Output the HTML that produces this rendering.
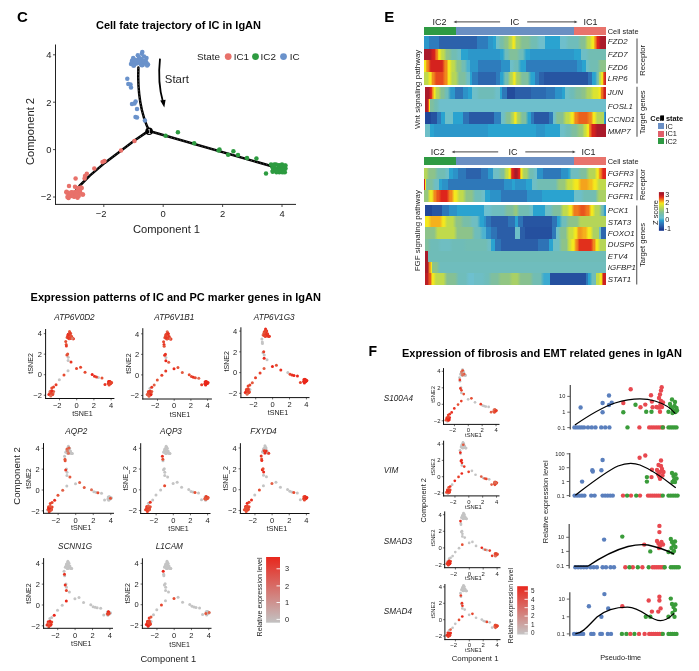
<!DOCTYPE html>
<html><head><meta charset="utf-8"><title>Figure</title>
<style>
html,body{margin:0;padding:0;background:#fff;width:699px;height:671px;overflow:hidden}
svg{display:block}
text{font-family:'Liberation Sans', Arial, sans-serif}
</style></head><body>
<svg width="699" height="671" viewBox="0 0 699 671">
<rect x="0" y="0" width="699" height="671" fill="#fff"/>
<text x="17" y="21.8" font-size="15" font-weight="bold">C</text>
<text x="178.5" y="29.3" font-size="11" text-anchor="middle" font-weight="bold">Cell fate trajectory of IC in IgAN</text>
<line x1="55.5" y1="44.5" x2="55.5" y2="204.9" stroke="#222" stroke-width="1"/>
<line x1="55" y1="204.4" x2="296" y2="204.4" stroke="#222" stroke-width="1"/>
<line x1="53" y1="54.8" x2="55.5" y2="54.8" stroke="#222" stroke-width="0.8"/>
<text x="51.5" y="58.1" font-size="9.4" text-anchor="end" fill="#222">4</text>
<line x1="53" y1="102.2" x2="55.5" y2="102.2" stroke="#222" stroke-width="0.8"/>
<text x="51.5" y="105.5" font-size="9.4" text-anchor="end" fill="#222">2</text>
<line x1="53" y1="149.6" x2="55.5" y2="149.6" stroke="#222" stroke-width="0.8"/>
<text x="51.5" y="152.9" font-size="9.4" text-anchor="end" fill="#222">0</text>
<line x1="53" y1="197" x2="55.5" y2="197" stroke="#222" stroke-width="0.8"/>
<text x="51.5" y="200.3" font-size="9.4" text-anchor="end" fill="#222">−2</text>
<line x1="103.8" y1="204.4" x2="103.8" y2="207" stroke="#222" stroke-width="0.8"/>
<text x="101.2" y="216.6" font-size="9.4" text-anchor="middle" fill="#222">−2</text>
<line x1="163.2" y1="204.4" x2="163.2" y2="207" stroke="#222" stroke-width="0.8"/>
<text x="163.2" y="216.6" font-size="9.4" text-anchor="middle" fill="#222">0</text>
<line x1="222.6" y1="204.4" x2="222.6" y2="207" stroke="#222" stroke-width="0.8"/>
<text x="222.6" y="216.6" font-size="9.4" text-anchor="middle" fill="#222">2</text>
<line x1="282" y1="204.4" x2="282" y2="207" stroke="#222" stroke-width="0.8"/>
<text x="282" y="216.6" font-size="9.4" text-anchor="middle" fill="#222">4</text>
<text x="166.5" y="233.2" font-size="11.2" text-anchor="middle" fill="#222">Component 1</text>
<text x="33.8" y="131.5" font-size="11.2" text-anchor="middle" fill="#222" transform="rotate(-90 33.8 131.5)">Component 2</text>
<g fill="none" stroke="#000" stroke-width="2.5" stroke-linecap="round" stroke-linejoin="round">
<path d="M138.4 67.6 C137.5 90 140 112 149.2 131"/>
<path d="M149.2 131 L146.4 132.4 L134.5 140.5 L119.6 151.7 L104.7 162.9 L89.8 175.6 L79.4 186 L76.4 189.7"/>
<path d="M149.2 131 L273.6 166.8"/>
</g>
<g fill="none" stroke="#fff" stroke-opacity="0.45" stroke-width="0.6" stroke-dasharray="1.3 1.9">
<path d="M138.4 67.6 C137.5 90 140 112 149.2 131"/>
<path d="M149.2 131 L146.4 132.4 L134.5 140.5 L119.6 151.7 L104.7 162.9 L89.8 175.6 L79.4 186 L76.4 189.7"/>
<path d="M149.2 131 L273.6 166.8"/>
</g>
<circle cx="134.5" cy="141" r="2.25" fill="#e8716a"/>
<circle cx="66.85" cy="192.51" r="2.25" fill="#e8716a"/>
<circle cx="77.54" cy="188.43" r="2.25" fill="#e8716a"/>
<circle cx="86.8" cy="173.8" r="2.25" fill="#e8716a"/>
<circle cx="78.74" cy="195.91" r="2.25" fill="#e8716a"/>
<circle cx="75.18" cy="192.04" r="2.25" fill="#e8716a"/>
<circle cx="77.21" cy="195.08" r="2.25" fill="#e8716a"/>
<circle cx="282.8" cy="167.64" r="2.25" fill="#2d9b40"/>
<circle cx="130.5" cy="84.5" r="2.25" fill="#6a92cb"/>
<circle cx="144.9" cy="120.5" r="2.25" fill="#6a92cb"/>
<circle cx="279.88" cy="171.62" r="2.25" fill="#2d9b40"/>
<circle cx="77.6" cy="197.67" r="2.25" fill="#e8716a"/>
<circle cx="284.58" cy="167.64" r="2.25" fill="#2d9b40"/>
<circle cx="135.41" cy="60.04" r="2.25" fill="#6a92cb"/>
<circle cx="280.06" cy="170.06" r="2.25" fill="#2d9b40"/>
<circle cx="281.99" cy="164.57" r="2.25" fill="#2d9b40"/>
<circle cx="75.36" cy="195.32" r="2.25" fill="#e8716a"/>
<circle cx="73.05" cy="193.32" r="2.25" fill="#e8716a"/>
<circle cx="285.5" cy="165.43" r="2.25" fill="#2d9b40"/>
<circle cx="279.6" cy="165.45" r="2.25" fill="#2d9b40"/>
<circle cx="72.57" cy="195.25" r="2.25" fill="#e8716a"/>
<circle cx="83" cy="194.49" r="2.25" fill="#e8716a"/>
<circle cx="284.76" cy="165.96" r="2.25" fill="#2d9b40"/>
<circle cx="104.5" cy="161" r="2.25" fill="#e8716a"/>
<circle cx="138.29" cy="62.43" r="2.25" fill="#6a92cb"/>
<circle cx="143.17" cy="60.81" r="2.25" fill="#6a92cb"/>
<circle cx="80.16" cy="192.25" r="2.25" fill="#e8716a"/>
<circle cx="145.51" cy="60.92" r="2.25" fill="#6a92cb"/>
<circle cx="84.6" cy="178.6" r="2.25" fill="#e8716a"/>
<circle cx="137.85" cy="61.24" r="2.25" fill="#6a92cb"/>
<circle cx="134.5" cy="103.5" r="2.25" fill="#6a92cb"/>
<circle cx="69" cy="186" r="2.25" fill="#e8716a"/>
<circle cx="72.2" cy="192.46" r="2.25" fill="#e8716a"/>
<circle cx="139.62" cy="62.46" r="2.25" fill="#6a92cb"/>
<circle cx="72.59" cy="194.58" r="2.25" fill="#e8716a"/>
<circle cx="70.69" cy="195.27" r="2.25" fill="#e8716a"/>
<circle cx="228.1" cy="154.7" r="2.25" fill="#2d9b40"/>
<circle cx="137.46" cy="60.74" r="2.25" fill="#6a92cb"/>
<circle cx="71.22" cy="192.34" r="2.25" fill="#e8716a"/>
<circle cx="272.7" cy="171.82" r="2.25" fill="#2d9b40"/>
<circle cx="277" cy="170.85" r="2.25" fill="#2d9b40"/>
<circle cx="273.11" cy="170.35" r="2.25" fill="#2d9b40"/>
<circle cx="280.71" cy="166.77" r="2.25" fill="#2d9b40"/>
<circle cx="138.19" cy="62.05" r="2.25" fill="#6a92cb"/>
<circle cx="68.49" cy="198.01" r="2.25" fill="#e8716a"/>
<circle cx="142.68" cy="65.05" r="2.25" fill="#6a92cb"/>
<circle cx="136.68" cy="63.52" r="2.25" fill="#6a92cb"/>
<circle cx="277.53" cy="168.88" r="2.25" fill="#2d9b40"/>
<circle cx="67.41" cy="197.09" r="2.25" fill="#e8716a"/>
<circle cx="78.38" cy="193.58" r="2.25" fill="#e8716a"/>
<circle cx="131" cy="64" r="2.25" fill="#6a92cb"/>
<circle cx="74.64" cy="195.11" r="2.25" fill="#e8716a"/>
<circle cx="137.67" cy="61.81" r="2.25" fill="#6a92cb"/>
<circle cx="75.67" cy="194.17" r="2.25" fill="#e8716a"/>
<circle cx="70.3" cy="196.15" r="2.25" fill="#e8716a"/>
<circle cx="74.51" cy="196.71" r="2.25" fill="#e8716a"/>
<circle cx="73.37" cy="192.67" r="2.25" fill="#e8716a"/>
<circle cx="73.72" cy="196.17" r="2.25" fill="#e8716a"/>
<circle cx="132.66" cy="64.12" r="2.25" fill="#6a92cb"/>
<circle cx="279.29" cy="172.13" r="2.25" fill="#2d9b40"/>
<circle cx="132.1" cy="61.37" r="2.25" fill="#6a92cb"/>
<circle cx="146.5" cy="58" r="2.25" fill="#6a92cb"/>
<circle cx="256.4" cy="158.4" r="2.25" fill="#2d9b40"/>
<circle cx="278.93" cy="168.23" r="2.25" fill="#2d9b40"/>
<circle cx="278.91" cy="165.15" r="2.25" fill="#2d9b40"/>
<circle cx="266" cy="173.4" r="2.25" fill="#2d9b40"/>
<circle cx="78.24" cy="190.23" r="2.25" fill="#e8716a"/>
<circle cx="143.79" cy="62.42" r="2.25" fill="#6a92cb"/>
<circle cx="272.5" cy="167.33" r="2.25" fill="#2d9b40"/>
<circle cx="76.41" cy="193.5" r="2.25" fill="#e8716a"/>
<circle cx="73.23" cy="196.35" r="2.25" fill="#e8716a"/>
<circle cx="140.87" cy="62.69" r="2.25" fill="#6a92cb"/>
<circle cx="78.57" cy="189.45" r="2.25" fill="#e8716a"/>
<circle cx="276.48" cy="172.2" r="2.25" fill="#2d9b40"/>
<circle cx="276.01" cy="164.62" r="2.25" fill="#2d9b40"/>
<circle cx="281.46" cy="170.8" r="2.25" fill="#2d9b40"/>
<circle cx="82.44" cy="194.41" r="2.25" fill="#e8716a"/>
<circle cx="145.5" cy="61.01" r="2.25" fill="#6a92cb"/>
<circle cx="132.95" cy="62.28" r="2.25" fill="#6a92cb"/>
<circle cx="139.09" cy="61.67" r="2.25" fill="#6a92cb"/>
<circle cx="146.61" cy="62.94" r="2.25" fill="#6a92cb"/>
<circle cx="219.5" cy="149.4" r="2.25" fill="#2d9b40"/>
<circle cx="144.56" cy="63.04" r="2.25" fill="#6a92cb"/>
<circle cx="140.67" cy="59.33" r="2.25" fill="#6a92cb"/>
<circle cx="238" cy="155" r="2.25" fill="#2d9b40"/>
<circle cx="141.54" cy="64.24" r="2.25" fill="#6a92cb"/>
<circle cx="75.6" cy="178.6" r="2.25" fill="#e8716a"/>
<circle cx="136.05" cy="61.85" r="2.25" fill="#6a92cb"/>
<circle cx="79.9" cy="190.62" r="2.25" fill="#e8716a"/>
<circle cx="280" cy="168.61" r="2.25" fill="#2d9b40"/>
<circle cx="127.3" cy="78.7" r="2.25" fill="#6a92cb"/>
<circle cx="137" cy="109" r="2.25" fill="#6a92cb"/>
<circle cx="71.67" cy="193.22" r="2.25" fill="#e8716a"/>
<circle cx="81" cy="187.5" r="2.25" fill="#e8716a"/>
<circle cx="133.2" cy="58" r="2.25" fill="#6a92cb"/>
<circle cx="139" cy="57.8" r="2.25" fill="#6a92cb"/>
<circle cx="284.82" cy="172.32" r="2.25" fill="#2d9b40"/>
<circle cx="121" cy="150.4" r="2.25" fill="#e8716a"/>
<circle cx="140.07" cy="61.59" r="2.25" fill="#6a92cb"/>
<circle cx="132" cy="104" r="2.25" fill="#6a92cb"/>
<circle cx="81.72" cy="188" r="2.25" fill="#e8716a"/>
<circle cx="136.13" cy="63.03" r="2.25" fill="#6a92cb"/>
<circle cx="134.19" cy="62.47" r="2.25" fill="#6a92cb"/>
<circle cx="131" cy="87.6" r="2.25" fill="#6a92cb"/>
<circle cx="194.2" cy="143.2" r="2.25" fill="#2d9b40"/>
<circle cx="142.3" cy="52" r="2.25" fill="#6a92cb"/>
<circle cx="128.3" cy="84" r="2.25" fill="#6a92cb"/>
<circle cx="284.68" cy="167.85" r="2.25" fill="#2d9b40"/>
<circle cx="78.01" cy="194.98" r="2.25" fill="#e8716a"/>
<circle cx="137.8" cy="55.2" r="2.25" fill="#6a92cb"/>
<circle cx="73.94" cy="196.09" r="2.25" fill="#e8716a"/>
<circle cx="279.39" cy="170.9" r="2.25" fill="#2d9b40"/>
<circle cx="280.22" cy="171.29" r="2.25" fill="#2d9b40"/>
<circle cx="281" cy="169.32" r="2.25" fill="#2d9b40"/>
<circle cx="73.26" cy="194.28" r="2.25" fill="#e8716a"/>
<circle cx="138.75" cy="61.02" r="2.25" fill="#6a92cb"/>
<circle cx="148" cy="64.5" r="2.25" fill="#6a92cb"/>
<circle cx="283.27" cy="167.57" r="2.25" fill="#2d9b40"/>
<circle cx="135.5" cy="117" r="2.25" fill="#6a92cb"/>
<circle cx="133.81" cy="63.14" r="2.25" fill="#6a92cb"/>
<circle cx="72.19" cy="195.33" r="2.25" fill="#e8716a"/>
<circle cx="132.13" cy="60.5" r="2.25" fill="#6a92cb"/>
<circle cx="144" cy="56.5" r="2.25" fill="#6a92cb"/>
<circle cx="271" cy="164.6" r="2.25" fill="#2d9b40"/>
<circle cx="134.8" cy="62.24" r="2.25" fill="#6a92cb"/>
<circle cx="283.06" cy="167.86" r="2.25" fill="#2d9b40"/>
<circle cx="140.78" cy="58.68" r="2.25" fill="#6a92cb"/>
<circle cx="141.85" cy="65.34" r="2.25" fill="#6a92cb"/>
<circle cx="69.28" cy="194.18" r="2.25" fill="#e8716a"/>
<circle cx="138.89" cy="61.66" r="2.25" fill="#6a92cb"/>
<circle cx="279.26" cy="166.79" r="2.25" fill="#2d9b40"/>
<circle cx="68.2" cy="193.12" r="2.25" fill="#e8716a"/>
<circle cx="141.8" cy="53.8" r="2.25" fill="#6a92cb"/>
<circle cx="279.57" cy="170.38" r="2.25" fill="#2d9b40"/>
<circle cx="75" cy="186.7" r="2.25" fill="#e8716a"/>
<circle cx="134" cy="65.4" r="2.25" fill="#6a92cb"/>
<circle cx="142.39" cy="60.6" r="2.25" fill="#6a92cb"/>
<circle cx="79.29" cy="189.95" r="2.25" fill="#e8716a"/>
<circle cx="285.5" cy="168.41" r="2.25" fill="#2d9b40"/>
<circle cx="66.5" cy="192.14" r="2.25" fill="#e8716a"/>
<circle cx="141.01" cy="64.56" r="2.25" fill="#6a92cb"/>
<circle cx="78.59" cy="188" r="2.25" fill="#e8716a"/>
<circle cx="142.72" cy="61.45" r="2.25" fill="#6a92cb"/>
<circle cx="94.3" cy="168.6" r="2.25" fill="#e8716a"/>
<circle cx="272.73" cy="170.97" r="2.25" fill="#2d9b40"/>
<circle cx="277.66" cy="170.98" r="2.25" fill="#2d9b40"/>
<circle cx="66.5" cy="191.73" r="2.25" fill="#e8716a"/>
<circle cx="284.03" cy="170.17" r="2.25" fill="#2d9b40"/>
<circle cx="233.4" cy="151.3" r="2.25" fill="#2d9b40"/>
<circle cx="275.29" cy="168.27" r="2.25" fill="#2d9b40"/>
<circle cx="279.08" cy="168.78" r="2.25" fill="#2d9b40"/>
<circle cx="282.28" cy="172.27" r="2.25" fill="#2d9b40"/>
<circle cx="274.25" cy="164.53" r="2.25" fill="#2d9b40"/>
<circle cx="165.6" cy="135.8" r="2.25" fill="#2d9b40"/>
<circle cx="218.6" cy="150.5" r="2.25" fill="#2d9b40"/>
<circle cx="137" cy="117.5" r="2.25" fill="#6a92cb"/>
<circle cx="281.75" cy="165.89" r="2.25" fill="#2d9b40"/>
<circle cx="277.25" cy="170.5" r="2.25" fill="#2d9b40"/>
<circle cx="177.9" cy="132.3" r="2.25" fill="#2d9b40"/>
<circle cx="273.03" cy="165.59" r="2.25" fill="#2d9b40"/>
<circle cx="75.45" cy="193.9" r="2.25" fill="#e8716a"/>
<circle cx="85" cy="176" r="2.25" fill="#e8716a"/>
<circle cx="140.26" cy="62.58" r="2.25" fill="#6a92cb"/>
<circle cx="135.07" cy="61.18" r="2.25" fill="#6a92cb"/>
<circle cx="247" cy="157.9" r="2.25" fill="#2d9b40"/>
<circle cx="102.5" cy="162" r="2.25" fill="#e8716a"/>
<circle cx="280.38" cy="169.9" r="2.25" fill="#2d9b40"/>
<circle cx="133.39" cy="65.5" r="2.25" fill="#6a92cb"/>
<circle cx="147.12" cy="65.41" r="2.25" fill="#6a92cb"/>
<circle cx="76.32" cy="193.08" r="2.25" fill="#e8716a"/>
<circle cx="135.6" cy="101.5" r="2.25" fill="#6a92cb"/>
<circle cx="76.18" cy="195.03" r="2.25" fill="#e8716a"/>
<circle cx="134.39" cy="59.76" r="2.25" fill="#6a92cb"/>
<circle cx="283.58" cy="172.02" r="2.25" fill="#2d9b40"/>
<circle cx="139.32" cy="60.97" r="2.25" fill="#6a92cb"/>
<circle cx="282.39" cy="168.65" r="2.25" fill="#2d9b40"/>
<circle cx="284.84" cy="165.75" r="2.25" fill="#2d9b40"/>
<circle cx="149.1" cy="131.2" r="3.8" fill="#000"/>
<text x="149.2" y="133.6" font-size="6.3" text-anchor="middle" fill="#fff">1</text>
<path d="M160 58.6 C158.2 75 159.5 90 163 102" fill="none" stroke="#000" stroke-width="1.8"/>
<path d="M160.2 100.5 L164.3 107.5 L165.6 99.8 Z" fill="#000"/>
<text x="164.8" y="82.9" font-size="11.4" fill="#222">Start</text>
<text x="197" y="60.3" font-size="9.9" fill="#222">State</text>
<circle cx="228.2" cy="56.6" r="3.4" fill="#e8716a"/>
<text x="233.7" y="60.3" font-size="9.9" fill="#222">IC1</text>
<circle cx="255.5" cy="56.6" r="3.4" fill="#2d9b40"/>
<text x="260.6" y="60.3" font-size="9.9" fill="#222">IC2</text>
<circle cx="283.5" cy="56.6" r="3.4" fill="#6a92cb"/>
<text x="289.8" y="60.3" font-size="9.9" fill="#222">IC</text>
<text x="384.3" y="22.4" font-size="15" font-weight="bold">E</text>
<text x="439.6" y="24.6" font-size="9" text-anchor="middle" fill="#222">IC2</text>
<text x="514.8" y="24.6" font-size="9" text-anchor="middle" fill="#222">IC</text>
<text x="590.5" y="24.6" font-size="9" text-anchor="middle" fill="#222">IC1</text>
<line x1="456" y1="21.9" x2="500.1" y2="21.9" stroke="#444" stroke-width="1"/>
<path d="M453.5 21.9 l3 -1.3 v2.6z" fill="#444"/>
<line x1="527.2" y1="21.9" x2="575" y2="21.9" stroke="#444" stroke-width="1"/>
<path d="M577.5 21.9 l-3 -1.3 v2.6z" fill="#444"/>
<g shape-rendering="crispEdges">
<rect x="424" y="27.2" width="32" height="7.7" fill="#2e9a43"/>
<rect x="456" y="27.2" width="118" height="7.7" fill="#6a8fc2"/>
<rect x="574" y="27.2" width="32" height="7.7" fill="#e8736c"/>
</g>
<text x="607.7" y="33.75" font-size="7.4" fill="#222">Cell state</text>
<linearGradient id="hg1" gradientUnits="userSpaceOnUse" x1="424" y1="0" x2="606" y2="0">
<stop offset="0.0000" stop-color="#2c97ca"/>
<stop offset="0.0269" stop-color="#2c97ca"/>
<stop offset="0.0269" stop-color="#2e7cbc"/>
<stop offset="0.0819" stop-color="#2e7cbc"/>
<stop offset="0.0819" stop-color="#2c62ab"/>
<stop offset="0.2901" stop-color="#2c62ab"/>
<stop offset="0.2901" stop-color="#2e7cbc"/>
<stop offset="0.3511" stop-color="#2e7cbc"/>
<stop offset="0.3511" stop-color="#2c97ca"/>
<stop offset="0.3780" stop-color="#2c97ca"/>
<stop offset="0.3780" stop-color="#2aa3d0"/>
<stop offset="0.3951" stop-color="#2aa3d0"/>
<stop offset="0.3951" stop-color="#6ebfc8"/>
<stop offset="0.4085" stop-color="#6ebfc8"/>
<stop offset="0.4219" stop-color="#78bea9"/>
<stop offset="0.4320" stop-color="#78bea9"/>
<stop offset="0.4473" stop-color="#8dc38a"/>
<stop offset="0.4576" stop-color="#8dc38a"/>
<stop offset="0.4713" stop-color="#b5d558"/>
<stop offset="0.4792" stop-color="#b5d558"/>
<stop offset="0.4896" stop-color="#f3e81e"/>
<stop offset="0.4955" stop-color="#f3e81e"/>
<stop offset="0.5087" stop-color="#a1cd70"/>
<stop offset="0.5204" stop-color="#a1cd70"/>
<stop offset="0.5390" stop-color="#85c095"/>
<stop offset="0.5725" stop-color="#85c095"/>
<stop offset="0.5923" stop-color="#72bdb3"/>
<stop offset="0.6165" stop-color="#72bdb3"/>
<stop offset="0.6363" stop-color="#6ebfcc"/>
<stop offset="0.6643" stop-color="#6ebfcc"/>
<stop offset="0.6643" stop-color="#2aa3d0"/>
<stop offset="0.7473" stop-color="#2aa3d0"/>
<stop offset="0.7473" stop-color="#6ebfcc"/>
<stop offset="0.7758" stop-color="#6ebfcc"/>
<stop offset="0.7956" stop-color="#6fbdbb"/>
<stop offset="0.8445" stop-color="#6fbdbb"/>
<stop offset="0.8643" stop-color="#85c095"/>
<stop offset="0.8835" stop-color="#85c095"/>
<stop offset="0.9007" stop-color="#c0da4c"/>
<stop offset="0.9103" stop-color="#c0da4c"/>
<stop offset="0.9235" stop-color="#f3e81e"/>
<stop offset="0.9314" stop-color="#f3e81e"/>
<stop offset="0.9403" stop-color="#f1881d"/>
<stop offset="0.9443" stop-color="#f1881d"/>
<stop offset="0.9515" stop-color="#de241c"/>
<stop offset="0.9573" stop-color="#de241c"/>
<stop offset="0.9714" stop-color="#aa1a2a"/>
<stop offset="1.0000" stop-color="#aa1a2a"/>
</linearGradient>
<rect x="424" y="36.2" width="182" height="12.6" fill="url(#hg1)" shape-rendering="crispEdges"/>
<linearGradient id="hg2" gradientUnits="userSpaceOnUse" x1="424" y1="0" x2="606" y2="0">
<stop offset="0.0000" stop-color="#aa1a2a"/>
<stop offset="0.0330" stop-color="#aa1a2a"/>
<stop offset="0.0490" stop-color="#d5221e"/>
<stop offset="0.0571" stop-color="#d5221e"/>
<stop offset="0.0673" stop-color="#f07a1e"/>
<stop offset="0.0728" stop-color="#f07a1e"/>
<stop offset="0.0810" stop-color="#f3e81e"/>
<stop offset="0.0865" stop-color="#f3e81e"/>
<stop offset="0.0981" stop-color="#c0da4c"/>
<stop offset="0.1080" stop-color="#c0da4c"/>
<stop offset="0.1243" stop-color="#8dc38a"/>
<stop offset="0.1362" stop-color="#8dc38a"/>
<stop offset="0.1549" stop-color="#72bdb3"/>
<stop offset="0.1742" stop-color="#72bdb3"/>
<stop offset="0.1898" stop-color="#6ebec5"/>
<stop offset="0.2033" stop-color="#6ebec5"/>
<stop offset="0.2033" stop-color="#2aa3d0"/>
<stop offset="0.2418" stop-color="#2aa3d0"/>
<stop offset="0.2418" stop-color="#2c97ca"/>
<stop offset="0.4170" stop-color="#2c97ca"/>
<stop offset="0.4170" stop-color="#2aa3d0"/>
<stop offset="0.4324" stop-color="#2aa3d0"/>
<stop offset="0.4469" stop-color="#6fbdbb"/>
<stop offset="0.4575" stop-color="#6fbdbb"/>
<stop offset="0.4753" stop-color="#82c09a"/>
<stop offset="0.5093" stop-color="#82c09a"/>
<stop offset="0.5291" stop-color="#6fbcb8"/>
<stop offset="0.5434" stop-color="#6fbcb8"/>
<stop offset="0.5620" stop-color="#2aa3d0"/>
<stop offset="0.5824" stop-color="#2aa3d0"/>
<stop offset="0.5824" stop-color="#2c97ca"/>
<stop offset="0.8225" stop-color="#2c97ca"/>
<stop offset="0.8225" stop-color="#2aa3d0"/>
<stop offset="0.8615" stop-color="#2aa3d0"/>
<stop offset="0.8615" stop-color="#6ebec5"/>
<stop offset="0.8885" stop-color="#6ebec5"/>
<stop offset="0.9082" stop-color="#72bdb3"/>
<stop offset="1.0000" stop-color="#72bdb3"/>
</linearGradient>
<rect x="424" y="48.8" width="182" height="11.2" fill="url(#hg2)" shape-rendering="crispEdges"/>
<linearGradient id="hg3" gradientUnits="userSpaceOnUse" x1="424" y1="0" x2="606" y2="0">
<stop offset="0.0000" stop-color="#f3e81e"/>
<stop offset="0.0077" stop-color="#f3e81e"/>
<stop offset="0.0159" stop-color="#f1881d"/>
<stop offset="0.0225" stop-color="#f1881d"/>
<stop offset="0.0374" stop-color="#d5221e"/>
<stop offset="0.1000" stop-color="#d5221e"/>
<stop offset="0.1160" stop-color="#f1881d"/>
<stop offset="0.1241" stop-color="#f1881d"/>
<stop offset="0.1347" stop-color="#f3e81e"/>
<stop offset="0.1406" stop-color="#f3e81e"/>
<stop offset="0.1538" stop-color="#c0da4c"/>
<stop offset="0.1654" stop-color="#c0da4c"/>
<stop offset="0.1829" stop-color="#8dc38a"/>
<stop offset="0.1946" stop-color="#8dc38a"/>
<stop offset="0.2122" stop-color="#72bdb3"/>
<stop offset="0.2241" stop-color="#72bdb3"/>
<stop offset="0.2389" stop-color="#4cb2d0"/>
<stop offset="0.2527" stop-color="#4cb2d0"/>
<stop offset="0.2527" stop-color="#2c97ca"/>
<stop offset="0.2967" stop-color="#2c97ca"/>
<stop offset="0.2967" stop-color="#2e7cbc"/>
<stop offset="0.4214" stop-color="#2e7cbc"/>
<stop offset="0.4214" stop-color="#2c92c8"/>
<stop offset="0.4703" stop-color="#2c92c8"/>
<stop offset="0.4703" stop-color="#6ebfc8"/>
<stop offset="0.4842" stop-color="#6ebfc8"/>
<stop offset="0.5000" stop-color="#6fbcb8"/>
<stop offset="0.5143" stop-color="#6fbcb8"/>
<stop offset="0.5341" stop-color="#2aa3d0"/>
<stop offset="0.5604" stop-color="#2aa3d0"/>
<stop offset="0.5604" stop-color="#2e7cbc"/>
<stop offset="0.8396" stop-color="#2e7cbc"/>
<stop offset="0.8396" stop-color="#2c92c8"/>
<stop offset="0.8665" stop-color="#2c92c8"/>
<stop offset="0.8665" stop-color="#2aa3d0"/>
<stop offset="0.8907" stop-color="#2aa3d0"/>
<stop offset="0.8907" stop-color="#6ebfc8"/>
<stop offset="0.9010" stop-color="#6ebfc8"/>
<stop offset="0.9154" stop-color="#72bdb3"/>
<stop offset="0.9516" stop-color="#72bdb3"/>
<stop offset="0.9714" stop-color="#8dc38a"/>
<stop offset="1.0000" stop-color="#8dc38a"/>
</linearGradient>
<rect x="424" y="60" width="182" height="12" fill="url(#hg3)" shape-rendering="crispEdges"/>
<linearGradient id="hg4" gradientUnits="userSpaceOnUse" x1="424" y1="0" x2="606" y2="0">
<stop offset="0.0000" stop-color="#c0da4c"/>
<stop offset="0.0192" stop-color="#c0da4c"/>
<stop offset="0.0321" stop-color="#f3e81e"/>
<stop offset="0.0382" stop-color="#f3e81e"/>
<stop offset="0.0471" stop-color="#f1881d"/>
<stop offset="0.0529" stop-color="#f1881d"/>
<stop offset="0.0670" stop-color="#e6491d"/>
<stop offset="0.1011" stop-color="#e6491d"/>
<stop offset="0.1168" stop-color="#f1881d"/>
<stop offset="0.1245" stop-color="#f1881d"/>
<stop offset="0.1347" stop-color="#f3e81e"/>
<stop offset="0.1406" stop-color="#f3e81e"/>
<stop offset="0.1549" stop-color="#b5d558"/>
<stop offset="0.1742" stop-color="#b5d558"/>
<stop offset="0.1940" stop-color="#7fbf9f"/>
<stop offset="0.2231" stop-color="#7fbf9f"/>
<stop offset="0.2389" stop-color="#6ebec5"/>
<stop offset="0.2527" stop-color="#6ebec5"/>
<stop offset="0.2527" stop-color="#2aa3d0"/>
<stop offset="0.2648" stop-color="#2aa3d0"/>
<stop offset="0.2648" stop-color="#2e7cbc"/>
<stop offset="0.2940" stop-color="#2e7cbc"/>
<stop offset="0.2940" stop-color="#2c66ae"/>
<stop offset="0.3951" stop-color="#2c66ae"/>
<stop offset="0.3951" stop-color="#2e7cbc"/>
<stop offset="0.4192" stop-color="#2e7cbc"/>
<stop offset="0.4192" stop-color="#2aa3d0"/>
<stop offset="0.4312" stop-color="#2aa3d0"/>
<stop offset="0.4462" stop-color="#72bdb3"/>
<stop offset="0.4604" stop-color="#72bdb3"/>
<stop offset="0.4763" stop-color="#b5d558"/>
<stop offset="0.4842" stop-color="#b5d558"/>
<stop offset="0.4937" stop-color="#f3e81e"/>
<stop offset="0.4986" stop-color="#f3e81e"/>
<stop offset="0.5103" stop-color="#a6cf6a"/>
<stop offset="0.5210" stop-color="#a6cf6a"/>
<stop offset="0.5390" stop-color="#7fbf9f"/>
<stop offset="0.5703" stop-color="#7fbf9f"/>
<stop offset="0.5890" stop-color="#2aa3d0"/>
<stop offset="0.6093" stop-color="#2aa3d0"/>
<stop offset="0.6093" stop-color="#2e7cbc"/>
<stop offset="0.6313" stop-color="#2e7cbc"/>
<stop offset="0.6313" stop-color="#2c62ab"/>
<stop offset="0.6593" stop-color="#2c62ab"/>
<stop offset="0.6593" stop-color="#2755a2"/>
<stop offset="0.8984" stop-color="#2755a2"/>
<stop offset="0.8984" stop-color="#2d6fb4"/>
<stop offset="0.9253" stop-color="#2d6fb4"/>
<stop offset="0.9253" stop-color="#2aa3d0"/>
<stop offset="0.9407" stop-color="#2aa3d0"/>
<stop offset="0.9515" stop-color="#72bdb3"/>
<stop offset="0.9573" stop-color="#72bdb3"/>
<stop offset="0.9652" stop-color="#c0da4c"/>
<stop offset="0.9700" stop-color="#c0da4c"/>
<stop offset="0.9766" stop-color="#f3e81e"/>
<stop offset="0.9805" stop-color="#f3e81e"/>
<stop offset="0.9857" stop-color="#ed6e1e"/>
<stop offset="0.9885" stop-color="#ed6e1e"/>
<stop offset="0.9935" stop-color="#cd2121"/>
<stop offset="1.0000" stop-color="#cd2121"/>
</linearGradient>
<rect x="424" y="72" width="182" height="12.8" fill="url(#hg4)" shape-rendering="crispEdges"/>
<linearGradient id="hg5" gradientUnits="userSpaceOnUse" x1="425.1" y1="0" x2="606" y2="0">
<stop offset="0.0000" stop-color="#aa1a2a"/>
<stop offset="0.0205" stop-color="#aa1a2a"/>
<stop offset="0.0316" stop-color="#de241c"/>
<stop offset="0.0347" stop-color="#de241c"/>
<stop offset="0.0399" stop-color="#f1881d"/>
<stop offset="0.0436" stop-color="#f1881d"/>
<stop offset="0.0494" stop-color="#f3e81e"/>
<stop offset="0.0534" stop-color="#f3e81e"/>
<stop offset="0.0637" stop-color="#b5d558"/>
<stop offset="0.0734" stop-color="#b5d558"/>
<stop offset="0.0895" stop-color="#85c095"/>
<stop offset="0.1012" stop-color="#85c095"/>
<stop offset="0.1166" stop-color="#6fbdbb"/>
<stop offset="0.1255" stop-color="#6fbdbb"/>
<stop offset="0.1421" stop-color="#2c97ca"/>
<stop offset="0.1669" stop-color="#2c97ca"/>
<stop offset="0.1669" stop-color="#2e73b6"/>
<stop offset="0.2084" stop-color="#2e73b6"/>
<stop offset="0.2084" stop-color="#2c92c8"/>
<stop offset="0.2377" stop-color="#2c92c8"/>
<stop offset="0.2377" stop-color="#2aa3d0"/>
<stop offset="0.2598" stop-color="#2aa3d0"/>
<stop offset="0.2598" stop-color="#6ebfc8"/>
<stop offset="0.2823" stop-color="#6ebfc8"/>
<stop offset="0.3018" stop-color="#6fbcb8"/>
<stop offset="0.3765" stop-color="#6fbcb8"/>
<stop offset="0.3945" stop-color="#6ebfc8"/>
<stop offset="0.4135" stop-color="#6ebfc8"/>
<stop offset="0.4135" stop-color="#2aa3d0"/>
<stop offset="0.4251" stop-color="#2aa3d0"/>
<stop offset="0.4251" stop-color="#2e78b9"/>
<stop offset="0.4527" stop-color="#2e78b9"/>
<stop offset="0.4527" stop-color="#234c9c"/>
<stop offset="0.4970" stop-color="#234c9c"/>
<stop offset="0.4970" stop-color="#2b5ea8"/>
<stop offset="0.5854" stop-color="#2b5ea8"/>
<stop offset="0.5854" stop-color="#2c6bb1"/>
<stop offset="0.6672" stop-color="#2c6bb1"/>
<stop offset="0.6672" stop-color="#2e78b9"/>
<stop offset="0.7186" stop-color="#2e78b9"/>
<stop offset="0.7186" stop-color="#2c92c8"/>
<stop offset="0.7551" stop-color="#2c92c8"/>
<stop offset="0.7551" stop-color="#2aa3d0"/>
<stop offset="0.7728" stop-color="#2aa3d0"/>
<stop offset="0.7728" stop-color="#6ebfc8"/>
<stop offset="0.7898" stop-color="#6ebfc8"/>
<stop offset="0.8066" stop-color="#6fbcb8"/>
<stop offset="0.8192" stop-color="#6fbcb8"/>
<stop offset="0.8386" stop-color="#7fbf9f"/>
<stop offset="0.8535" stop-color="#7fbf9f"/>
<stop offset="0.8713" stop-color="#8dc38a"/>
<stop offset="0.8816" stop-color="#8dc38a"/>
<stop offset="0.8992" stop-color="#b0d35e"/>
<stop offset="0.9123" stop-color="#b0d35e"/>
<stop offset="0.9320" stop-color="#dbe331"/>
<stop offset="0.9514" stop-color="#dbe331"/>
<stop offset="0.9643" stop-color="#f3e81e"/>
<stop offset="0.9683" stop-color="#f3e81e"/>
<stop offset="0.9756" stop-color="#ed6e1e"/>
<stop offset="0.9813" stop-color="#ed6e1e"/>
<stop offset="0.9899" stop-color="#cd2121"/>
<stop offset="1.0000" stop-color="#cd2121"/>
</linearGradient>
<rect x="425.1" y="87.1" width="180.9" height="11.8" fill="url(#hg5)" shape-rendering="crispEdges"/>
<linearGradient id="hg6" gradientUnits="userSpaceOnUse" x1="425.1" y1="0" x2="606" y2="0">
<stop offset="0.0000" stop-color="#aa1a2a"/>
<stop offset="0.0120" stop-color="#aa1a2a"/>
<stop offset="0.0186" stop-color="#e8551d"/>
<stop offset="0.0206" stop-color="#e8551d"/>
<stop offset="0.0236" stop-color="#f3e81e"/>
<stop offset="0.0271" stop-color="#f3e81e"/>
<stop offset="0.0271" stop-color="#7fbf9f"/>
<stop offset="0.0426" stop-color="#7fbf9f"/>
<stop offset="0.0558" stop-color="#72bdb3"/>
<stop offset="0.0647" stop-color="#72bdb3"/>
<stop offset="0.0813" stop-color="#6ebfcc"/>
<stop offset="1.0000" stop-color="#6ebfcc"/>
</linearGradient>
<rect x="425.1" y="98.9" width="180.9" height="13.1" fill="url(#hg6)" shape-rendering="crispEdges"/>
<linearGradient id="hg7" gradientUnits="userSpaceOnUse" x1="425.1" y1="0" x2="606" y2="0">
<stop offset="0.0000" stop-color="#214799"/>
<stop offset="0.0326" stop-color="#214799"/>
<stop offset="0.0326" stop-color="#2653a1"/>
<stop offset="0.0674" stop-color="#2653a1"/>
<stop offset="0.0674" stop-color="#2e7cbc"/>
<stop offset="0.0879" stop-color="#2e7cbc"/>
<stop offset="0.0879" stop-color="#2aa3d0"/>
<stop offset="0.1100" stop-color="#2aa3d0"/>
<stop offset="0.1100" stop-color="#6ebfc8"/>
<stop offset="0.1542" stop-color="#6ebfc8"/>
<stop offset="0.1542" stop-color="#2aa3d0"/>
<stop offset="0.2084" stop-color="#2aa3d0"/>
<stop offset="0.2084" stop-color="#2e73b6"/>
<stop offset="0.2427" stop-color="#2e73b6"/>
<stop offset="0.2427" stop-color="#2959a5"/>
<stop offset="0.3836" stop-color="#2959a5"/>
<stop offset="0.3836" stop-color="#2f80bf"/>
<stop offset="0.4179" stop-color="#2f80bf"/>
<stop offset="0.4179" stop-color="#6ebfc8"/>
<stop offset="0.4353" stop-color="#6ebfc8"/>
<stop offset="0.4527" stop-color="#85c095"/>
<stop offset="0.4671" stop-color="#85c095"/>
<stop offset="0.4814" stop-color="#b0d35e"/>
<stop offset="0.4871" stop-color="#b0d35e"/>
<stop offset="0.4959" stop-color="#f3e81e"/>
<stop offset="0.5019" stop-color="#f3e81e"/>
<stop offset="0.5123" stop-color="#abd164"/>
<stop offset="0.5203" stop-color="#abd164"/>
<stop offset="0.5362" stop-color="#7fbf9f"/>
<stop offset="0.5556" stop-color="#7fbf9f"/>
<stop offset="0.5713" stop-color="#2aa3d0"/>
<stop offset="0.5849" stop-color="#2aa3d0"/>
<stop offset="0.5849" stop-color="#2e78b9"/>
<stop offset="0.5998" stop-color="#2e78b9"/>
<stop offset="0.5998" stop-color="#2959a5"/>
<stop offset="0.6866" stop-color="#2959a5"/>
<stop offset="0.6866" stop-color="#2e78b9"/>
<stop offset="0.7065" stop-color="#2e78b9"/>
<stop offset="0.7065" stop-color="#6ebfc8"/>
<stop offset="0.7165" stop-color="#6ebfc8"/>
<stop offset="0.7308" stop-color="#85c095"/>
<stop offset="0.7601" stop-color="#85c095"/>
<stop offset="0.7800" stop-color="#c0da4c"/>
<stop offset="0.7944" stop-color="#c0da4c"/>
<stop offset="0.8103" stop-color="#f3e81e"/>
<stop offset="0.8182" stop-color="#f3e81e"/>
<stop offset="0.8300" stop-color="#f1881d"/>
<stop offset="0.8378" stop-color="#f1881d"/>
<stop offset="0.8535" stop-color="#eb611d"/>
<stop offset="0.8928" stop-color="#eb611d"/>
<stop offset="0.9093" stop-color="#f1881d"/>
<stop offset="0.9182" stop-color="#f1881d"/>
<stop offset="0.9300" stop-color="#f3e81e"/>
<stop offset="0.9368" stop-color="#f3e81e"/>
<stop offset="0.9519" stop-color="#b5d558"/>
<stop offset="0.9862" stop-color="#b5d558"/>
<stop offset="0.9862" stop-color="#2aa3d0"/>
<stop offset="0.9934" stop-color="#2aa3d0"/>
<stop offset="0.9934" stop-color="#2e78b9"/>
<stop offset="1.0000" stop-color="#2e78b9"/>
</linearGradient>
<rect x="425.1" y="112" width="180.9" height="11.9" fill="url(#hg7)" shape-rendering="crispEdges"/>
<linearGradient id="hg8" gradientUnits="userSpaceOnUse" x1="425.1" y1="0" x2="606" y2="0">
<stop offset="0.0000" stop-color="#6ebfc8"/>
<stop offset="0.0271" stop-color="#6ebfc8"/>
<stop offset="0.0271" stop-color="#2aa3d0"/>
<stop offset="0.0514" stop-color="#2aa3d0"/>
<stop offset="0.0514" stop-color="#2c97ca"/>
<stop offset="0.3472" stop-color="#2c97ca"/>
<stop offset="0.3472" stop-color="#2aa3d0"/>
<stop offset="0.6142" stop-color="#2aa3d0"/>
<stop offset="0.6142" stop-color="#2c95c9"/>
<stop offset="0.6628" stop-color="#2c95c9"/>
<stop offset="0.6628" stop-color="#2aa3d0"/>
<stop offset="0.7457" stop-color="#2aa3d0"/>
<stop offset="0.7457" stop-color="#6ebfc8"/>
<stop offset="0.7662" stop-color="#6ebfc8"/>
<stop offset="0.7845" stop-color="#6fbcb8"/>
<stop offset="0.7971" stop-color="#6fbcb8"/>
<stop offset="0.8165" stop-color="#7fbf9f"/>
<stop offset="0.8336" stop-color="#7fbf9f"/>
<stop offset="0.8535" stop-color="#97c87d"/>
<stop offset="0.8684" stop-color="#97c87d"/>
<stop offset="0.8827" stop-color="#cade40"/>
<stop offset="0.8884" stop-color="#cade40"/>
<stop offset="0.8972" stop-color="#f3e81e"/>
<stop offset="0.9032" stop-color="#f3e81e"/>
<stop offset="0.9105" stop-color="#ed6e1e"/>
<stop offset="0.9143" stop-color="#ed6e1e"/>
<stop offset="0.9245" stop-color="#d5221e"/>
<stop offset="0.9345" stop-color="#d5221e"/>
<stop offset="0.9519" stop-color="#aa1a2a"/>
<stop offset="1.0000" stop-color="#aa1a2a"/>
</linearGradient>
<rect x="425.1" y="123.9" width="180.9" height="12.7" fill="url(#hg8)" shape-rendering="crispEdges"/>
<text x="437.7" y="154.6" font-size="9" text-anchor="middle" fill="#222">IC2</text>
<text x="512.9" y="154.6" font-size="9" text-anchor="middle" fill="#222">IC</text>
<text x="588.6" y="154.6" font-size="9" text-anchor="middle" fill="#222">IC1</text>
<line x1="454.1" y1="151.9" x2="498.2" y2="151.9" stroke="#444" stroke-width="1"/>
<path d="M451.6 151.9 l3 -1.3 v2.6z" fill="#444"/>
<line x1="525.3" y1="151.9" x2="573.1" y2="151.9" stroke="#444" stroke-width="1"/>
<path d="M575.6 151.9 l-3 -1.3 v2.6z" fill="#444"/>
<g shape-rendering="crispEdges">
<rect x="424" y="157.2" width="32" height="7.4" fill="#2e9a43"/>
<rect x="456" y="157.2" width="118" height="7.4" fill="#6a8fc2"/>
<rect x="574" y="157.2" width="32" height="7.4" fill="#e8736c"/>
</g>
<text x="607.7" y="163.6" font-size="7.4" fill="#222">Cell state</text>
<linearGradient id="hg9" gradientUnits="userSpaceOnUse" x1="424" y1="0" x2="606" y2="0">
<stop offset="0.0000" stop-color="#b5d558"/>
<stop offset="0.0127" stop-color="#b5d558"/>
<stop offset="0.0280" stop-color="#8dc38a"/>
<stop offset="0.0571" stop-color="#8dc38a"/>
<stop offset="0.0769" stop-color="#72bdb3"/>
<stop offset="0.1110" stop-color="#72bdb3"/>
<stop offset="0.1258" stop-color="#6ebfc8"/>
<stop offset="0.1374" stop-color="#6ebfc8"/>
<stop offset="0.1374" stop-color="#2aa3d0"/>
<stop offset="0.1593" stop-color="#2aa3d0"/>
<stop offset="0.1593" stop-color="#2c92c8"/>
<stop offset="0.1868" stop-color="#2c92c8"/>
<stop offset="0.1868" stop-color="#2e78b9"/>
<stop offset="0.2308" stop-color="#2e78b9"/>
<stop offset="0.2308" stop-color="#2c62ab"/>
<stop offset="0.3132" stop-color="#2c62ab"/>
<stop offset="0.3132" stop-color="#2e78b9"/>
<stop offset="0.3511" stop-color="#2e78b9"/>
<stop offset="0.3511" stop-color="#2c97ca"/>
<stop offset="0.3802" stop-color="#2c97ca"/>
<stop offset="0.3802" stop-color="#6ebec5"/>
<stop offset="0.4071" stop-color="#6ebec5"/>
<stop offset="0.4258" stop-color="#7fbf9f"/>
<stop offset="0.4374" stop-color="#7fbf9f"/>
<stop offset="0.4519" stop-color="#c0da4c"/>
<stop offset="0.4596" stop-color="#c0da4c"/>
<stop offset="0.4692" stop-color="#f3e81e"/>
<stop offset="0.4742" stop-color="#f3e81e"/>
<stop offset="0.4823" stop-color="#de241c"/>
<stop offset="0.4880" stop-color="#de241c"/>
<stop offset="0.5004" stop-color="#aa1a2a"/>
<stop offset="0.5112" stop-color="#aa1a2a"/>
<stop offset="0.5222" stop-color="#de241c"/>
<stop offset="0.5262" stop-color="#de241c"/>
<stop offset="0.5319" stop-color="#f3e81e"/>
<stop offset="0.5357" stop-color="#f3e81e"/>
<stop offset="0.5484" stop-color="#abd164"/>
<stop offset="0.5632" stop-color="#abd164"/>
<stop offset="0.5830" stop-color="#72bdb3"/>
<stop offset="0.5973" stop-color="#72bdb3"/>
<stop offset="0.6114" stop-color="#6ebfc8"/>
<stop offset="0.6214" stop-color="#6ebfc8"/>
<stop offset="0.6214" stop-color="#2c92c8"/>
<stop offset="0.6555" stop-color="#2c92c8"/>
<stop offset="0.6555" stop-color="#2e78b9"/>
<stop offset="0.7522" stop-color="#2e78b9"/>
<stop offset="0.7522" stop-color="#2c92c8"/>
<stop offset="0.7885" stop-color="#2c92c8"/>
<stop offset="0.7885" stop-color="#2aa3d0"/>
<stop offset="0.7969" stop-color="#2aa3d0"/>
<stop offset="0.8104" stop-color="#6fbdbf"/>
<stop offset="0.8445" stop-color="#6fbdbf"/>
<stop offset="0.8643" stop-color="#7fbf9f"/>
<stop offset="0.8885" stop-color="#7fbf9f"/>
<stop offset="0.9082" stop-color="#b5d558"/>
<stop offset="0.9374" stop-color="#b5d558"/>
<stop offset="0.9515" stop-color="#f3e81e"/>
<stop offset="0.9573" stop-color="#f3e81e"/>
<stop offset="0.9660" stop-color="#f1881d"/>
<stop offset="0.9719" stop-color="#f1881d"/>
<stop offset="0.9835" stop-color="#de241c"/>
<stop offset="1.0000" stop-color="#de241c"/>
</linearGradient>
<rect x="424" y="168.1" width="182" height="10.7" fill="url(#hg9)" shape-rendering="crispEdges"/>
<linearGradient id="hg10" gradientUnits="userSpaceOnUse" x1="424" y1="0" x2="606" y2="0">
<stop offset="0.0000" stop-color="#cd2121"/>
<stop offset="0.0042" stop-color="#cd2121"/>
<stop offset="0.0075" stop-color="#f3e81e"/>
<stop offset="0.0110" stop-color="#f3e81e"/>
<stop offset="0.0110" stop-color="#7fbf9f"/>
<stop offset="0.0423" stop-color="#7fbf9f"/>
<stop offset="0.0611" stop-color="#6ebec5"/>
<stop offset="0.0819" stop-color="#6ebec5"/>
<stop offset="0.0819" stop-color="#2aa3d0"/>
<stop offset="0.0962" stop-color="#2aa3d0"/>
<stop offset="0.0962" stop-color="#2c92c8"/>
<stop offset="0.1330" stop-color="#2c92c8"/>
<stop offset="0.1330" stop-color="#2e78b9"/>
<stop offset="0.4390" stop-color="#2e78b9"/>
<stop offset="0.4390" stop-color="#2c92c8"/>
<stop offset="0.4852" stop-color="#2c92c8"/>
<stop offset="0.4852" stop-color="#2aa3d0"/>
<stop offset="0.5022" stop-color="#2aa3d0"/>
<stop offset="0.5022" stop-color="#2c92c8"/>
<stop offset="0.5604" stop-color="#2c92c8"/>
<stop offset="0.5604" stop-color="#2aa3d0"/>
<stop offset="0.5923" stop-color="#2aa3d0"/>
<stop offset="0.5923" stop-color="#6ebec5"/>
<stop offset="0.6112" stop-color="#6ebec5"/>
<stop offset="0.6291" stop-color="#72bdb3"/>
<stop offset="0.7225" stop-color="#72bdb3"/>
<stop offset="0.7423" stop-color="#97c87d"/>
<stop offset="0.7714" stop-color="#97c87d"/>
<stop offset="0.7912" stop-color="#cade40"/>
<stop offset="0.8104" stop-color="#cade40"/>
<stop offset="0.8302" stop-color="#f3e81e"/>
<stop offset="0.8445" stop-color="#f3e81e"/>
<stop offset="0.8643" stop-color="#f4a31d"/>
<stop offset="0.8934" stop-color="#f4a31d"/>
<stop offset="0.9105" stop-color="#f4bf1c"/>
<stop offset="0.9202" stop-color="#f4bf1c"/>
<stop offset="0.9347" stop-color="#f3e81e"/>
<stop offset="0.9444" stop-color="#f3e81e"/>
<stop offset="0.9615" stop-color="#c0da4c"/>
<stop offset="1.0000" stop-color="#c0da4c"/>
</linearGradient>
<rect x="424" y="178.8" width="182" height="11.3" fill="url(#hg10)" shape-rendering="crispEdges"/>
<linearGradient id="hg11" gradientUnits="userSpaceOnUse" x1="424" y1="0" x2="606" y2="0">
<stop offset="0.0000" stop-color="#97c87d"/>
<stop offset="0.0192" stop-color="#97c87d"/>
<stop offset="0.0349" stop-color="#ede723"/>
<stop offset="0.0448" stop-color="#ede723"/>
<stop offset="0.0566" stop-color="#f1881d"/>
<stop offset="0.0626" stop-color="#f1881d"/>
<stop offset="0.0728" stop-color="#e8551d"/>
<stop offset="0.0805" stop-color="#e8551d"/>
<stop offset="0.0962" stop-color="#de241c"/>
<stop offset="0.1253" stop-color="#de241c"/>
<stop offset="0.1424" stop-color="#f1881d"/>
<stop offset="0.1521" stop-color="#f1881d"/>
<stop offset="0.1668" stop-color="#f3e81e"/>
<stop offset="0.1766" stop-color="#f3e81e"/>
<stop offset="0.1940" stop-color="#c0da4c"/>
<stop offset="0.2132" stop-color="#c0da4c"/>
<stop offset="0.2330" stop-color="#8dc38a"/>
<stop offset="0.2621" stop-color="#8dc38a"/>
<stop offset="0.2819" stop-color="#6fbdbb"/>
<stop offset="0.3104" stop-color="#6fbdbb"/>
<stop offset="0.3245" stop-color="#6ebfc8"/>
<stop offset="0.3341" stop-color="#6ebfc8"/>
<stop offset="0.3341" stop-color="#2aa3d0"/>
<stop offset="0.3632" stop-color="#2aa3d0"/>
<stop offset="0.3632" stop-color="#2c92c8"/>
<stop offset="0.4214" stop-color="#2c92c8"/>
<stop offset="0.4214" stop-color="#2e78b9"/>
<stop offset="0.5654" stop-color="#2e78b9"/>
<stop offset="0.5654" stop-color="#2c92c8"/>
<stop offset="0.6484" stop-color="#2c92c8"/>
<stop offset="0.6484" stop-color="#2aa3d0"/>
<stop offset="0.8225" stop-color="#2aa3d0"/>
<stop offset="0.8225" stop-color="#6ebfc8"/>
<stop offset="0.8615" stop-color="#6ebfc8"/>
<stop offset="0.8813" stop-color="#72bdb3"/>
<stop offset="0.9418" stop-color="#72bdb3"/>
<stop offset="0.9615" stop-color="#abd164"/>
<stop offset="1.0000" stop-color="#abd164"/>
</linearGradient>
<rect x="424" y="190.1" width="182" height="11.5" fill="url(#hg11)" shape-rendering="crispEdges"/>
<linearGradient id="hg12" gradientUnits="userSpaceOnUse" x1="425.1" y1="0" x2="606" y2="0">
<stop offset="0.0000" stop-color="#214799"/>
<stop offset="0.0370" stop-color="#214799"/>
<stop offset="0.0370" stop-color="#2755a2"/>
<stop offset="0.0907" stop-color="#2755a2"/>
<stop offset="0.0907" stop-color="#2e78b9"/>
<stop offset="0.1299" stop-color="#2e78b9"/>
<stop offset="0.1299" stop-color="#2c92c8"/>
<stop offset="0.1763" stop-color="#2c92c8"/>
<stop offset="0.1763" stop-color="#2aa3d0"/>
<stop offset="0.3256" stop-color="#2aa3d0"/>
<stop offset="0.3256" stop-color="#6ec0cf"/>
<stop offset="0.3543" stop-color="#6ec0cf"/>
<stop offset="0.3742" stop-color="#6fbdbf"/>
<stop offset="0.4328" stop-color="#6fbdbf"/>
<stop offset="0.4527" stop-color="#7fbf9f"/>
<stop offset="0.4815" stop-color="#7fbf9f"/>
<stop offset="0.4974" stop-color="#97c87d"/>
<stop offset="0.5054" stop-color="#97c87d"/>
<stop offset="0.5213" stop-color="#72bdb3"/>
<stop offset="0.5699" stop-color="#72bdb3"/>
<stop offset="0.5844" stop-color="#6ebfc8"/>
<stop offset="0.5948" stop-color="#6ebfc8"/>
<stop offset="0.5948" stop-color="#2aa3d0"/>
<stop offset="0.6628" stop-color="#2aa3d0"/>
<stop offset="0.6628" stop-color="#6ebec5"/>
<stop offset="0.6915" stop-color="#6ebec5"/>
<stop offset="0.7114" stop-color="#7fbf9f"/>
<stop offset="0.7452" stop-color="#7fbf9f"/>
<stop offset="0.7651" stop-color="#c0da4c"/>
<stop offset="0.7844" stop-color="#c0da4c"/>
<stop offset="0.8003" stop-color="#f3e81e"/>
<stop offset="0.8083" stop-color="#f3e81e"/>
<stop offset="0.8242" stop-color="#f07a1e"/>
<stop offset="0.8436" stop-color="#f07a1e"/>
<stop offset="0.8635" stop-color="#e8551d"/>
<stop offset="0.8778" stop-color="#e8551d"/>
<stop offset="0.8951" stop-color="#f07a1e"/>
<stop offset="0.9048" stop-color="#f07a1e"/>
<stop offset="0.9181" stop-color="#f3e81e"/>
<stop offset="0.9260" stop-color="#f3e81e"/>
<stop offset="0.9420" stop-color="#b5d558"/>
<stop offset="0.9613" stop-color="#b5d558"/>
<stop offset="0.9771" stop-color="#72bdb3"/>
<stop offset="0.9848" stop-color="#72bdb3"/>
<stop offset="0.9934" stop-color="#2c97ca"/>
<stop offset="1.0000" stop-color="#2c97ca"/>
</linearGradient>
<rect x="425.1" y="205.1" width="180.9" height="10.8" fill="url(#hg12)" shape-rendering="crispEdges"/>
<linearGradient id="hg13" gradientUnits="userSpaceOnUse" x1="424.6" y1="0" x2="606" y2="0">
<stop offset="0.0000" stop-color="#f3e81e"/>
<stop offset="0.0193" stop-color="#f3e81e"/>
<stop offset="0.0375" stop-color="#f5b11c"/>
<stop offset="0.0849" stop-color="#f5b11c"/>
<stop offset="0.1006" stop-color="#f3e81e"/>
<stop offset="0.1083" stop-color="#f3e81e"/>
<stop offset="0.1240" stop-color="#c0da4c"/>
<stop offset="0.1555" stop-color="#c0da4c"/>
<stop offset="0.1753" stop-color="#8dc38a"/>
<stop offset="0.1963" stop-color="#8dc38a"/>
<stop offset="0.2161" stop-color="#78bea9"/>
<stop offset="0.2448" stop-color="#78bea9"/>
<stop offset="0.2646" stop-color="#6fbec2"/>
<stop offset="0.2900" stop-color="#6fbec2"/>
<stop offset="0.3082" stop-color="#2aa3d0"/>
<stop offset="0.3275" stop-color="#2aa3d0"/>
<stop offset="0.3275" stop-color="#2c92c8"/>
<stop offset="0.3379" stop-color="#2c92c8"/>
<stop offset="0.3379" stop-color="#2e73b6"/>
<stop offset="0.3666" stop-color="#2e73b6"/>
<stop offset="0.3666" stop-color="#2b5ea8"/>
<stop offset="0.4598" stop-color="#2b5ea8"/>
<stop offset="0.4598" stop-color="#2e73b6"/>
<stop offset="0.4983" stop-color="#2e73b6"/>
<stop offset="0.4983" stop-color="#2aa3d0"/>
<stop offset="0.5143" stop-color="#2aa3d0"/>
<stop offset="0.5143" stop-color="#2e73b6"/>
<stop offset="0.5430" stop-color="#2e73b6"/>
<stop offset="0.5430" stop-color="#2755a2"/>
<stop offset="0.7029" stop-color="#2755a2"/>
<stop offset="0.7029" stop-color="#2e73b6"/>
<stop offset="0.7288" stop-color="#2e73b6"/>
<stop offset="0.7288" stop-color="#2aa3d0"/>
<stop offset="0.7423" stop-color="#2aa3d0"/>
<stop offset="0.7580" stop-color="#6fbdbb"/>
<stop offset="0.7767" stop-color="#6fbdbb"/>
<stop offset="0.7966" stop-color="#8dc38a"/>
<stop offset="0.8407" stop-color="#8dc38a"/>
<stop offset="0.8605" stop-color="#b5d558"/>
<stop offset="1.0000" stop-color="#b5d558"/>
</linearGradient>
<rect x="424.6" y="215.9" width="181.4" height="11.1" fill="url(#hg13)" shape-rendering="crispEdges"/>
<linearGradient id="hg14" gradientUnits="userSpaceOnUse" x1="424.6" y1="0" x2="606" y2="0">
<stop offset="0.0000" stop-color="#8dc38a"/>
<stop offset="0.0529" stop-color="#8dc38a"/>
<stop offset="0.0728" stop-color="#c0da4c"/>
<stop offset="0.1615" stop-color="#c0da4c"/>
<stop offset="0.1814" stop-color="#8dc38a"/>
<stop offset="0.2580" stop-color="#8dc38a"/>
<stop offset="0.2778" stop-color="#6fbdbb"/>
<stop offset="0.3026" stop-color="#6fbdbb"/>
<stop offset="0.3212" stop-color="#4cb2d0"/>
<stop offset="0.3412" stop-color="#4cb2d0"/>
<stop offset="0.3412" stop-color="#2d8cc5"/>
<stop offset="0.3666" stop-color="#2d8cc5"/>
<stop offset="0.3666" stop-color="#2e73b6"/>
<stop offset="0.3991" stop-color="#2e73b6"/>
<stop offset="0.3991" stop-color="#2b5ea8"/>
<stop offset="0.4983" stop-color="#2b5ea8"/>
<stop offset="0.4983" stop-color="#6ebfc8"/>
<stop offset="0.5270" stop-color="#6ebfc8"/>
<stop offset="0.5270" stop-color="#2b5ea8"/>
<stop offset="0.5529" stop-color="#2b5ea8"/>
<stop offset="0.5529" stop-color="#25509f"/>
<stop offset="0.7029" stop-color="#25509f"/>
<stop offset="0.7029" stop-color="#2e78b9"/>
<stop offset="0.7222" stop-color="#2e78b9"/>
<stop offset="0.7222" stop-color="#6ebfc8"/>
<stop offset="0.7357" stop-color="#6ebfc8"/>
<stop offset="0.7514" stop-color="#85c095"/>
<stop offset="0.7767" stop-color="#85c095"/>
<stop offset="0.7966" stop-color="#cade40"/>
<stop offset="0.8148" stop-color="#cade40"/>
<stop offset="0.8295" stop-color="#f3e81e"/>
<stop offset="0.8359" stop-color="#f3e81e"/>
<stop offset="0.8494" stop-color="#f2961d"/>
<stop offset="0.8611" stop-color="#f2961d"/>
<stop offset="0.8775" stop-color="#f5b11c"/>
<stop offset="0.8877" stop-color="#f5b11c"/>
<stop offset="0.9030" stop-color="#f3e81e"/>
<stop offset="0.9134" stop-color="#f3e81e"/>
<stop offset="0.9311" stop-color="#abd164"/>
<stop offset="0.9598" stop-color="#abd164"/>
<stop offset="0.9598" stop-color="#6ebfc8"/>
<stop offset="0.9724" stop-color="#6ebfc8"/>
<stop offset="0.9724" stop-color="#2c66ae"/>
<stop offset="1.0000" stop-color="#2c66ae"/>
</linearGradient>
<rect x="424.6" y="227" width="181.4" height="11.8" fill="url(#hg14)" shape-rendering="crispEdges"/>
<linearGradient id="hg15" gradientUnits="userSpaceOnUse" x1="424.6" y1="0" x2="606" y2="0">
<stop offset="0.0000" stop-color="#7fbf9f"/>
<stop offset="0.0170" stop-color="#7fbf9f"/>
<stop offset="0.0342" stop-color="#6fbcb8"/>
<stop offset="0.0717" stop-color="#6fbcb8"/>
<stop offset="0.0915" stop-color="#6fbec2"/>
<stop offset="0.1356" stop-color="#6fbec2"/>
<stop offset="0.1555" stop-color="#6fbcb8"/>
<stop offset="0.2128" stop-color="#6fbcb8"/>
<stop offset="0.2326" stop-color="#72bdb3"/>
<stop offset="0.3379" stop-color="#72bdb3"/>
<stop offset="0.3535" stop-color="#6ebec5"/>
<stop offset="0.3666" stop-color="#6ebec5"/>
<stop offset="0.3666" stop-color="#2aa3d0"/>
<stop offset="0.3892" stop-color="#2aa3d0"/>
<stop offset="0.3892" stop-color="#2e73b6"/>
<stop offset="0.4212" stop-color="#2e73b6"/>
<stop offset="0.4212" stop-color="#2b5ea8"/>
<stop offset="0.6235" stop-color="#2b5ea8"/>
<stop offset="0.6235" stop-color="#2e73b6"/>
<stop offset="0.6841" stop-color="#2e73b6"/>
<stop offset="0.6841" stop-color="#2aa3d0"/>
<stop offset="0.7062" stop-color="#2aa3d0"/>
<stop offset="0.7062" stop-color="#6ebec5"/>
<stop offset="0.7381" stop-color="#6ebec5"/>
<stop offset="0.7580" stop-color="#8dc38a"/>
<stop offset="0.7828" stop-color="#8dc38a"/>
<stop offset="0.7965" stop-color="#cade40"/>
<stop offset="0.8016" stop-color="#cade40"/>
<stop offset="0.8132" stop-color="#f3e81e"/>
<stop offset="0.8235" stop-color="#f3e81e"/>
<stop offset="0.8351" stop-color="#f1881d"/>
<stop offset="0.8402" stop-color="#f1881d"/>
<stop offset="0.8539" stop-color="#e1301c"/>
<stop offset="0.9173" stop-color="#e1301c"/>
<stop offset="0.9312" stop-color="#f1881d"/>
<stop offset="0.9365" stop-color="#f1881d"/>
<stop offset="0.9463" stop-color="#f3e81e"/>
<stop offset="0.9540" stop-color="#f3e81e"/>
<stop offset="0.9697" stop-color="#b5d558"/>
<stop offset="1.0000" stop-color="#b5d558"/>
</linearGradient>
<rect x="424.6" y="238.8" width="181.4" height="12" fill="url(#hg15)" shape-rendering="crispEdges"/>
<linearGradient id="hg16" gradientUnits="userSpaceOnUse" x1="425.1" y1="0" x2="606" y2="0">
<stop offset="0.0000" stop-color="#aa1a2a"/>
<stop offset="0.0149" stop-color="#aa1a2a"/>
<stop offset="0.0149" stop-color="#6fbcb8"/>
<stop offset="1.0000" stop-color="#6fbcb8"/>
</linearGradient>
<rect x="425.1" y="250.8" width="180.9" height="11" fill="url(#hg16)" shape-rendering="crispEdges"/>
<linearGradient id="hg17" gradientUnits="userSpaceOnUse" x1="425.1" y1="0" x2="606" y2="0">
<stop offset="0.0000" stop-color="#aa1a2a"/>
<stop offset="0.0151" stop-color="#aa1a2a"/>
<stop offset="0.0244" stop-color="#f1881d"/>
<stop offset="0.0281" stop-color="#f1881d"/>
<stop offset="0.0329" stop-color="#f3e81e"/>
<stop offset="0.0376" stop-color="#f3e81e"/>
<stop offset="0.0376" stop-color="#8dc38a"/>
<stop offset="0.0630" stop-color="#8dc38a"/>
<stop offset="0.0829" stop-color="#6fbdbd"/>
<stop offset="1.0000" stop-color="#6fbdbd"/>
</linearGradient>
<rect x="425.1" y="261.8" width="180.9" height="11.1" fill="url(#hg17)" shape-rendering="crispEdges"/>
<linearGradient id="hg18" gradientUnits="userSpaceOnUse" x1="425.1" y1="0" x2="606" y2="0">
<stop offset="0.0000" stop-color="#bb1d25"/>
<stop offset="0.0128" stop-color="#bb1d25"/>
<stop offset="0.0231" stop-color="#e8551d"/>
<stop offset="0.0295" stop-color="#e8551d"/>
<stop offset="0.0391" stop-color="#f3e81e"/>
<stop offset="0.0455" stop-color="#f3e81e"/>
<stop offset="0.0603" stop-color="#c0da4c"/>
<stop offset="0.1017" stop-color="#c0da4c"/>
<stop offset="0.1216" stop-color="#85c095"/>
<stop offset="0.1658" stop-color="#85c095"/>
<stop offset="0.1857" stop-color="#6fbdbb"/>
<stop offset="0.2233" stop-color="#6fbdbb"/>
<stop offset="0.2432" stop-color="#6ec0cf"/>
<stop offset="0.2720" stop-color="#6ec0cf"/>
<stop offset="0.2720" stop-color="#6ebec5"/>
<stop offset="0.3156" stop-color="#6ebec5"/>
<stop offset="0.3355" stop-color="#6fbdbb"/>
<stop offset="0.3488" stop-color="#6fbdbb"/>
<stop offset="0.3687" stop-color="#7fbf9f"/>
<stop offset="0.4002" stop-color="#7fbf9f"/>
<stop offset="0.4201" stop-color="#92c683"/>
<stop offset="0.4643" stop-color="#92c683"/>
<stop offset="0.4842" stop-color="#a9d066"/>
<stop offset="0.5091" stop-color="#a9d066"/>
<stop offset="0.5290" stop-color="#88c190"/>
<stop offset="0.5799" stop-color="#88c190"/>
<stop offset="0.5998" stop-color="#72bdb3"/>
<stop offset="0.6379" stop-color="#72bdb3"/>
<stop offset="0.6578" stop-color="#3baad0"/>
<stop offset="0.6893" stop-color="#3baad0"/>
<stop offset="0.6893" stop-color="#25509f"/>
<stop offset="0.8889" stop-color="#25509f"/>
<stop offset="0.8889" stop-color="#2e78b9"/>
<stop offset="0.9016" stop-color="#2e78b9"/>
<stop offset="0.9016" stop-color="#2aa3d0"/>
<stop offset="0.9105" stop-color="#2aa3d0"/>
<stop offset="0.9239" stop-color="#6fbdbb"/>
<stop offset="0.9464" stop-color="#6fbdbb"/>
<stop offset="0.9464" stop-color="#c0da4c"/>
<stop offset="0.9599" stop-color="#c0da4c"/>
<stop offset="0.9695" stop-color="#f3e81e"/>
<stop offset="0.9746" stop-color="#f3e81e"/>
<stop offset="0.9849" stop-color="#cd2121"/>
<stop offset="1.0000" stop-color="#cd2121"/>
</linearGradient>
<rect x="425.1" y="272.9" width="180.9" height="11.8" fill="url(#hg18)" shape-rendering="crispEdges"/>
<text x="607.8" y="44.2" font-size="7.9" font-style="italic" fill="#222">FZD2</text>
<text x="607.8" y="56.8" font-size="7.9" font-style="italic" fill="#222">FZD7</text>
<text x="607.8" y="69.8" font-size="7.9" font-style="italic" fill="#222">FZD6</text>
<text x="607.8" y="81.4" font-size="7.9" font-style="italic" fill="#222">LRP6</text>
<text x="607.8" y="95.4" font-size="7.9" font-style="italic" fill="#222">JUN</text>
<text x="607.8" y="108.6" font-size="7.9" font-style="italic" fill="#222">FOSL1</text>
<text x="607.8" y="122" font-size="7.9" font-style="italic" fill="#222">CCND1</text>
<text x="607.8" y="134" font-size="7.9" font-style="italic" fill="#222">MMP7</text>
<text x="607.8" y="175.8" font-size="7.9" font-style="italic" fill="#222">FGFR3</text>
<text x="607.8" y="187.3" font-size="7.9" font-style="italic" fill="#222">FGFR2</text>
<text x="607.8" y="198.9" font-size="7.9" font-style="italic" fill="#222">FGFR1</text>
<text x="607.8" y="212.9" font-size="7.9" font-style="italic" fill="#222">PCK1</text>
<text x="607.8" y="224.6" font-size="7.9" font-style="italic" fill="#222">STAT3</text>
<text x="607.8" y="236" font-size="7.9" font-style="italic" fill="#222">FOXO1</text>
<text x="607.8" y="247.4" font-size="7.9" font-style="italic" fill="#222">DUSP6</text>
<text x="607.8" y="259" font-size="7.9" font-style="italic" fill="#222">ETV4</text>
<text x="607.8" y="270.2" font-size="7.9" font-style="italic" fill="#222">IGFBP1</text>
<text x="607.8" y="281.8" font-size="7.9" font-style="italic" fill="#222">STAT1</text>
<line x1="637" y1="38.5" x2="637" y2="83.5" stroke="#666" stroke-width="1.2"/>
<line x1="637" y1="86.8" x2="637" y2="136.7" stroke="#666" stroke-width="1.2"/>
<line x1="637" y1="169.2" x2="637" y2="200.2" stroke="#666" stroke-width="1.2"/>
<line x1="636.7" y1="205.4" x2="636.7" y2="284.6" stroke="#666" stroke-width="1.2"/>
<text x="645" y="60.4" font-size="7.6" text-anchor="middle" fill="#222" transform="rotate(-90 645 60.4)">Receptor</text>
<text x="645" y="112.3" font-size="7.6" text-anchor="middle" fill="#222" transform="rotate(-90 645 112.3)">Target genes</text>
<text x="645" y="184.7" font-size="7.6" text-anchor="middle" fill="#222" transform="rotate(-90 645 184.7)">Receptor</text>
<text x="645.2" y="245" font-size="7.6" text-anchor="middle" fill="#222" transform="rotate(-90 645.2 245)">Target genes</text>
<text x="420.5" y="89.4" font-size="7.95" text-anchor="middle" fill="#222" transform="rotate(-90 420.5 89.4)">Wnt signaling pathway</text>
<text x="420.5" y="230.7" font-size="7.95" text-anchor="middle" fill="#222" transform="rotate(-90 420.5 230.7)">FGF signaling pathway</text>
<text x="650.3" y="120.8" font-size="7.4" font-weight="bold" fill="#111">Cell state</text>
<rect x="660.3" y="115.4" width="3.7" height="5.1" fill="#000"/>
<g shape-rendering="crispEdges">
<rect x="658.1" y="123.2" width="5.9" height="5.7" fill="#6a8fc5"/>
<rect x="658.1" y="130.8" width="5.9" height="5.7" fill="#e0606b"/>
<rect x="658.1" y="138.3" width="5.9" height="5.5" fill="#2e9a43"/>
</g>
<text x="665.4" y="128.9" font-size="7.4" fill="#222">IC</text>
<text x="665.4" y="136.4" font-size="7.4" fill="#222">IC1</text>
<text x="665.4" y="143.9" font-size="7.4" fill="#222">IC2</text>
<defs><linearGradient id="zg" x1="0" y1="1" x2="0" y2="0">
<stop offset="0.000" stop-color="#1b3990"/>
<stop offset="0.033" stop-color="#1b3990"/>
<stop offset="0.067" stop-color="#214799"/>
<stop offset="0.100" stop-color="#2755a2"/>
<stop offset="0.133" stop-color="#2c62ab"/>
<stop offset="0.167" stop-color="#2d6fb4"/>
<stop offset="0.200" stop-color="#2e7cbc"/>
<stop offset="0.233" stop-color="#2d8cc5"/>
<stop offset="0.267" stop-color="#2b9dcd"/>
<stop offset="0.300" stop-color="#4cb2d0"/>
<stop offset="0.333" stop-color="#6ebfcc"/>
<stop offset="0.367" stop-color="#6fbec2"/>
<stop offset="0.400" stop-color="#6fbcb8"/>
<stop offset="0.433" stop-color="#78bea9"/>
<stop offset="0.467" stop-color="#82c09a"/>
<stop offset="0.500" stop-color="#8dc38a"/>
<stop offset="0.533" stop-color="#9cca77"/>
<stop offset="0.567" stop-color="#abd164"/>
<stop offset="0.600" stop-color="#bbd852"/>
<stop offset="0.633" stop-color="#cade40"/>
<stop offset="0.667" stop-color="#dbe331"/>
<stop offset="0.700" stop-color="#ede723"/>
<stop offset="0.733" stop-color="#f4cd1d"/>
<stop offset="0.767" stop-color="#f4a31d"/>
<stop offset="0.800" stop-color="#f07a1e"/>
<stop offset="0.833" stop-color="#e8551d"/>
<stop offset="0.867" stop-color="#e1301c"/>
<stop offset="0.900" stop-color="#cd2121"/>
<stop offset="0.933" stop-color="#b31c28"/>
<stop offset="0.967" stop-color="#a61829"/>
<stop offset="1.000" stop-color="#a01528"/>
</linearGradient></defs>
<rect x="658.9" y="192.1" width="5.1" height="38.7" fill="url(#zg)"/>
<text x="665.3" y="196.9" font-size="7.2" fill="#222">3</text>
<text x="665.3" y="204.9" font-size="7.2" fill="#222">2</text>
<text x="665.3" y="213.2" font-size="7.2" fill="#222">1</text>
<text x="665.3" y="221.8" font-size="7.2" fill="#222">0</text>
<text x="664.6" y="231.4" font-size="7.2" fill="#222">-1</text>
<text x="657.7" y="212.5" font-size="7.5" text-anchor="middle" fill="#222" transform="rotate(-90 657.7 212.5)">Z score</text>
<text x="175.8" y="301" font-size="11" text-anchor="middle" font-weight="bold">Expression patterns of IC and PC marker genes in IgAN</text>
<circle cx="68.19" cy="357.24" r="1.5" fill="#c4c4c4"/>
<circle cx="68.1" cy="360.53" r="1.5" fill="#c4c4c4"/>
<circle cx="51.04" cy="394.39" r="1.5" fill="#c4c4c4"/>
<circle cx="59.33" cy="379.83" r="1.5" fill="#c4c4c4"/>
<circle cx="68.01" cy="370.69" r="1.5" fill="#c4c4c4"/>
<circle cx="98.46" cy="377.47" r="1.5" fill="#c4c4c4"/>
<circle cx="70.12" cy="336.33" r="1.5" fill="#e83624"/>
<circle cx="69.59" cy="338.47" r="1.5" fill="#e73f29"/>
<circle cx="70.28" cy="336.63" r="1.5" fill="#e54d32"/>
<circle cx="69.86" cy="334.54" r="1.5" fill="#e4563b"/>
<circle cx="71.51" cy="337.23" r="1.5" fill="#da816e"/>
<circle cx="69.28" cy="333.63" r="1.5" fill="#e7422b"/>
<circle cx="70.66" cy="333.59" r="1.5" fill="#de7059"/>
<circle cx="67.06" cy="337.52" r="1.5" fill="#e0664d"/>
<circle cx="73.07" cy="338.69" r="1.5" fill="#e7402a"/>
<circle cx="70.5" cy="337.34" r="1.5" fill="#e64b31"/>
<circle cx="68.21" cy="334.3" r="1.5" fill="#ea2418"/>
<circle cx="67.46" cy="336.74" r="1.5" fill="#e6482f"/>
<circle cx="68.9" cy="334.59" r="1.5" fill="#ea2418"/>
<circle cx="69.75" cy="332.64" r="1.5" fill="#de7059"/>
<circle cx="71.52" cy="336.27" r="1.5" fill="#e6462e"/>
<circle cx="70.57" cy="336.69" r="1.5" fill="#e64a30"/>
<circle cx="70.67" cy="336.59" r="1.5" fill="#e3583e"/>
<circle cx="68.7" cy="336.36" r="1.5" fill="#e73f29"/>
<circle cx="73.31" cy="338.75" r="1.5" fill="#e92c1d"/>
<circle cx="71.18" cy="338.14" r="1.5" fill="#e73d28"/>
<circle cx="68.65" cy="335.51" r="1.5" fill="#e45338"/>
<circle cx="68.02" cy="335.34" r="1.5" fill="#e83422"/>
<circle cx="69.19" cy="337.83" r="1.5" fill="#e35b41"/>
<circle cx="69.08" cy="338.16" r="1.5" fill="#e7422b"/>
<circle cx="72.22" cy="338.6" r="1.5" fill="#d98370"/>
<circle cx="69.53" cy="331.53" r="1.5" fill="#e3583e"/>
<circle cx="69.62" cy="338.42" r="1.5" fill="#e6482f"/>
<circle cx="69.1" cy="338.68" r="1.5" fill="#e45439"/>
<circle cx="70.15" cy="333.36" r="1.5" fill="#e73f29"/>
<circle cx="68.36" cy="337.88" r="1.5" fill="#e83825"/>
<circle cx="65.78" cy="341.53" r="1.5" fill="#e54c31"/>
<circle cx="66.21" cy="344.4" r="1.5" fill="#e55034"/>
<circle cx="66.38" cy="345.94" r="1.5" fill="#e83724"/>
<circle cx="66.9" cy="354.98" r="1.5" fill="#e64930"/>
<circle cx="67.67" cy="353.95" r="1.5" fill="#e4553a"/>
<circle cx="71.02" cy="361.97" r="1.5" fill="#e83724"/>
<circle cx="51.76" cy="392.86" r="1.5" fill="#e83824"/>
<circle cx="52.74" cy="393.82" r="1.5" fill="#e6462d"/>
<circle cx="51.52" cy="392.82" r="1.5" fill="#e7422b"/>
<circle cx="51.22" cy="393.16" r="1.5" fill="#e73c27"/>
<circle cx="51.1" cy="394.07" r="1.5" fill="#e4563b"/>
<circle cx="49.77" cy="393.84" r="1.5" fill="#e6472e"/>
<circle cx="51.56" cy="391.68" r="1.5" fill="#d98471"/>
<circle cx="51.99" cy="392.2" r="1.5" fill="#de6e57"/>
<circle cx="51.77" cy="392.6" r="1.5" fill="#e54e33"/>
<circle cx="51.1" cy="392.52" r="1.5" fill="#e6442c"/>
<circle cx="52.88" cy="393.76" r="1.5" fill="#e25f45"/>
<circle cx="50.12" cy="391.18" r="1.5" fill="#da816e"/>
<circle cx="51.17" cy="392.29" r="1.5" fill="#e7402a"/>
<circle cx="51.88" cy="394.67" r="1.5" fill="#e6472e"/>
<circle cx="53.62" cy="391.39" r="1.5" fill="#e0654c"/>
<circle cx="51.1" cy="392.54" r="1.5" fill="#e45337"/>
<circle cx="50.77" cy="392.97" r="1.5" fill="#e7402a"/>
<circle cx="52.15" cy="392.59" r="1.5" fill="#dd735d"/>
<circle cx="50.97" cy="391.86" r="1.5" fill="#e25f45"/>
<circle cx="50.05" cy="392.5" r="1.5" fill="#db7b66"/>
<circle cx="52.14" cy="393.72" r="1.5" fill="#dc7862"/>
<circle cx="48.9" cy="394.42" r="1.5" fill="#e92c1d"/>
<circle cx="51.16" cy="392.8" r="1.5" fill="#de715a"/>
<circle cx="52.63" cy="394.53" r="1.5" fill="#e6492f"/>
<circle cx="50.9" cy="392.66" r="1.5" fill="#e6452d"/>
<circle cx="50.72" cy="396.07" r="1.5" fill="#de6e57"/>
<circle cx="51.8" cy="390.78" r="1.5" fill="#e92a1c"/>
<circle cx="51.76" cy="388.05" r="1.5" fill="#e54c31"/>
<circle cx="53.57" cy="387.02" r="1.5" fill="#e7402a"/>
<circle cx="56.06" cy="384.76" r="1.5" fill="#e73d28"/>
<circle cx="63.97" cy="375.01" r="1.5" fill="#e6492f"/>
<circle cx="76.53" cy="368.54" r="1.5" fill="#e6442d"/>
<circle cx="80.57" cy="367.31" r="1.5" fill="#e6462e"/>
<circle cx="85.04" cy="372.24" r="1.5" fill="#e6482f"/>
<circle cx="92.18" cy="374.49" r="1.5" fill="#ea2418"/>
<circle cx="94.5" cy="376.34" r="1.5" fill="#e92e1f"/>
<circle cx="96.48" cy="376.96" r="1.5" fill="#e73e29"/>
<circle cx="101.98" cy="377.99" r="1.5" fill="#e45438"/>
<circle cx="104.99" cy="384.56" r="1.5" fill="#e83523"/>
<circle cx="110.42" cy="383.67" r="1.5" fill="#e73e29"/>
<circle cx="109.32" cy="382.73" r="1.5" fill="#e73f29"/>
<circle cx="111.56" cy="382.41" r="1.5" fill="#e73f29"/>
<circle cx="109.73" cy="381.64" r="1.5" fill="#e6432c"/>
<circle cx="109.57" cy="381.39" r="1.5" fill="#ea2418"/>
<circle cx="109.11" cy="383.31" r="1.5" fill="#e92f1f"/>
<circle cx="110.2" cy="381.75" r="1.5" fill="#e83523"/>
<circle cx="110.14" cy="382.67" r="1.5" fill="#e6442c"/>
<circle cx="108.23" cy="383.5" r="1.5" fill="#e7422b"/>
<circle cx="109.17" cy="383.35" r="1.5" fill="#e93120"/>
<circle cx="110.09" cy="383.19" r="1.5" fill="#e93120"/>
<circle cx="110.25" cy="382.85" r="1.5" fill="#e64a30"/>
<circle cx="109.38" cy="382.82" r="1.5" fill="#e6452d"/>
<circle cx="109.97" cy="382.21" r="1.5" fill="#e9291b"/>
<circle cx="109.27" cy="383.11" r="1.5" fill="#e73d28"/>
<circle cx="108.58" cy="381.6" r="1.5" fill="#ea2418"/>
<circle cx="110.76" cy="383.06" r="1.5" fill="#ea261a"/>
<circle cx="109.27" cy="383.93" r="1.5" fill="#e83221"/>
<circle cx="109.77" cy="382.75" r="1.5" fill="#e73d28"/>
<circle cx="111.33" cy="382.71" r="1.5" fill="#e54d32"/>
<circle cx="109.04" cy="384.92" r="1.5" fill="#e6472e"/>
<circle cx="110.73" cy="382.76" r="1.5" fill="#e6462d"/>
<line x1="45.6" y1="329" x2="45.6" y2="399" stroke="#111" stroke-width="1"/>
<line x1="45.1" y1="398.5" x2="114.4" y2="398.5" stroke="#111" stroke-width="1"/>
<line x1="43.8" y1="333.62" x2="45.6" y2="333.62" stroke="#111" stroke-width="0.6"/>
<text x="41.85" y="336.32" font-size="7.5" text-anchor="end" fill="#222">4</text>
<line x1="43.8" y1="354.16" x2="45.6" y2="354.16" stroke="#111" stroke-width="0.6"/>
<text x="41.85" y="356.86" font-size="7.5" text-anchor="end" fill="#222">2</text>
<line x1="43.8" y1="374.7" x2="45.6" y2="374.7" stroke="#111" stroke-width="0.6"/>
<text x="41.85" y="377.4" font-size="7.5" text-anchor="end" fill="#222">0</text>
<line x1="43.8" y1="395.24" x2="45.6" y2="395.24" stroke="#111" stroke-width="0.6"/>
<text x="41.85" y="397.94" font-size="7.5" text-anchor="end" fill="#222">−2</text>
<line x1="59.5" y1="398.5" x2="59.5" y2="400.3" stroke="#111" stroke-width="0.6"/>
<text x="57.25" y="407.82" font-size="7.5" text-anchor="middle" fill="#222">−2</text>
<line x1="76.7" y1="398.5" x2="76.7" y2="400.3" stroke="#111" stroke-width="0.6"/>
<text x="76.7" y="407.82" font-size="7.5" text-anchor="middle" fill="#222">0</text>
<line x1="93.9" y1="398.5" x2="93.9" y2="400.3" stroke="#111" stroke-width="0.6"/>
<text x="93.9" y="407.82" font-size="7.5" text-anchor="middle" fill="#222">2</text>
<line x1="111.1" y1="398.5" x2="111.1" y2="400.3" stroke="#111" stroke-width="0.6"/>
<text x="111.1" y="407.82" font-size="7.5" text-anchor="middle" fill="#222">4</text>
<text x="74.5" y="319.9" font-size="8.2" text-anchor="middle" font-style="italic" fill="#222">ATP6V0D2</text>
<text x="82.4" y="416.4" font-size="7.1" text-anchor="middle" fill="#222">tSNE1</text>
<text x="33.4" y="363.4" font-size="7.1" text-anchor="middle" fill="#222" transform="rotate(-90 33.4 363.4)">tSNE2</text>
<circle cx="166.63" cy="334.79" r="1.5" fill="#c4c4c4"/>
<circle cx="165.93" cy="357.44" r="1.5" fill="#c4c4c4"/>
<circle cx="150.1" cy="394.87" r="1.5" fill="#c4c4c4"/>
<circle cx="149.15" cy="392.86" r="1.5" fill="#c4c4c4"/>
<circle cx="149.98" cy="388.25" r="1.5" fill="#c4c4c4"/>
<circle cx="206.94" cy="383.87" r="1.5" fill="#c4c4c4"/>
<circle cx="205.82" cy="383.31" r="1.5" fill="#c4c4c4"/>
<circle cx="167.81" cy="336.53" r="1.5" fill="#e3593e"/>
<circle cx="167.29" cy="338.67" r="1.5" fill="#e73c27"/>
<circle cx="167.97" cy="336.83" r="1.5" fill="#e92c1d"/>
<circle cx="167.56" cy="334.74" r="1.5" fill="#e6472f"/>
<circle cx="169.16" cy="337.43" r="1.5" fill="#e54f33"/>
<circle cx="166.99" cy="333.83" r="1.5" fill="#e73d28"/>
<circle cx="168.34" cy="333.79" r="1.5" fill="#ea2519"/>
<circle cx="164.84" cy="337.72" r="1.5" fill="#e25b41"/>
<circle cx="170.68" cy="338.89" r="1.5" fill="#e83724"/>
<circle cx="168.18" cy="337.54" r="1.5" fill="#e73d28"/>
<circle cx="165.96" cy="334.5" r="1.5" fill="#e6482f"/>
<circle cx="165.23" cy="336.94" r="1.5" fill="#e6482f"/>
<circle cx="167.45" cy="332.84" r="1.5" fill="#e64b31"/>
<circle cx="169.17" cy="336.47" r="1.5" fill="#e45237"/>
<circle cx="168.24" cy="336.89" r="1.5" fill="#ea2418"/>
<circle cx="168.35" cy="336.79" r="1.5" fill="#e83623"/>
<circle cx="166.43" cy="336.56" r="1.5" fill="#da7e6a"/>
<circle cx="170.91" cy="338.95" r="1.5" fill="#e73c27"/>
<circle cx="168.84" cy="338.34" r="1.5" fill="#e73d28"/>
<circle cx="166.38" cy="335.71" r="1.5" fill="#e3583e"/>
<circle cx="165.77" cy="335.54" r="1.5" fill="#e6442c"/>
<circle cx="166.91" cy="338.03" r="1.5" fill="#e6462e"/>
<circle cx="166.8" cy="338.36" r="1.5" fill="#e4563b"/>
<circle cx="169.85" cy="338.8" r="1.5" fill="#df6c55"/>
<circle cx="167.24" cy="331.73" r="1.5" fill="#e0654c"/>
<circle cx="167.32" cy="338.62" r="1.5" fill="#e73d28"/>
<circle cx="166.82" cy="338.88" r="1.5" fill="#e4563b"/>
<circle cx="167.84" cy="333.56" r="1.5" fill="#e83321"/>
<circle cx="166.11" cy="338.08" r="1.5" fill="#e83624"/>
<circle cx="163.6" cy="341.73" r="1.5" fill="#e6482f"/>
<circle cx="164.01" cy="344.6" r="1.5" fill="#e92f1f"/>
<circle cx="164.18" cy="346.14" r="1.5" fill="#e45439"/>
<circle cx="164.68" cy="355.18" r="1.5" fill="#e92f1f"/>
<circle cx="165.43" cy="354.15" r="1.5" fill="#e83321"/>
<circle cx="165.85" cy="360.73" r="1.5" fill="#ea2418"/>
<circle cx="168.69" cy="362.17" r="1.5" fill="#e25d44"/>
<circle cx="149.98" cy="393.06" r="1.5" fill="#e45439"/>
<circle cx="150.93" cy="394.02" r="1.5" fill="#df6850"/>
<circle cx="149.75" cy="393.02" r="1.5" fill="#e64a30"/>
<circle cx="149.46" cy="393.36" r="1.5" fill="#ea2619"/>
<circle cx="149.35" cy="394.27" r="1.5" fill="#e16046"/>
<circle cx="148.05" cy="394.04" r="1.5" fill="#d88572"/>
<circle cx="149.79" cy="391.88" r="1.5" fill="#e64b31"/>
<circle cx="150.21" cy="392.4" r="1.5" fill="#e54e32"/>
<circle cx="149.99" cy="392.8" r="1.5" fill="#e45337"/>
<circle cx="149.35" cy="392.72" r="1.5" fill="#e35a40"/>
<circle cx="151.08" cy="393.96" r="1.5" fill="#e35a3f"/>
<circle cx="148.4" cy="391.38" r="1.5" fill="#e3593f"/>
<circle cx="149.42" cy="392.49" r="1.5" fill="#e64b31"/>
<circle cx="151.79" cy="391.59" r="1.5" fill="#e35a3f"/>
<circle cx="149.34" cy="392.74" r="1.5" fill="#de6e57"/>
<circle cx="149.29" cy="394.59" r="1.5" fill="#de6d56"/>
<circle cx="149.03" cy="393.17" r="1.5" fill="#e55034"/>
<circle cx="150.36" cy="392.79" r="1.5" fill="#e6462e"/>
<circle cx="149.21" cy="392.06" r="1.5" fill="#e6452d"/>
<circle cx="148.32" cy="392.7" r="1.5" fill="#e7422b"/>
<circle cx="150.36" cy="393.92" r="1.5" fill="#dd725c"/>
<circle cx="147.21" cy="394.62" r="1.5" fill="#e3583e"/>
<circle cx="149.41" cy="393" r="1.5" fill="#e6492f"/>
<circle cx="150.83" cy="394.73" r="1.5" fill="#ea2418"/>
<circle cx="148.98" cy="396.27" r="1.5" fill="#e25d44"/>
<circle cx="150.03" cy="390.98" r="1.5" fill="#e83825"/>
<circle cx="151.74" cy="387.22" r="1.5" fill="#e83623"/>
<circle cx="154.16" cy="384.96" r="1.5" fill="#e25e44"/>
<circle cx="157.33" cy="380.03" r="1.5" fill="#e55236"/>
<circle cx="161.84" cy="375.21" r="1.5" fill="#e73f29"/>
<circle cx="165.77" cy="370.89" r="1.5" fill="#e73b27"/>
<circle cx="174.03" cy="368.74" r="1.5" fill="#e92a1c"/>
<circle cx="177.96" cy="367.51" r="1.5" fill="#e55236"/>
<circle cx="182.3" cy="372.44" r="1.5" fill="#e25b41"/>
<circle cx="189.23" cy="374.69" r="1.5" fill="#e64c31"/>
<circle cx="191.48" cy="376.54" r="1.5" fill="#e6472e"/>
<circle cx="193.4" cy="377.16" r="1.5" fill="#e92e1e"/>
<circle cx="195.33" cy="377.67" r="1.5" fill="#e64a30"/>
<circle cx="198.75" cy="378.19" r="1.5" fill="#e0674e"/>
<circle cx="201.67" cy="384.76" r="1.5" fill="#e73a26"/>
<circle cx="205.87" cy="382.93" r="1.5" fill="#e64b31"/>
<circle cx="208.05" cy="382.61" r="1.5" fill="#e83523"/>
<circle cx="206.27" cy="381.84" r="1.5" fill="#ea2519"/>
<circle cx="206.12" cy="381.59" r="1.5" fill="#e83825"/>
<circle cx="205.67" cy="383.51" r="1.5" fill="#ea2619"/>
<circle cx="206.72" cy="381.95" r="1.5" fill="#e83523"/>
<circle cx="206.67" cy="382.87" r="1.5" fill="#e6432c"/>
<circle cx="204.81" cy="383.7" r="1.5" fill="#e83422"/>
<circle cx="205.72" cy="383.55" r="1.5" fill="#ea2418"/>
<circle cx="206.62" cy="383.39" r="1.5" fill="#ea2418"/>
<circle cx="206.77" cy="383.05" r="1.5" fill="#e83422"/>
<circle cx="205.93" cy="383.02" r="1.5" fill="#e83624"/>
<circle cx="206.5" cy="382.41" r="1.5" fill="#e93120"/>
<circle cx="205.16" cy="381.8" r="1.5" fill="#ea2418"/>
<circle cx="207.27" cy="383.26" r="1.5" fill="#ea2418"/>
<circle cx="205.82" cy="384.13" r="1.5" fill="#e92b1c"/>
<circle cx="206.31" cy="382.95" r="1.5" fill="#e92d1e"/>
<circle cx="207.82" cy="382.91" r="1.5" fill="#e83523"/>
<circle cx="205.6" cy="385.12" r="1.5" fill="#ea2418"/>
<circle cx="207.24" cy="382.96" r="1.5" fill="#ea2418"/>
<line x1="142.8" y1="328.2" x2="142.8" y2="399.5" stroke="#111" stroke-width="1"/>
<line x1="142.3" y1="399" x2="211.9" y2="399" stroke="#111" stroke-width="1"/>
<line x1="141" y1="333.82" x2="142.8" y2="333.82" stroke="#111" stroke-width="0.6"/>
<text x="139.05" y="336.52" font-size="7.5" text-anchor="end" fill="#222">4</text>
<line x1="141" y1="354.36" x2="142.8" y2="354.36" stroke="#111" stroke-width="0.6"/>
<text x="139.05" y="357.06" font-size="7.5" text-anchor="end" fill="#222">2</text>
<line x1="141" y1="374.9" x2="142.8" y2="374.9" stroke="#111" stroke-width="0.6"/>
<text x="139.05" y="377.6" font-size="7.5" text-anchor="end" fill="#222">0</text>
<line x1="141" y1="395.44" x2="142.8" y2="395.44" stroke="#111" stroke-width="0.6"/>
<text x="139.05" y="398.14" font-size="7.5" text-anchor="end" fill="#222">−2</text>
<line x1="157.5" y1="399" x2="157.5" y2="400.8" stroke="#111" stroke-width="0.6"/>
<text x="155.25" y="408.32" font-size="7.5" text-anchor="middle" fill="#222">−2</text>
<line x1="174.2" y1="399" x2="174.2" y2="400.8" stroke="#111" stroke-width="0.6"/>
<text x="174.2" y="408.32" font-size="7.5" text-anchor="middle" fill="#222">0</text>
<line x1="190.9" y1="399" x2="190.9" y2="400.8" stroke="#111" stroke-width="0.6"/>
<text x="190.9" y="408.32" font-size="7.5" text-anchor="middle" fill="#222">2</text>
<line x1="207.6" y1="399" x2="207.6" y2="400.8" stroke="#111" stroke-width="0.6"/>
<text x="207.6" y="408.32" font-size="7.5" text-anchor="middle" fill="#222">4</text>
<text x="174.3" y="320.2" font-size="8.2" text-anchor="middle" font-style="italic" fill="#222">ATP6V1B1</text>
<text x="180" y="417.3" font-size="7.1" text-anchor="middle" fill="#222">tSNE1</text>
<text x="130.6" y="363.6" font-size="7.1" text-anchor="middle" fill="#222" transform="rotate(-90 130.6 363.6)">tSNE2</text>
<circle cx="266.68" cy="334.12" r="1.5" fill="#c4c4c4"/>
<circle cx="267.17" cy="335.68" r="1.5" fill="#c4c4c4"/>
<circle cx="261.87" cy="339.1" r="1.5" fill="#c4c4c4"/>
<circle cx="262.29" cy="342.01" r="1.5" fill="#c4c4c4"/>
<circle cx="262.46" cy="343.56" r="1.5" fill="#c4c4c4"/>
<circle cx="262.97" cy="352.69" r="1.5" fill="#c4c4c4"/>
<circle cx="264.23" cy="354.97" r="1.5" fill="#c4c4c4"/>
<circle cx="267.02" cy="359.74" r="1.5" fill="#c4c4c4"/>
<circle cx="247.56" cy="391.24" r="1.5" fill="#c4c4c4"/>
<circle cx="249.92" cy="389.45" r="1.5" fill="#c4c4c4"/>
<circle cx="287.81" cy="372.39" r="1.5" fill="#c4c4c4"/>
<circle cx="266.14" cy="333.86" r="1.5" fill="#df6a53"/>
<circle cx="265.61" cy="336.02" r="1.5" fill="#e73c27"/>
<circle cx="266.29" cy="334.16" r="1.5" fill="#e6452d"/>
<circle cx="265.88" cy="332.05" r="1.5" fill="#e93020"/>
<circle cx="267.5" cy="334.76" r="1.5" fill="#ea2418"/>
<circle cx="265.31" cy="331.13" r="1.5" fill="#ea2418"/>
<circle cx="266.67" cy="331.09" r="1.5" fill="#e93020"/>
<circle cx="263.13" cy="335.06" r="1.5" fill="#e6442d"/>
<circle cx="269.04" cy="336.24" r="1.5" fill="#e92a1c"/>
<circle cx="266.51" cy="334.88" r="1.5" fill="#e92c1d"/>
<circle cx="264.26" cy="331.8" r="1.5" fill="#e6472e"/>
<circle cx="263.52" cy="334.27" r="1.5" fill="#de715a"/>
<circle cx="264.94" cy="332.09" r="1.5" fill="#e92c1d"/>
<circle cx="265.77" cy="330.13" r="1.5" fill="#e54d32"/>
<circle cx="267.51" cy="333.79" r="1.5" fill="#e83422"/>
<circle cx="266.57" cy="334.22" r="1.5" fill="#e73c28"/>
<circle cx="264.74" cy="333.89" r="1.5" fill="#e7412a"/>
<circle cx="269.27" cy="336.3" r="1.5" fill="#e83925"/>
<circle cx="264.69" cy="333.03" r="1.5" fill="#e73c27"/>
<circle cx="264.07" cy="332.85" r="1.5" fill="#e55236"/>
<circle cx="265.23" cy="335.37" r="1.5" fill="#ea271a"/>
<circle cx="265.11" cy="335.71" r="1.5" fill="#e83422"/>
<circle cx="268.2" cy="336.15" r="1.5" fill="#e83623"/>
<circle cx="265.55" cy="329.01" r="1.5" fill="#e9291b"/>
<circle cx="265.64" cy="335.96" r="1.5" fill="#e83623"/>
<circle cx="265.14" cy="336.23" r="1.5" fill="#e73f29"/>
<circle cx="266.16" cy="330.86" r="1.5" fill="#e6472e"/>
<circle cx="264.41" cy="335.43" r="1.5" fill="#e6442c"/>
<circle cx="263.73" cy="351.65" r="1.5" fill="#e7422b"/>
<circle cx="264.15" cy="358.29" r="1.5" fill="#ea281b"/>
<circle cx="248.09" cy="390.94" r="1.5" fill="#e64930"/>
<circle cx="249.05" cy="391.9" r="1.5" fill="#e73b26"/>
<circle cx="247.86" cy="390.89" r="1.5" fill="#e25e44"/>
<circle cx="247.45" cy="392.16" r="1.5" fill="#e1634a"/>
<circle cx="246.14" cy="391.93" r="1.5" fill="#e54e32"/>
<circle cx="247.9" cy="389.75" r="1.5" fill="#e4563b"/>
<circle cx="248.32" cy="390.27" r="1.5" fill="#ea2418"/>
<circle cx="248.1" cy="390.68" r="1.5" fill="#e64a30"/>
<circle cx="247.45" cy="390.59" r="1.5" fill="#df6850"/>
<circle cx="249.2" cy="391.85" r="1.5" fill="#e54d32"/>
<circle cx="246.49" cy="389.24" r="1.5" fill="#e4563b"/>
<circle cx="247.52" cy="390.37" r="1.5" fill="#e7422b"/>
<circle cx="248.21" cy="392.77" r="1.5" fill="#e83221"/>
<circle cx="247.44" cy="390.62" r="1.5" fill="#e83221"/>
<circle cx="247.39" cy="392.48" r="1.5" fill="#da7e6a"/>
<circle cx="247.13" cy="391.05" r="1.5" fill="#e92c1d"/>
<circle cx="248.48" cy="390.66" r="1.5" fill="#de6d56"/>
<circle cx="247.32" cy="389.93" r="1.5" fill="#e7412a"/>
<circle cx="246.41" cy="390.57" r="1.5" fill="#e73b27"/>
<circle cx="248.47" cy="391.81" r="1.5" fill="#e16249"/>
<circle cx="245.28" cy="392.51" r="1.5" fill="#e92b1d"/>
<circle cx="247.51" cy="390.87" r="1.5" fill="#e73d28"/>
<circle cx="248.95" cy="392.62" r="1.5" fill="#e6472e"/>
<circle cx="247.25" cy="390.73" r="1.5" fill="#e7422b"/>
<circle cx="247.08" cy="394.18" r="1.5" fill="#de6d55"/>
<circle cx="248.14" cy="388.84" r="1.5" fill="#e73e29"/>
<circle cx="248.1" cy="386.08" r="1.5" fill="#e6462e"/>
<circle cx="249.87" cy="385.04" r="1.5" fill="#e6452d"/>
<circle cx="252.32" cy="382.76" r="1.5" fill="#e3583d"/>
<circle cx="255.53" cy="377.79" r="1.5" fill="#e73f29"/>
<circle cx="260.09" cy="372.91" r="1.5" fill="#e73f29"/>
<circle cx="264.07" cy="368.56" r="1.5" fill="#e25f45"/>
<circle cx="272.43" cy="366.38" r="1.5" fill="#ea2418"/>
<circle cx="276.4" cy="365.13" r="1.5" fill="#e54f33"/>
<circle cx="280.8" cy="370.11" r="1.5" fill="#e83322"/>
<circle cx="290.09" cy="374.26" r="1.5" fill="#e7422b"/>
<circle cx="292.04" cy="374.88" r="1.5" fill="#e83120"/>
<circle cx="293.98" cy="375.4" r="1.5" fill="#ea2418"/>
<circle cx="297.44" cy="375.92" r="1.5" fill="#ea2619"/>
<circle cx="300.4" cy="382.56" r="1.5" fill="#e6462e"/>
<circle cx="305.73" cy="381.66" r="1.5" fill="#e6472f"/>
<circle cx="304.65" cy="380.71" r="1.5" fill="#ea2418"/>
<circle cx="306.86" cy="380.38" r="1.5" fill="#e73f29"/>
<circle cx="305.05" cy="379.6" r="1.5" fill="#ea2418"/>
<circle cx="304.9" cy="379.35" r="1.5" fill="#e73b27"/>
<circle cx="304.44" cy="381.29" r="1.5" fill="#e92f1f"/>
<circle cx="305.51" cy="379.71" r="1.5" fill="#ea2418"/>
<circle cx="305.46" cy="380.65" r="1.5" fill="#ea2418"/>
<circle cx="303.58" cy="381.49" r="1.5" fill="#e9291b"/>
<circle cx="304.5" cy="381.34" r="1.5" fill="#ea2418"/>
<circle cx="305.41" cy="381.17" r="1.5" fill="#ea2418"/>
<circle cx="305.56" cy="380.83" r="1.5" fill="#e83825"/>
<circle cx="304.71" cy="380.8" r="1.5" fill="#e9291b"/>
<circle cx="305.29" cy="380.18" r="1.5" fill="#e7432c"/>
<circle cx="304.6" cy="381.09" r="1.5" fill="#e7402a"/>
<circle cx="303.93" cy="379.57" r="1.5" fill="#ea2418"/>
<circle cx="306.07" cy="381.04" r="1.5" fill="#e73c27"/>
<circle cx="304.6" cy="381.92" r="1.5" fill="#ea281a"/>
<circle cx="305.09" cy="380.72" r="1.5" fill="#e92f1f"/>
<circle cx="306.62" cy="380.69" r="1.5" fill="#ea2418"/>
<circle cx="304.37" cy="382.92" r="1.5" fill="#ea2418"/>
<circle cx="306.04" cy="380.74" r="1.5" fill="#ea2519"/>
<line x1="240.9" y1="327.3" x2="240.9" y2="398.1" stroke="#111" stroke-width="1"/>
<line x1="240.4" y1="397.6" x2="309.5" y2="397.6" stroke="#111" stroke-width="1"/>
<line x1="239.1" y1="331.12" x2="240.9" y2="331.12" stroke="#111" stroke-width="0.6"/>
<text x="237.15" y="333.82" font-size="7.5" text-anchor="end" fill="#222">4</text>
<line x1="239.1" y1="351.86" x2="240.9" y2="351.86" stroke="#111" stroke-width="0.6"/>
<text x="237.15" y="354.56" font-size="7.5" text-anchor="end" fill="#222">2</text>
<line x1="239.1" y1="372.6" x2="240.9" y2="372.6" stroke="#111" stroke-width="0.6"/>
<text x="237.15" y="375.3" font-size="7.5" text-anchor="end" fill="#222">0</text>
<line x1="239.1" y1="393.34" x2="240.9" y2="393.34" stroke="#111" stroke-width="0.6"/>
<text x="237.15" y="396.04" font-size="7.5" text-anchor="end" fill="#222">−2</text>
<line x1="255.7" y1="397.6" x2="255.7" y2="399.4" stroke="#111" stroke-width="0.6"/>
<text x="253.45" y="406.93" font-size="7.5" text-anchor="middle" fill="#222">−2</text>
<line x1="272.6" y1="397.6" x2="272.6" y2="399.4" stroke="#111" stroke-width="0.6"/>
<text x="272.6" y="406.93" font-size="7.5" text-anchor="middle" fill="#222">0</text>
<line x1="289.5" y1="397.6" x2="289.5" y2="399.4" stroke="#111" stroke-width="0.6"/>
<text x="289.5" y="406.93" font-size="7.5" text-anchor="middle" fill="#222">2</text>
<line x1="306.4" y1="397.6" x2="306.4" y2="399.4" stroke="#111" stroke-width="0.6"/>
<text x="306.4" y="406.93" font-size="7.5" text-anchor="middle" fill="#222">4</text>
<text x="274.2" y="319.6" font-size="8.2" text-anchor="middle" font-style="italic" fill="#222">ATP6V1G3</text>
<text x="278" y="415.2" font-size="7.1" text-anchor="middle" fill="#222">tSNE1</text>
<text x="228.7" y="361.19" font-size="7.1" text-anchor="middle" fill="#222" transform="rotate(-90 228.7 361.19)">tSNE2</text>
<circle cx="68.98" cy="451.07" r="1.5" fill="#c4c4c4"/>
<circle cx="69.15" cy="451.37" r="1.5" fill="#c4c4c4"/>
<circle cx="68.72" cy="449.25" r="1.5" fill="#c4c4c4"/>
<circle cx="70.4" cy="451.98" r="1.5" fill="#c4c4c4"/>
<circle cx="68.12" cy="448.33" r="1.5" fill="#c4c4c4"/>
<circle cx="69.54" cy="448.29" r="1.5" fill="#c4c4c4"/>
<circle cx="65.86" cy="452.28" r="1.5" fill="#c4c4c4"/>
<circle cx="72" cy="453.46" r="1.5" fill="#c4c4c4"/>
<circle cx="69.37" cy="452.09" r="1.5" fill="#c4c4c4"/>
<circle cx="66.27" cy="451.48" r="1.5" fill="#c4c4c4"/>
<circle cx="67.74" cy="449.3" r="1.5" fill="#c4c4c4"/>
<circle cx="68.6" cy="447.33" r="1.5" fill="#c4c4c4"/>
<circle cx="70.41" cy="451.01" r="1.5" fill="#c4c4c4"/>
<circle cx="69.44" cy="451.43" r="1.5" fill="#c4c4c4"/>
<circle cx="69.54" cy="451.33" r="1.5" fill="#c4c4c4"/>
<circle cx="72.24" cy="453.52" r="1.5" fill="#c4c4c4"/>
<circle cx="70.06" cy="452.9" r="1.5" fill="#c4c4c4"/>
<circle cx="67.48" cy="450.24" r="1.5" fill="#c4c4c4"/>
<circle cx="66.84" cy="450.06" r="1.5" fill="#c4c4c4"/>
<circle cx="68.04" cy="452.6" r="1.5" fill="#c4c4c4"/>
<circle cx="67.92" cy="452.93" r="1.5" fill="#c4c4c4"/>
<circle cx="71.13" cy="453.37" r="1.5" fill="#c4c4c4"/>
<circle cx="68.38" cy="446.2" r="1.5" fill="#c4c4c4"/>
<circle cx="68.47" cy="453.19" r="1.5" fill="#c4c4c4"/>
<circle cx="67.94" cy="453.46" r="1.5" fill="#c4c4c4"/>
<circle cx="67.19" cy="452.65" r="1.5" fill="#c4c4c4"/>
<circle cx="64.55" cy="456.34" r="1.5" fill="#c4c4c4"/>
<circle cx="66.48" cy="468.95" r="1.5" fill="#c4c4c4"/>
<circle cx="67.01" cy="472.29" r="1.5" fill="#c4c4c4"/>
<circle cx="66.92" cy="475.62" r="1.5" fill="#c4c4c4"/>
<circle cx="50.48" cy="507.76" r="1.5" fill="#c4c4c4"/>
<circle cx="47.32" cy="510" r="1.5" fill="#c4c4c4"/>
<circle cx="66.83" cy="485.94" r="1.5" fill="#c4c4c4"/>
<circle cx="75.52" cy="483.75" r="1.5" fill="#c4c4c4"/>
<circle cx="93.87" cy="491.67" r="1.5" fill="#c4c4c4"/>
<circle cx="95.89" cy="492.29" r="1.5" fill="#c4c4c4"/>
<circle cx="101.51" cy="493.33" r="1.5" fill="#c4c4c4"/>
<circle cx="104.59" cy="500" r="1.5" fill="#c4c4c4"/>
<circle cx="110.12" cy="499.1" r="1.5" fill="#c4c4c4"/>
<circle cx="109" cy="498.15" r="1.5" fill="#c4c4c4"/>
<circle cx="111.29" cy="497.82" r="1.5" fill="#c4c4c4"/>
<circle cx="109.42" cy="497.04" r="1.5" fill="#c4c4c4"/>
<circle cx="109.26" cy="496.78" r="1.5" fill="#c4c4c4"/>
<circle cx="108.79" cy="498.73" r="1.5" fill="#c4c4c4"/>
<circle cx="109.9" cy="497.15" r="1.5" fill="#c4c4c4"/>
<circle cx="109.84" cy="498.08" r="1.5" fill="#c4c4c4"/>
<circle cx="107.89" cy="498.93" r="1.5" fill="#c4c4c4"/>
<circle cx="108.84" cy="498.78" r="1.5" fill="#c4c4c4"/>
<circle cx="109.79" cy="498.62" r="1.5" fill="#c4c4c4"/>
<circle cx="109.95" cy="498.27" r="1.5" fill="#c4c4c4"/>
<circle cx="109.06" cy="498.24" r="1.5" fill="#c4c4c4"/>
<circle cx="109.67" cy="497.62" r="1.5" fill="#c4c4c4"/>
<circle cx="108.95" cy="498.53" r="1.5" fill="#c4c4c4"/>
<circle cx="108.25" cy="497" r="1.5" fill="#c4c4c4"/>
<circle cx="110.47" cy="498.49" r="1.5" fill="#c4c4c4"/>
<circle cx="108.95" cy="499.37" r="1.5" fill="#c4c4c4"/>
<circle cx="109.46" cy="498.16" r="1.5" fill="#c4c4c4"/>
<circle cx="111.05" cy="498.13" r="1.5" fill="#c4c4c4"/>
<circle cx="108.71" cy="500.37" r="1.5" fill="#c4c4c4"/>
<circle cx="68.44" cy="453.24" r="1.5" fill="#dd735c"/>
<circle cx="67.03" cy="449" r="1.5" fill="#e16249"/>
<circle cx="67.53" cy="451.1" r="1.5" fill="#db7d68"/>
<circle cx="69.01" cy="448.06" r="1.5" fill="#e15f46"/>
<circle cx="64.99" cy="459.26" r="1.5" fill="#e25d44"/>
<circle cx="65.16" cy="460.82" r="1.5" fill="#e55135"/>
<circle cx="65.69" cy="469.99" r="1.5" fill="#e83724"/>
<circle cx="69.91" cy="477.08" r="1.5" fill="#e35a3f"/>
<circle cx="50.24" cy="508.43" r="1.5" fill="#e0674f"/>
<circle cx="51.23" cy="509.4" r="1.5" fill="#e6442d"/>
<circle cx="49.99" cy="508.38" r="1.5" fill="#e73f29"/>
<circle cx="49.68" cy="508.73" r="1.5" fill="#e55034"/>
<circle cx="49.57" cy="509.65" r="1.5" fill="#e7412b"/>
<circle cx="48.2" cy="509.42" r="1.5" fill="#e54c31"/>
<circle cx="50.03" cy="507.23" r="1.5" fill="#e7412a"/>
<circle cx="50.25" cy="508.16" r="1.5" fill="#e45439"/>
<circle cx="49.57" cy="508.08" r="1.5" fill="#e73f29"/>
<circle cx="51.38" cy="509.34" r="1.5" fill="#e73f29"/>
<circle cx="48.57" cy="506.72" r="1.5" fill="#e54f34"/>
<circle cx="49.64" cy="507.85" r="1.5" fill="#e83523"/>
<circle cx="50.36" cy="510.27" r="1.5" fill="#e73e29"/>
<circle cx="52.14" cy="506.93" r="1.5" fill="#e73e29"/>
<circle cx="49.56" cy="508.1" r="1.5" fill="#e6432c"/>
<circle cx="49.5" cy="509.98" r="1.5" fill="#e54e32"/>
<circle cx="49.23" cy="508.54" r="1.5" fill="#e73e29"/>
<circle cx="50.63" cy="508.15" r="1.5" fill="#e45337"/>
<circle cx="49.43" cy="507.41" r="1.5" fill="#e6472e"/>
<circle cx="48.49" cy="508.06" r="1.5" fill="#e73f29"/>
<circle cx="50.63" cy="509.3" r="1.5" fill="#e54f33"/>
<circle cx="49.63" cy="508.36" r="1.5" fill="#e83221"/>
<circle cx="51.13" cy="510.12" r="1.5" fill="#e4563b"/>
<circle cx="49.36" cy="508.22" r="1.5" fill="#e92c1d"/>
<circle cx="49.18" cy="511.68" r="1.5" fill="#e73e28"/>
<circle cx="50.28" cy="506.31" r="1.5" fill="#e35a40"/>
<circle cx="50.24" cy="503.55" r="1.5" fill="#e6442d"/>
<circle cx="52.08" cy="502.5" r="1.5" fill="#e6452d"/>
<circle cx="54.63" cy="500.21" r="1.5" fill="#e9291b"/>
<circle cx="57.96" cy="495.21" r="1.5" fill="#e45337"/>
<circle cx="62.71" cy="490.31" r="1.5" fill="#e16148"/>
<circle cx="79.65" cy="482.5" r="1.5" fill="#e1624a"/>
<circle cx="84.22" cy="487.5" r="1.5" fill="#e35b40"/>
<circle cx="91.5" cy="489.79" r="1.5" fill="#df6b53"/>
<circle cx="97.91" cy="492.81" r="1.5" fill="#e54e33"/>
<circle cx="110.44" cy="498.18" r="1.5" fill="#e45439"/>
<line x1="43.5" y1="443.1" x2="43.5" y2="513.8" stroke="#111" stroke-width="1"/>
<line x1="43" y1="513.3" x2="114" y2="513.3" stroke="#111" stroke-width="1"/>
<line x1="41.7" y1="448.32" x2="43.5" y2="448.32" stroke="#111" stroke-width="0.6"/>
<text x="39.75" y="451.02" font-size="7.5" text-anchor="end" fill="#222">4</text>
<line x1="41.7" y1="469.16" x2="43.5" y2="469.16" stroke="#111" stroke-width="0.6"/>
<text x="39.75" y="471.86" font-size="7.5" text-anchor="end" fill="#222">2</text>
<line x1="41.7" y1="490" x2="43.5" y2="490" stroke="#111" stroke-width="0.6"/>
<text x="39.75" y="492.7" font-size="7.5" text-anchor="end" fill="#222">0</text>
<line x1="41.7" y1="510.84" x2="43.5" y2="510.84" stroke="#111" stroke-width="0.6"/>
<text x="39.75" y="513.54" font-size="7.5" text-anchor="end" fill="#222">−2</text>
<line x1="58.14" y1="513.3" x2="58.14" y2="515.1" stroke="#111" stroke-width="0.6"/>
<text x="55.89" y="522.62" font-size="7.5" text-anchor="middle" fill="#222">−2</text>
<line x1="75.7" y1="513.3" x2="75.7" y2="515.1" stroke="#111" stroke-width="0.6"/>
<text x="75.7" y="522.62" font-size="7.5" text-anchor="middle" fill="#222">0</text>
<line x1="93.26" y1="513.3" x2="93.26" y2="515.1" stroke="#111" stroke-width="0.6"/>
<text x="93.26" y="522.62" font-size="7.5" text-anchor="middle" fill="#222">2</text>
<line x1="110.82" y1="513.3" x2="110.82" y2="515.1" stroke="#111" stroke-width="0.6"/>
<text x="110.82" y="522.62" font-size="7.5" text-anchor="middle" fill="#222">4</text>
<text x="76.3" y="434" font-size="8.2" text-anchor="middle" font-style="italic" fill="#222">AQP2</text>
<text x="81.3" y="530.4" font-size="7.1" text-anchor="middle" fill="#222">tSNE1</text>
<text x="31.3" y="478.54" font-size="7.1" text-anchor="middle" fill="#222" transform="rotate(-90 31.3 478.54)">tSNE2</text>
<circle cx="166.74" cy="451.02" r="1.5" fill="#c4c4c4"/>
<circle cx="166.2" cy="453.18" r="1.5" fill="#c4c4c4"/>
<circle cx="166.9" cy="451.32" r="1.5" fill="#c4c4c4"/>
<circle cx="166.48" cy="449.21" r="1.5" fill="#c4c4c4"/>
<circle cx="168.12" cy="451.93" r="1.5" fill="#c4c4c4"/>
<circle cx="165.89" cy="448.29" r="1.5" fill="#c4c4c4"/>
<circle cx="167.28" cy="448.25" r="1.5" fill="#c4c4c4"/>
<circle cx="163.69" cy="452.22" r="1.5" fill="#c4c4c4"/>
<circle cx="169.68" cy="453.4" r="1.5" fill="#c4c4c4"/>
<circle cx="167.11" cy="452.04" r="1.5" fill="#c4c4c4"/>
<circle cx="164.83" cy="448.96" r="1.5" fill="#c4c4c4"/>
<circle cx="164.08" cy="451.43" r="1.5" fill="#c4c4c4"/>
<circle cx="165.52" cy="449.26" r="1.5" fill="#c4c4c4"/>
<circle cx="166.37" cy="447.29" r="1.5" fill="#c4c4c4"/>
<circle cx="168.13" cy="450.96" r="1.5" fill="#c4c4c4"/>
<circle cx="167.18" cy="451.38" r="1.5" fill="#c4c4c4"/>
<circle cx="167.28" cy="451.28" r="1.5" fill="#c4c4c4"/>
<circle cx="165.32" cy="451.05" r="1.5" fill="#c4c4c4"/>
<circle cx="169.92" cy="453.46" r="1.5" fill="#c4c4c4"/>
<circle cx="167.79" cy="452.85" r="1.5" fill="#c4c4c4"/>
<circle cx="165.27" cy="450.19" r="1.5" fill="#c4c4c4"/>
<circle cx="164.64" cy="450.01" r="1.5" fill="#c4c4c4"/>
<circle cx="165.81" cy="452.54" r="1.5" fill="#c4c4c4"/>
<circle cx="165.69" cy="452.87" r="1.5" fill="#c4c4c4"/>
<circle cx="168.83" cy="453.31" r="1.5" fill="#c4c4c4"/>
<circle cx="166.15" cy="446.17" r="1.5" fill="#c4c4c4"/>
<circle cx="166.23" cy="453.13" r="1.5" fill="#c4c4c4"/>
<circle cx="165.72" cy="453.4" r="1.5" fill="#c4c4c4"/>
<circle cx="166.76" cy="448.02" r="1.5" fill="#c4c4c4"/>
<circle cx="164.98" cy="452.59" r="1.5" fill="#c4c4c4"/>
<circle cx="163" cy="460.74" r="1.5" fill="#c4c4c4"/>
<circle cx="163.52" cy="469.87" r="1.5" fill="#c4c4c4"/>
<circle cx="164.29" cy="468.83" r="1.5" fill="#c4c4c4"/>
<circle cx="164.81" cy="472.15" r="1.5" fill="#c4c4c4"/>
<circle cx="164.72" cy="475.48" r="1.5" fill="#c4c4c4"/>
<circle cx="167.64" cy="476.93" r="1.5" fill="#c4c4c4"/>
<circle cx="148.42" cy="503.29" r="1.5" fill="#c4c4c4"/>
<circle cx="152.71" cy="499.97" r="1.5" fill="#c4c4c4"/>
<circle cx="155.97" cy="494.99" r="1.5" fill="#c4c4c4"/>
<circle cx="160.6" cy="490.11" r="1.5" fill="#c4c4c4"/>
<circle cx="173.13" cy="483.57" r="1.5" fill="#c4c4c4"/>
<circle cx="177.16" cy="482.33" r="1.5" fill="#c4c4c4"/>
<circle cx="181.62" cy="487.31" r="1.5" fill="#c4c4c4"/>
<circle cx="188.74" cy="489.59" r="1.5" fill="#c4c4c4"/>
<circle cx="191.06" cy="491.46" r="1.5" fill="#c4c4c4"/>
<circle cx="193.03" cy="492.08" r="1.5" fill="#c4c4c4"/>
<circle cx="198.53" cy="493.12" r="1.5" fill="#c4c4c4"/>
<circle cx="201.53" cy="499.76" r="1.5" fill="#c4c4c4"/>
<circle cx="205.84" cy="497.92" r="1.5" fill="#c4c4c4"/>
<circle cx="206.72" cy="496.92" r="1.5" fill="#c4c4c4"/>
<circle cx="205.11" cy="496.77" r="1.5" fill="#c4c4c4"/>
<circle cx="206.29" cy="497.93" r="1.5" fill="#c4c4c4"/>
<circle cx="205.56" cy="500.13" r="1.5" fill="#c4c4c4"/>
<circle cx="162.4" cy="456.27" r="1.5" fill="#e92e1e"/>
<circle cx="162.83" cy="459.18" r="1.5" fill="#e54f33"/>
<circle cx="148.42" cy="508.16" r="1.5" fill="#e3593e"/>
<circle cx="149.39" cy="509.12" r="1.5" fill="#e73d28"/>
<circle cx="148.18" cy="508.11" r="1.5" fill="#e64930"/>
<circle cx="147.88" cy="508.45" r="1.5" fill="#e54c31"/>
<circle cx="147.76" cy="509.37" r="1.5" fill="#e64930"/>
<circle cx="146.43" cy="509.14" r="1.5" fill="#e92a1c"/>
<circle cx="148.22" cy="506.97" r="1.5" fill="#e7412a"/>
<circle cx="148.65" cy="507.49" r="1.5" fill="#e3593f"/>
<circle cx="148.43" cy="507.89" r="1.5" fill="#e93120"/>
<circle cx="147.76" cy="507.81" r="1.5" fill="#e7422b"/>
<circle cx="149.54" cy="509.07" r="1.5" fill="#e16046"/>
<circle cx="146.79" cy="506.45" r="1.5" fill="#e73f29"/>
<circle cx="147.83" cy="507.58" r="1.5" fill="#e54c31"/>
<circle cx="148.53" cy="509.99" r="1.5" fill="#e92c1d"/>
<circle cx="150.27" cy="506.66" r="1.5" fill="#e54e33"/>
<circle cx="147.76" cy="507.83" r="1.5" fill="#e6462e"/>
<circle cx="147.7" cy="509.7" r="1.5" fill="#ea2418"/>
<circle cx="147.44" cy="508.26" r="1.5" fill="#e0654d"/>
<circle cx="148.8" cy="507.88" r="1.5" fill="#e73e28"/>
<circle cx="147.63" cy="507.14" r="1.5" fill="#e83825"/>
<circle cx="146.71" cy="507.79" r="1.5" fill="#e73f29"/>
<circle cx="148.8" cy="509.03" r="1.5" fill="#e3583d"/>
<circle cx="145.56" cy="509.73" r="1.5" fill="#e7412a"/>
<circle cx="147.82" cy="508.09" r="1.5" fill="#e64930"/>
<circle cx="149.29" cy="509.84" r="1.5" fill="#e45338"/>
<circle cx="147.56" cy="507.95" r="1.5" fill="#e6452d"/>
<circle cx="147.38" cy="511.4" r="1.5" fill="#e7402a"/>
<circle cx="148.46" cy="506.05" r="1.5" fill="#e25f46"/>
<circle cx="150.22" cy="502.26" r="1.5" fill="#e93120"/>
<circle cx="164.63" cy="485.75" r="1.5" fill="#e6492f"/>
<circle cx="195.01" cy="492.6" r="1.5" fill="#e55034"/>
<circle cx="206.94" cy="498.87" r="1.5" fill="#e7402a"/>
<circle cx="208.08" cy="497.59" r="1.5" fill="#e7402a"/>
<circle cx="206.25" cy="496.81" r="1.5" fill="#e0674f"/>
<circle cx="206.1" cy="496.56" r="1.5" fill="#e7402a"/>
<circle cx="205.63" cy="498.5" r="1.5" fill="#de6f58"/>
<circle cx="206.67" cy="497.85" r="1.5" fill="#e54e33"/>
<circle cx="204.75" cy="498.7" r="1.5" fill="#e7402a"/>
<circle cx="205.69" cy="498.55" r="1.5" fill="#e16147"/>
<circle cx="206.61" cy="498.38" r="1.5" fill="#e83623"/>
<circle cx="206.77" cy="498.04" r="1.5" fill="#e7402a"/>
<circle cx="205.9" cy="498.01" r="1.5" fill="#e6492f"/>
<circle cx="206.49" cy="497.39" r="1.5" fill="#e73d28"/>
<circle cx="205.79" cy="498.3" r="1.5" fill="#e45438"/>
<circle cx="207.28" cy="498.25" r="1.5" fill="#e54e33"/>
<circle cx="205.79" cy="499.13" r="1.5" fill="#e35a40"/>
<circle cx="207.85" cy="497.9" r="1.5" fill="#e3583d"/>
<circle cx="207.25" cy="497.95" r="1.5" fill="#e54e33"/>
<line x1="140.7" y1="443.2" x2="140.7" y2="514" stroke="#111" stroke-width="1"/>
<line x1="140.2" y1="513.5" x2="210.5" y2="513.5" stroke="#111" stroke-width="1"/>
<line x1="138.9" y1="448.28" x2="140.7" y2="448.28" stroke="#111" stroke-width="0.6"/>
<text x="136.95" y="450.98" font-size="7.5" text-anchor="end" fill="#222">4</text>
<line x1="138.9" y1="469.04" x2="140.7" y2="469.04" stroke="#111" stroke-width="0.6"/>
<text x="136.95" y="471.74" font-size="7.5" text-anchor="end" fill="#222">2</text>
<line x1="138.9" y1="489.8" x2="140.7" y2="489.8" stroke="#111" stroke-width="0.6"/>
<text x="136.95" y="492.5" font-size="7.5" text-anchor="end" fill="#222">0</text>
<line x1="138.9" y1="510.56" x2="140.7" y2="510.56" stroke="#111" stroke-width="0.6"/>
<text x="136.95" y="513.26" font-size="7.5" text-anchor="end" fill="#222">−2</text>
<line x1="156.14" y1="513.5" x2="156.14" y2="515.3" stroke="#111" stroke-width="0.6"/>
<text x="153.89" y="522.83" font-size="7.5" text-anchor="middle" fill="#222">−2</text>
<line x1="173.3" y1="513.5" x2="173.3" y2="515.3" stroke="#111" stroke-width="0.6"/>
<text x="173.3" y="522.83" font-size="7.5" text-anchor="middle" fill="#222">0</text>
<line x1="190.46" y1="513.5" x2="190.46" y2="515.3" stroke="#111" stroke-width="0.6"/>
<text x="190.46" y="522.83" font-size="7.5" text-anchor="middle" fill="#222">2</text>
<line x1="207.62" y1="513.5" x2="207.62" y2="515.3" stroke="#111" stroke-width="0.6"/>
<text x="207.62" y="522.83" font-size="7.5" text-anchor="middle" fill="#222">4</text>
<text x="171" y="434" font-size="8.2" text-anchor="middle" font-style="italic" fill="#222">AQP3</text>
<text x="178.5" y="530.9" font-size="7.1" text-anchor="middle" fill="#222">tSNE1</text>
<text x="128.5" y="478.38" font-size="7.1" text-anchor="middle" fill="#222" transform="rotate(-90 128.5 478.38)">tSNE_2</text>
<circle cx="265.54" cy="450.74" r="1.5" fill="#c4c4c4"/>
<circle cx="265.7" cy="451.04" r="1.5" fill="#c4c4c4"/>
<circle cx="265.28" cy="448.91" r="1.5" fill="#c4c4c4"/>
<circle cx="266.92" cy="451.65" r="1.5" fill="#c4c4c4"/>
<circle cx="264.69" cy="447.99" r="1.5" fill="#c4c4c4"/>
<circle cx="266.08" cy="447.95" r="1.5" fill="#c4c4c4"/>
<circle cx="262.49" cy="451.94" r="1.5" fill="#c4c4c4"/>
<circle cx="268.48" cy="453.13" r="1.5" fill="#c4c4c4"/>
<circle cx="265.91" cy="451.76" r="1.5" fill="#c4c4c4"/>
<circle cx="263.63" cy="448.67" r="1.5" fill="#c4c4c4"/>
<circle cx="262.88" cy="451.14" r="1.5" fill="#c4c4c4"/>
<circle cx="264.32" cy="448.96" r="1.5" fill="#c4c4c4"/>
<circle cx="265.17" cy="446.99" r="1.5" fill="#c4c4c4"/>
<circle cx="266.93" cy="450.67" r="1.5" fill="#c4c4c4"/>
<circle cx="265.98" cy="451.1" r="1.5" fill="#c4c4c4"/>
<circle cx="266.59" cy="452.57" r="1.5" fill="#c4c4c4"/>
<circle cx="264.07" cy="449.9" r="1.5" fill="#c4c4c4"/>
<circle cx="263.44" cy="449.72" r="1.5" fill="#c4c4c4"/>
<circle cx="264.61" cy="452.26" r="1.5" fill="#c4c4c4"/>
<circle cx="264.49" cy="452.59" r="1.5" fill="#c4c4c4"/>
<circle cx="267.63" cy="453.04" r="1.5" fill="#c4c4c4"/>
<circle cx="264.95" cy="445.86" r="1.5" fill="#c4c4c4"/>
<circle cx="265.03" cy="452.85" r="1.5" fill="#c4c4c4"/>
<circle cx="264.52" cy="453.12" r="1.5" fill="#c4c4c4"/>
<circle cx="265.56" cy="447.71" r="1.5" fill="#c4c4c4"/>
<circle cx="263.78" cy="452.31" r="1.5" fill="#c4c4c4"/>
<circle cx="263.52" cy="475.31" r="1.5" fill="#c4c4c4"/>
<circle cx="266.44" cy="476.77" r="1.5" fill="#c4c4c4"/>
<circle cx="247.45" cy="507.47" r="1.5" fill="#c4c4c4"/>
<circle cx="246.43" cy="507.13" r="1.5" fill="#c4c4c4"/>
<circle cx="254.77" cy="494.91" r="1.5" fill="#c4c4c4"/>
<circle cx="263.43" cy="485.63" r="1.5" fill="#c4c4c4"/>
<circle cx="275.96" cy="482.19" r="1.5" fill="#c4c4c4"/>
<circle cx="280.42" cy="487.2" r="1.5" fill="#c4c4c4"/>
<circle cx="287.54" cy="489.49" r="1.5" fill="#c4c4c4"/>
<circle cx="289.86" cy="491.37" r="1.5" fill="#c4c4c4"/>
<circle cx="291.83" cy="491.99" r="1.5" fill="#c4c4c4"/>
<circle cx="297.33" cy="493.04" r="1.5" fill="#c4c4c4"/>
<circle cx="300.33" cy="499.71" r="1.5" fill="#c4c4c4"/>
<circle cx="305.52" cy="496.86" r="1.5" fill="#c4c4c4"/>
<circle cx="305.29" cy="497.33" r="1.5" fill="#c4c4c4"/>
<circle cx="265" cy="452.9" r="1.5" fill="#e9291b"/>
<circle cx="266.08" cy="450.99" r="1.5" fill="#e92b1c"/>
<circle cx="264.12" cy="450.76" r="1.5" fill="#e73b26"/>
<circle cx="268.72" cy="453.19" r="1.5" fill="#e83a26"/>
<circle cx="261.2" cy="456.01" r="1.5" fill="#e83724"/>
<circle cx="261.63" cy="458.93" r="1.5" fill="#e45237"/>
<circle cx="261.8" cy="460.5" r="1.5" fill="#e92f1f"/>
<circle cx="262.32" cy="469.67" r="1.5" fill="#ea2518"/>
<circle cx="263.09" cy="468.63" r="1.5" fill="#e6482f"/>
<circle cx="263.61" cy="471.97" r="1.5" fill="#e92a1c"/>
<circle cx="247.22" cy="508.15" r="1.5" fill="#e64930"/>
<circle cx="248.19" cy="509.12" r="1.5" fill="#e16148"/>
<circle cx="246.98" cy="508.1" r="1.5" fill="#e7402a"/>
<circle cx="246.68" cy="508.44" r="1.5" fill="#e6432c"/>
<circle cx="246.56" cy="509.37" r="1.5" fill="#e16047"/>
<circle cx="245.23" cy="509.14" r="1.5" fill="#e6472e"/>
<circle cx="247.02" cy="506.95" r="1.5" fill="#e7412b"/>
<circle cx="247.23" cy="507.88" r="1.5" fill="#e6492f"/>
<circle cx="246.56" cy="507.8" r="1.5" fill="#e73f29"/>
<circle cx="248.34" cy="509.06" r="1.5" fill="#e6472f"/>
<circle cx="245.59" cy="506.43" r="1.5" fill="#ea2418"/>
<circle cx="246.63" cy="507.57" r="1.5" fill="#e83221"/>
<circle cx="247.33" cy="509.99" r="1.5" fill="#e54d32"/>
<circle cx="249.07" cy="506.65" r="1.5" fill="#e6442c"/>
<circle cx="246.56" cy="507.82" r="1.5" fill="#e35b41"/>
<circle cx="246.5" cy="509.7" r="1.5" fill="#e55236"/>
<circle cx="246.24" cy="508.25" r="1.5" fill="#e4553a"/>
<circle cx="247.6" cy="507.87" r="1.5" fill="#e73c27"/>
<circle cx="245.51" cy="507.77" r="1.5" fill="#e45539"/>
<circle cx="247.6" cy="509.02" r="1.5" fill="#e4563a"/>
<circle cx="244.36" cy="509.72" r="1.5" fill="#e54d32"/>
<circle cx="246.62" cy="508.08" r="1.5" fill="#e55034"/>
<circle cx="248.09" cy="509.83" r="1.5" fill="#e6442c"/>
<circle cx="246.36" cy="507.94" r="1.5" fill="#e54f34"/>
<circle cx="246.18" cy="511.4" r="1.5" fill="#e54e33"/>
<circle cx="247.26" cy="506.03" r="1.5" fill="#e64930"/>
<circle cx="247.22" cy="503.26" r="1.5" fill="#ea2418"/>
<circle cx="249.02" cy="502.22" r="1.5" fill="#e6432c"/>
<circle cx="251.51" cy="499.92" r="1.5" fill="#e92c1d"/>
<circle cx="259.4" cy="490.01" r="1.5" fill="#e54d32"/>
<circle cx="271.93" cy="483.44" r="1.5" fill="#e25e44"/>
<circle cx="293.81" cy="492.52" r="1.5" fill="#e64a30"/>
<circle cx="305.74" cy="498.81" r="1.5" fill="#ea2418"/>
<circle cx="304.64" cy="497.86" r="1.5" fill="#e64a30"/>
<circle cx="306.88" cy="497.53" r="1.5" fill="#e83825"/>
<circle cx="305.05" cy="496.74" r="1.5" fill="#e73d28"/>
<circle cx="304.9" cy="496.49" r="1.5" fill="#e73b27"/>
<circle cx="304.43" cy="498.44" r="1.5" fill="#e9291b"/>
<circle cx="305.47" cy="497.79" r="1.5" fill="#e93120"/>
<circle cx="303.55" cy="498.64" r="1.5" fill="#e45539"/>
<circle cx="304.49" cy="498.49" r="1.5" fill="#e7402a"/>
<circle cx="305.41" cy="498.32" r="1.5" fill="#e3593e"/>
<circle cx="305.57" cy="497.98" r="1.5" fill="#e73e28"/>
<circle cx="304.7" cy="497.95" r="1.5" fill="#e3583d"/>
<circle cx="304.59" cy="498.24" r="1.5" fill="#e83825"/>
<circle cx="303.91" cy="496.71" r="1.5" fill="#e73c27"/>
<circle cx="306.08" cy="498.19" r="1.5" fill="#e73a26"/>
<circle cx="304.59" cy="499.08" r="1.5" fill="#e83523"/>
<circle cx="305.09" cy="497.87" r="1.5" fill="#e83925"/>
<circle cx="306.65" cy="497.84" r="1.5" fill="#ea2418"/>
<circle cx="304.36" cy="500.08" r="1.5" fill="#e6462e"/>
<circle cx="306.05" cy="497.89" r="1.5" fill="#e92b1d"/>
<line x1="240.4" y1="443.2" x2="240.4" y2="514" stroke="#111" stroke-width="1"/>
<line x1="239.9" y1="513.5" x2="309.5" y2="513.5" stroke="#111" stroke-width="1"/>
<line x1="238.6" y1="447.98" x2="240.4" y2="447.98" stroke="#111" stroke-width="0.6"/>
<text x="236.65" y="450.68" font-size="7.5" text-anchor="end" fill="#222">4</text>
<line x1="238.6" y1="468.84" x2="240.4" y2="468.84" stroke="#111" stroke-width="0.6"/>
<text x="236.65" y="471.54" font-size="7.5" text-anchor="end" fill="#222">2</text>
<line x1="238.6" y1="489.7" x2="240.4" y2="489.7" stroke="#111" stroke-width="0.6"/>
<text x="236.65" y="492.4" font-size="7.5" text-anchor="end" fill="#222">0</text>
<line x1="238.6" y1="510.56" x2="240.4" y2="510.56" stroke="#111" stroke-width="0.6"/>
<text x="236.65" y="513.26" font-size="7.5" text-anchor="end" fill="#222">−2</text>
<line x1="254.94" y1="513.5" x2="254.94" y2="515.3" stroke="#111" stroke-width="0.6"/>
<text x="252.69" y="522.83" font-size="7.5" text-anchor="middle" fill="#222">−2</text>
<line x1="272.1" y1="513.5" x2="272.1" y2="515.3" stroke="#111" stroke-width="0.6"/>
<text x="272.1" y="522.83" font-size="7.5" text-anchor="middle" fill="#222">0</text>
<line x1="289.26" y1="513.5" x2="289.26" y2="515.3" stroke="#111" stroke-width="0.6"/>
<text x="289.26" y="522.83" font-size="7.5" text-anchor="middle" fill="#222">2</text>
<line x1="306.42" y1="513.5" x2="306.42" y2="515.3" stroke="#111" stroke-width="0.6"/>
<text x="306.42" y="522.83" font-size="7.5" text-anchor="middle" fill="#222">4</text>
<text x="263.4" y="434" font-size="8.2" text-anchor="middle" font-style="italic" fill="#222">FXYD4</text>
<text x="277" y="530.9" font-size="7.1" text-anchor="middle" fill="#222">tSNE1</text>
<text x="228.2" y="478.23" font-size="7.1" text-anchor="middle" fill="#222" transform="rotate(-90 228.2 478.23)">tSNE_2</text>
<circle cx="68.44" cy="566.07" r="1.5" fill="#c4c4c4"/>
<circle cx="67.9" cy="568.24" r="1.5" fill="#c4c4c4"/>
<circle cx="68.61" cy="566.37" r="1.5" fill="#c4c4c4"/>
<circle cx="68.18" cy="564.25" r="1.5" fill="#c4c4c4"/>
<circle cx="69.85" cy="566.98" r="1.5" fill="#c4c4c4"/>
<circle cx="67.59" cy="563.33" r="1.5" fill="#c4c4c4"/>
<circle cx="68.99" cy="563.29" r="1.5" fill="#c4c4c4"/>
<circle cx="65.35" cy="567.28" r="1.5" fill="#c4c4c4"/>
<circle cx="71.43" cy="568.46" r="1.5" fill="#c4c4c4"/>
<circle cx="68.83" cy="567.09" r="1.5" fill="#c4c4c4"/>
<circle cx="66.51" cy="564" r="1.5" fill="#c4c4c4"/>
<circle cx="65.75" cy="566.48" r="1.5" fill="#c4c4c4"/>
<circle cx="67.21" cy="564.3" r="1.5" fill="#c4c4c4"/>
<circle cx="68.07" cy="562.33" r="1.5" fill="#c4c4c4"/>
<circle cx="69.86" cy="566.01" r="1.5" fill="#c4c4c4"/>
<circle cx="68.9" cy="566.43" r="1.5" fill="#c4c4c4"/>
<circle cx="69" cy="566.33" r="1.5" fill="#c4c4c4"/>
<circle cx="67.01" cy="566.1" r="1.5" fill="#c4c4c4"/>
<circle cx="71.67" cy="568.52" r="1.5" fill="#c4c4c4"/>
<circle cx="69.51" cy="567.9" r="1.5" fill="#c4c4c4"/>
<circle cx="66.95" cy="565.24" r="1.5" fill="#c4c4c4"/>
<circle cx="66.32" cy="565.06" r="1.5" fill="#c4c4c4"/>
<circle cx="67.51" cy="567.6" r="1.5" fill="#c4c4c4"/>
<circle cx="67.39" cy="567.93" r="1.5" fill="#c4c4c4"/>
<circle cx="70.57" cy="568.37" r="1.5" fill="#c4c4c4"/>
<circle cx="67.85" cy="561.2" r="1.5" fill="#c4c4c4"/>
<circle cx="67.93" cy="568.19" r="1.5" fill="#c4c4c4"/>
<circle cx="67.41" cy="568.46" r="1.5" fill="#c4c4c4"/>
<circle cx="68.47" cy="563.06" r="1.5" fill="#c4c4c4"/>
<circle cx="66.67" cy="567.65" r="1.5" fill="#c4c4c4"/>
<circle cx="64.05" cy="571.34" r="1.5" fill="#c4c4c4"/>
<circle cx="64.66" cy="575.82" r="1.5" fill="#c4c4c4"/>
<circle cx="65.96" cy="583.95" r="1.5" fill="#c4c4c4"/>
<circle cx="66.49" cy="587.29" r="1.5" fill="#c4c4c4"/>
<circle cx="69.36" cy="592.08" r="1.5" fill="#c4c4c4"/>
<circle cx="49.87" cy="618.55" r="1.5" fill="#c4c4c4"/>
<circle cx="51.7" cy="617.5" r="1.5" fill="#c4c4c4"/>
<circle cx="57.53" cy="610.21" r="1.5" fill="#c4c4c4"/>
<circle cx="62.22" cy="605.31" r="1.5" fill="#c4c4c4"/>
<circle cx="74.93" cy="598.75" r="1.5" fill="#c4c4c4"/>
<circle cx="79.02" cy="597.5" r="1.5" fill="#c4c4c4"/>
<circle cx="83.54" cy="602.5" r="1.5" fill="#c4c4c4"/>
<circle cx="90.76" cy="604.79" r="1.5" fill="#c4c4c4"/>
<circle cx="93.11" cy="606.67" r="1.5" fill="#c4c4c4"/>
<circle cx="95.11" cy="607.29" r="1.5" fill="#c4c4c4"/>
<circle cx="97.11" cy="607.81" r="1.5" fill="#c4c4c4"/>
<circle cx="100.68" cy="608.33" r="1.5" fill="#c4c4c4"/>
<circle cx="103.72" cy="615" r="1.5" fill="#c4c4c4"/>
<circle cx="109.21" cy="614.1" r="1.5" fill="#c4c4c4"/>
<circle cx="108.1" cy="613.15" r="1.5" fill="#c4c4c4"/>
<circle cx="110.37" cy="612.82" r="1.5" fill="#c4c4c4"/>
<circle cx="108.99" cy="612.15" r="1.5" fill="#c4c4c4"/>
<circle cx="106.99" cy="613.93" r="1.5" fill="#c4c4c4"/>
<circle cx="107.94" cy="613.78" r="1.5" fill="#c4c4c4"/>
<circle cx="108.88" cy="613.62" r="1.5" fill="#c4c4c4"/>
<circle cx="108.76" cy="612.62" r="1.5" fill="#c4c4c4"/>
<circle cx="107.35" cy="612" r="1.5" fill="#c4c4c4"/>
<circle cx="109.56" cy="613.49" r="1.5" fill="#c4c4c4"/>
<circle cx="108.55" cy="613.16" r="1.5" fill="#c4c4c4"/>
<circle cx="110.13" cy="613.13" r="1.5" fill="#c4c4c4"/>
<circle cx="107.81" cy="615.37" r="1.5" fill="#c4c4c4"/>
<circle cx="109.52" cy="613.18" r="1.5" fill="#c4c4c4"/>
<circle cx="64.49" cy="574.26" r="1.5" fill="#e83422"/>
<circle cx="65.18" cy="584.99" r="1.5" fill="#e83221"/>
<circle cx="66.4" cy="590.62" r="1.5" fill="#e7422b"/>
<circle cx="49.87" cy="623.43" r="1.5" fill="#e73a26"/>
<circle cx="50.86" cy="624.4" r="1.5" fill="#e54e33"/>
<circle cx="49.63" cy="623.38" r="1.5" fill="#ea2418"/>
<circle cx="49.32" cy="623.73" r="1.5" fill="#e73f29"/>
<circle cx="49.21" cy="624.65" r="1.5" fill="#e83a26"/>
<circle cx="47.85" cy="624.42" r="1.5" fill="#e83523"/>
<circle cx="49.67" cy="622.23" r="1.5" fill="#e54d32"/>
<circle cx="50.11" cy="622.76" r="1.5" fill="#e64b31"/>
<circle cx="49.88" cy="623.16" r="1.5" fill="#e6442c"/>
<circle cx="49.21" cy="623.08" r="1.5" fill="#e9291b"/>
<circle cx="51.01" cy="624.34" r="1.5" fill="#e25c41"/>
<circle cx="48.22" cy="621.72" r="1.5" fill="#ea2418"/>
<circle cx="49.28" cy="622.85" r="1.5" fill="#e83322"/>
<circle cx="49.99" cy="625.27" r="1.5" fill="#e83724"/>
<circle cx="51.75" cy="621.93" r="1.5" fill="#e6472e"/>
<circle cx="49.2" cy="623.1" r="1.5" fill="#e73a26"/>
<circle cx="49.14" cy="624.98" r="1.5" fill="#e6492f"/>
<circle cx="48.87" cy="623.54" r="1.5" fill="#e73f29"/>
<circle cx="50.26" cy="623.15" r="1.5" fill="#e7422b"/>
<circle cx="49.07" cy="622.41" r="1.5" fill="#e83824"/>
<circle cx="48.14" cy="623.06" r="1.5" fill="#e6432c"/>
<circle cx="50.26" cy="624.3" r="1.5" fill="#ea2418"/>
<circle cx="46.97" cy="625" r="1.5" fill="#e83322"/>
<circle cx="49.27" cy="623.36" r="1.5" fill="#e93120"/>
<circle cx="50.75" cy="625.12" r="1.5" fill="#e93020"/>
<circle cx="49" cy="623.22" r="1.5" fill="#e25c42"/>
<circle cx="48.82" cy="626.68" r="1.5" fill="#e64b31"/>
<circle cx="49.91" cy="621.31" r="1.5" fill="#ea2418"/>
<circle cx="54.22" cy="615.21" r="1.5" fill="#ea2418"/>
<circle cx="66.31" cy="600.94" r="1.5" fill="#ea281a"/>
<circle cx="108.51" cy="612.04" r="1.5" fill="#ea2418"/>
<circle cx="108.36" cy="611.78" r="1.5" fill="#ea2418"/>
<circle cx="107.88" cy="613.73" r="1.5" fill="#e73c27"/>
<circle cx="108.93" cy="613.08" r="1.5" fill="#e73a26"/>
<circle cx="109.04" cy="613.27" r="1.5" fill="#e64a30"/>
<circle cx="108.16" cy="613.24" r="1.5" fill="#e7422b"/>
<circle cx="108.05" cy="613.53" r="1.5" fill="#e83422"/>
<circle cx="108.05" cy="614.37" r="1.5" fill="#e6452d"/>
<line x1="43.6" y1="558.1" x2="43.6" y2="628.8" stroke="#111" stroke-width="1"/>
<line x1="43.1" y1="628.3" x2="113" y2="628.3" stroke="#111" stroke-width="1"/>
<line x1="41.8" y1="563.32" x2="43.6" y2="563.32" stroke="#111" stroke-width="0.6"/>
<text x="39.85" y="566.02" font-size="7.5" text-anchor="end" fill="#222">4</text>
<line x1="41.8" y1="584.16" x2="43.6" y2="584.16" stroke="#111" stroke-width="0.6"/>
<text x="39.85" y="586.86" font-size="7.5" text-anchor="end" fill="#222">2</text>
<line x1="41.8" y1="605" x2="43.6" y2="605" stroke="#111" stroke-width="0.6"/>
<text x="39.85" y="607.7" font-size="7.5" text-anchor="end" fill="#222">0</text>
<line x1="41.8" y1="625.84" x2="43.6" y2="625.84" stroke="#111" stroke-width="0.6"/>
<text x="39.85" y="628.54" font-size="7.5" text-anchor="end" fill="#222">−2</text>
<line x1="57.7" y1="628.3" x2="57.7" y2="630.1" stroke="#111" stroke-width="0.6"/>
<text x="55.45" y="637.62" font-size="7.5" text-anchor="middle" fill="#222">−2</text>
<line x1="75.1" y1="628.3" x2="75.1" y2="630.1" stroke="#111" stroke-width="0.6"/>
<text x="75.1" y="637.62" font-size="7.5" text-anchor="middle" fill="#222">0</text>
<line x1="92.5" y1="628.3" x2="92.5" y2="630.1" stroke="#111" stroke-width="0.6"/>
<text x="92.5" y="637.62" font-size="7.5" text-anchor="middle" fill="#222">2</text>
<line x1="109.9" y1="628.3" x2="109.9" y2="630.1" stroke="#111" stroke-width="0.6"/>
<text x="109.9" y="637.62" font-size="7.5" text-anchor="middle" fill="#222">4</text>
<text x="75" y="549" font-size="8.2" text-anchor="middle" font-style="italic" fill="#222">SCNN1G</text>
<text x="81.2" y="645.7" font-size="7.1" text-anchor="middle" fill="#222">tSNE1</text>
<text x="31.4" y="593.54" font-size="7.1" text-anchor="middle" fill="#222" transform="rotate(-90 31.4 593.54)">tSNE2</text>
<circle cx="167.6" cy="566.15" r="1.5" fill="#c4c4c4"/>
<circle cx="167.06" cy="568.29" r="1.5" fill="#c4c4c4"/>
<circle cx="167.76" cy="566.44" r="1.5" fill="#c4c4c4"/>
<circle cx="167.34" cy="564.34" r="1.5" fill="#c4c4c4"/>
<circle cx="168.99" cy="567.05" r="1.5" fill="#c4c4c4"/>
<circle cx="166.75" cy="563.43" r="1.5" fill="#c4c4c4"/>
<circle cx="168.14" cy="563.39" r="1.5" fill="#c4c4c4"/>
<circle cx="164.53" cy="567.34" r="1.5" fill="#c4c4c4"/>
<circle cx="170.56" cy="568.51" r="1.5" fill="#c4c4c4"/>
<circle cx="167.98" cy="567.16" r="1.5" fill="#c4c4c4"/>
<circle cx="165.68" cy="564.1" r="1.5" fill="#c4c4c4"/>
<circle cx="164.93" cy="566.55" r="1.5" fill="#c4c4c4"/>
<circle cx="166.37" cy="564.39" r="1.5" fill="#c4c4c4"/>
<circle cx="167.23" cy="562.44" r="1.5" fill="#c4c4c4"/>
<circle cx="169" cy="566.08" r="1.5" fill="#c4c4c4"/>
<circle cx="168.05" cy="566.5" r="1.5" fill="#c4c4c4"/>
<circle cx="168.15" cy="566.4" r="1.5" fill="#c4c4c4"/>
<circle cx="166.17" cy="566.17" r="1.5" fill="#c4c4c4"/>
<circle cx="170.8" cy="568.57" r="1.5" fill="#c4c4c4"/>
<circle cx="168.66" cy="567.96" r="1.5" fill="#c4c4c4"/>
<circle cx="166.12" cy="565.32" r="1.5" fill="#c4c4c4"/>
<circle cx="165.49" cy="565.14" r="1.5" fill="#c4c4c4"/>
<circle cx="166.67" cy="567.65" r="1.5" fill="#c4c4c4"/>
<circle cx="166.55" cy="567.99" r="1.5" fill="#c4c4c4"/>
<circle cx="169.71" cy="568.42" r="1.5" fill="#c4c4c4"/>
<circle cx="167" cy="561.32" r="1.5" fill="#c4c4c4"/>
<circle cx="167.09" cy="568.24" r="1.5" fill="#c4c4c4"/>
<circle cx="166.58" cy="568.51" r="1.5" fill="#c4c4c4"/>
<circle cx="167.63" cy="563.16" r="1.5" fill="#c4c4c4"/>
<circle cx="165.84" cy="567.71" r="1.5" fill="#c4c4c4"/>
<circle cx="163.67" cy="574.26" r="1.5" fill="#c4c4c4"/>
<circle cx="163.84" cy="575.8" r="1.5" fill="#c4c4c4"/>
<circle cx="164.36" cy="584.89" r="1.5" fill="#c4c4c4"/>
<circle cx="165.14" cy="583.85" r="1.5" fill="#c4c4c4"/>
<circle cx="165.66" cy="587.16" r="1.5" fill="#c4c4c4"/>
<circle cx="165.57" cy="590.46" r="1.5" fill="#c4c4c4"/>
<circle cx="168.5" cy="591.9" r="1.5" fill="#c4c4c4"/>
<circle cx="151.04" cy="621.47" r="1.5" fill="#c4c4c4"/>
<circle cx="153.49" cy="614.81" r="1.5" fill="#c4c4c4"/>
<circle cx="156.77" cy="609.86" r="1.5" fill="#c4c4c4"/>
<circle cx="165.48" cy="600.68" r="1.5" fill="#c4c4c4"/>
<circle cx="178.08" cy="597.27" r="1.5" fill="#c4c4c4"/>
<circle cx="182.57" cy="602.22" r="1.5" fill="#c4c4c4"/>
<circle cx="189.73" cy="604.49" r="1.5" fill="#c4c4c4"/>
<circle cx="192.06" cy="606.35" r="1.5" fill="#c4c4c4"/>
<circle cx="194.05" cy="606.97" r="1.5" fill="#c4c4c4"/>
<circle cx="196.03" cy="607.49" r="1.5" fill="#c4c4c4"/>
<circle cx="199.57" cy="608" r="1.5" fill="#c4c4c4"/>
<circle cx="202.59" cy="614.61" r="1.5" fill="#c4c4c4"/>
<circle cx="208.03" cy="613.71" r="1.5" fill="#c4c4c4"/>
<circle cx="206.93" cy="612.77" r="1.5" fill="#c4c4c4"/>
<circle cx="207.34" cy="611.67" r="1.5" fill="#c4c4c4"/>
<circle cx="207.19" cy="611.42" r="1.5" fill="#c4c4c4"/>
<circle cx="206.72" cy="613.35" r="1.5" fill="#c4c4c4"/>
<circle cx="207.81" cy="611.78" r="1.5" fill="#c4c4c4"/>
<circle cx="207.76" cy="612.71" r="1.5" fill="#c4c4c4"/>
<circle cx="206.78" cy="613.4" r="1.5" fill="#c4c4c4"/>
<circle cx="207.71" cy="613.23" r="1.5" fill="#c4c4c4"/>
<circle cx="207.86" cy="612.89" r="1.5" fill="#c4c4c4"/>
<circle cx="206.99" cy="612.86" r="1.5" fill="#c4c4c4"/>
<circle cx="207.59" cy="612.25" r="1.5" fill="#c4c4c4"/>
<circle cx="206.88" cy="613.15" r="1.5" fill="#c4c4c4"/>
<circle cx="206.19" cy="611.63" r="1.5" fill="#c4c4c4"/>
<circle cx="208.38" cy="613.1" r="1.5" fill="#c4c4c4"/>
<circle cx="206.88" cy="613.98" r="1.5" fill="#c4c4c4"/>
<circle cx="207.38" cy="612.79" r="1.5" fill="#c4c4c4"/>
<circle cx="208.95" cy="612.75" r="1.5" fill="#c4c4c4"/>
<circle cx="206.65" cy="614.97" r="1.5" fill="#c4c4c4"/>
<circle cx="208.35" cy="612.8" r="1.5" fill="#c4c4c4"/>
<circle cx="163.24" cy="571.37" r="1.5" fill="#ea2418"/>
<circle cx="149.17" cy="622.95" r="1.5" fill="#e83623"/>
<circle cx="150.15" cy="623.91" r="1.5" fill="#e7412a"/>
<circle cx="148.93" cy="622.91" r="1.5" fill="#e6442c"/>
<circle cx="148.63" cy="623.25" r="1.5" fill="#e92b1c"/>
<circle cx="148.51" cy="624.16" r="1.5" fill="#e83523"/>
<circle cx="147.17" cy="623.93" r="1.5" fill="#e4553a"/>
<circle cx="148.97" cy="621.77" r="1.5" fill="#e83926"/>
<circle cx="149.41" cy="622.29" r="1.5" fill="#e83523"/>
<circle cx="149.18" cy="622.69" r="1.5" fill="#e6462e"/>
<circle cx="148.52" cy="622.61" r="1.5" fill="#e83422"/>
<circle cx="150.3" cy="623.85" r="1.5" fill="#e73a26"/>
<circle cx="147.53" cy="621.26" r="1.5" fill="#e83221"/>
<circle cx="148.58" cy="622.38" r="1.5" fill="#ea2418"/>
<circle cx="149.29" cy="624.77" r="1.5" fill="#e83825"/>
<circle cx="148.51" cy="622.63" r="1.5" fill="#e54f33"/>
<circle cx="148.45" cy="624.49" r="1.5" fill="#e83422"/>
<circle cx="148.18" cy="623.06" r="1.5" fill="#e73e29"/>
<circle cx="149.56" cy="622.68" r="1.5" fill="#e64a30"/>
<circle cx="148.38" cy="621.94" r="1.5" fill="#e92b1c"/>
<circle cx="147.46" cy="622.58" r="1.5" fill="#e6432c"/>
<circle cx="149.56" cy="623.81" r="1.5" fill="#e54c32"/>
<circle cx="146.3" cy="624.51" r="1.5" fill="#ea2418"/>
<circle cx="148.58" cy="622.88" r="1.5" fill="#e83825"/>
<circle cx="150.05" cy="624.62" r="1.5" fill="#e73f29"/>
<circle cx="148.31" cy="622.75" r="1.5" fill="#e6462e"/>
<circle cx="148.13" cy="626.17" r="1.5" fill="#ea2418"/>
<circle cx="149.21" cy="620.86" r="1.5" fill="#e7402a"/>
<circle cx="149.17" cy="618.12" r="1.5" fill="#e83926"/>
<circle cx="150.99" cy="617.08" r="1.5" fill="#e3583d"/>
<circle cx="161.43" cy="605.01" r="1.5" fill="#e6452d"/>
<circle cx="174.03" cy="598.51" r="1.5" fill="#e54d32"/>
<circle cx="209.19" cy="612.45" r="1.5" fill="#e0664e"/>
<circle cx="205.84" cy="613.54" r="1.5" fill="#e3583d"/>
<line x1="142.4" y1="558.3" x2="142.4" y2="628.8" stroke="#111" stroke-width="1"/>
<line x1="141.9" y1="628.3" x2="211.5" y2="628.3" stroke="#111" stroke-width="1"/>
<line x1="140.6" y1="563.42" x2="142.4" y2="563.42" stroke="#111" stroke-width="0.6"/>
<text x="138.65" y="566.12" font-size="7.5" text-anchor="end" fill="#222">4</text>
<line x1="140.6" y1="584.06" x2="142.4" y2="584.06" stroke="#111" stroke-width="0.6"/>
<text x="138.65" y="586.76" font-size="7.5" text-anchor="end" fill="#222">2</text>
<line x1="140.6" y1="604.7" x2="142.4" y2="604.7" stroke="#111" stroke-width="0.6"/>
<text x="138.65" y="607.4" font-size="7.5" text-anchor="end" fill="#222">0</text>
<line x1="140.6" y1="625.34" x2="142.4" y2="625.34" stroke="#111" stroke-width="0.6"/>
<text x="138.65" y="628.04" font-size="7.5" text-anchor="end" fill="#222">−2</text>
<line x1="156.94" y1="628.3" x2="156.94" y2="630.1" stroke="#111" stroke-width="0.6"/>
<text x="154.69" y="637.62" font-size="7.5" text-anchor="middle" fill="#222">−2</text>
<line x1="174.2" y1="628.3" x2="174.2" y2="630.1" stroke="#111" stroke-width="0.6"/>
<text x="174.2" y="637.62" font-size="7.5" text-anchor="middle" fill="#222">0</text>
<line x1="191.46" y1="628.3" x2="191.46" y2="630.1" stroke="#111" stroke-width="0.6"/>
<text x="191.46" y="637.62" font-size="7.5" text-anchor="middle" fill="#222">2</text>
<line x1="208.72" y1="628.3" x2="208.72" y2="630.1" stroke="#111" stroke-width="0.6"/>
<text x="208.72" y="637.62" font-size="7.5" text-anchor="middle" fill="#222">4</text>
<text x="169.3" y="549.1" font-size="8.2" text-anchor="middle" font-style="italic" fill="#222">L1CAM</text>
<text x="179.6" y="646.6" font-size="7.1" text-anchor="middle" fill="#222">tSNE1</text>
<text x="130.2" y="593.35" font-size="7.1" text-anchor="middle" fill="#222" transform="rotate(-90 130.2 593.35)">tSNE2</text>
<text x="19.6" y="476" font-size="9.6" text-anchor="middle" fill="#222" transform="rotate(-90 19.6 476)">Component 2</text>
<text x="168.3" y="662.4" font-size="9.3" text-anchor="middle" fill="#222">Component 1</text>
<defs><linearGradient id="rg" x1="0" y1="1" x2="0" y2="0"><stop offset="0" stop-color="#c2c2c2"/><stop offset="1" stop-color="#e8271d"/></linearGradient></defs>
<rect x="266.1" y="557" width="13.9" height="65.7" fill="url(#rg)"/>
<line x1="276.5" y1="568.8" x2="280" y2="568.8" stroke="#fff" stroke-width="0.9"/>
<text x="284.9" y="571.4" font-size="7.4" fill="#222">3</text>
<line x1="276.5" y1="585.9" x2="280" y2="585.9" stroke="#fff" stroke-width="0.9"/>
<text x="284.9" y="588.5" font-size="7.4" fill="#222">2</text>
<line x1="276.5" y1="602.5" x2="280" y2="602.5" stroke="#fff" stroke-width="0.9"/>
<text x="284.9" y="605.1" font-size="7.4" fill="#222">1</text>
<line x1="276.5" y1="619.4" x2="280" y2="619.4" stroke="#fff" stroke-width="0.9"/>
<text x="284.9" y="622" font-size="7.4" fill="#222">0</text>
<text x="262.5" y="596.9" font-size="7.15" text-anchor="middle" fill="#222" transform="rotate(-90 262.5 596.9)">Relative expression level</text>
<text x="368.6" y="355.7" font-size="14" font-weight="bold">F</text>
<text x="542" y="356.9" font-size="11" text-anchor="middle" font-weight="bold">Expression of fibrosis and EMT related genes in IgAN</text>
<circle cx="463" cy="373.48" r="1.35" fill="#c4c4c4"/>
<circle cx="462.57" cy="375.2" r="1.35" fill="#c4c4c4"/>
<circle cx="463.13" cy="373.72" r="1.35" fill="#c4c4c4"/>
<circle cx="462.79" cy="372.04" r="1.35" fill="#c4c4c4"/>
<circle cx="462.32" cy="371.31" r="1.35" fill="#c4c4c4"/>
<circle cx="463.44" cy="371.27" r="1.35" fill="#c4c4c4"/>
<circle cx="460.54" cy="374.43" r="1.35" fill="#c4c4c4"/>
<circle cx="465.38" cy="375.37" r="1.35" fill="#c4c4c4"/>
<circle cx="463.3" cy="374.29" r="1.35" fill="#c4c4c4"/>
<circle cx="460.85" cy="373.8" r="1.35" fill="#c4c4c4"/>
<circle cx="462.02" cy="372.08" r="1.35" fill="#c4c4c4"/>
<circle cx="464.13" cy="373.43" r="1.35" fill="#c4c4c4"/>
<circle cx="463.36" cy="373.76" r="1.35" fill="#c4c4c4"/>
<circle cx="463.44" cy="373.68" r="1.35" fill="#c4c4c4"/>
<circle cx="465.57" cy="375.42" r="1.35" fill="#c4c4c4"/>
<circle cx="463.85" cy="374.93" r="1.35" fill="#c4c4c4"/>
<circle cx="461.81" cy="372.82" r="1.35" fill="#c4c4c4"/>
<circle cx="461.31" cy="372.68" r="1.35" fill="#c4c4c4"/>
<circle cx="462.25" cy="374.68" r="1.35" fill="#c4c4c4"/>
<circle cx="462.16" cy="374.95" r="1.35" fill="#c4c4c4"/>
<circle cx="464.69" cy="375.3" r="1.35" fill="#c4c4c4"/>
<circle cx="462.52" cy="369.62" r="1.35" fill="#c4c4c4"/>
<circle cx="462.18" cy="375.37" r="1.35" fill="#c4c4c4"/>
<circle cx="463.02" cy="371.09" r="1.35" fill="#c4c4c4"/>
<circle cx="461.58" cy="374.73" r="1.35" fill="#c4c4c4"/>
<circle cx="459.5" cy="377.65" r="1.35" fill="#c4c4c4"/>
<circle cx="459.98" cy="381.2" r="1.35" fill="#c4c4c4"/>
<circle cx="461.02" cy="387.63" r="1.35" fill="#c4c4c4"/>
<circle cx="461.37" cy="392.92" r="1.35" fill="#c4c4c4"/>
<circle cx="447.37" cy="421.47" r="1.35" fill="#c4c4c4"/>
<circle cx="468.16" cy="399.35" r="1.35" fill="#c4c4c4"/>
<circle cx="475.02" cy="402.32" r="1.35" fill="#c4c4c4"/>
<circle cx="482.65" cy="405.62" r="1.35" fill="#c4c4c4"/>
<circle cx="484.24" cy="406.12" r="1.35" fill="#c4c4c4"/>
<circle cx="485.83" cy="406.53" r="1.35" fill="#c4c4c4"/>
<circle cx="488.67" cy="406.94" r="1.35" fill="#c4c4c4"/>
<circle cx="495.29" cy="409.96" r="1.35" fill="#c4c4c4"/>
<circle cx="495.21" cy="411.12" r="1.35" fill="#c4c4c4"/>
<circle cx="494.54" cy="411.72" r="1.35" fill="#c4c4c4"/>
<circle cx="494.95" cy="410.76" r="1.35" fill="#c4c4c4"/>
<circle cx="464.12" cy="374.2" r="1.35" fill="#e35a40"/>
<circle cx="461.46" cy="371.84" r="1.35" fill="#dc7660"/>
<circle cx="462.7" cy="370.52" r="1.35" fill="#e54f33"/>
<circle cx="461.85" cy="373.5" r="1.35" fill="#d98471"/>
<circle cx="462.59" cy="375.15" r="1.35" fill="#dd725c"/>
<circle cx="459.85" cy="379.96" r="1.35" fill="#e83825"/>
<circle cx="460.4" cy="388.46" r="1.35" fill="#e83624"/>
<circle cx="461.44" cy="390.28" r="1.35" fill="#e7422b"/>
<circle cx="463.73" cy="394.07" r="1.35" fill="#e55237"/>
<circle cx="448.2" cy="418.89" r="1.35" fill="#e7422b"/>
<circle cx="448.99" cy="419.66" r="1.35" fill="#e83322"/>
<circle cx="448.01" cy="418.85" r="1.35" fill="#e64930"/>
<circle cx="447.76" cy="419.13" r="1.35" fill="#e83321"/>
<circle cx="447.67" cy="419.86" r="1.35" fill="#e92b1d"/>
<circle cx="446.6" cy="419.67" r="1.35" fill="#e92c1d"/>
<circle cx="448.04" cy="417.94" r="1.35" fill="#ea2418"/>
<circle cx="448.39" cy="418.36" r="1.35" fill="#e73d28"/>
<circle cx="448.21" cy="418.68" r="1.35" fill="#e83523"/>
<circle cx="447.68" cy="418.61" r="1.35" fill="#e73b26"/>
<circle cx="449.11" cy="419.61" r="1.35" fill="#ea2418"/>
<circle cx="446.88" cy="417.54" r="1.35" fill="#e54f33"/>
<circle cx="447.73" cy="418.43" r="1.35" fill="#e83523"/>
<circle cx="448.3" cy="420.35" r="1.35" fill="#e83422"/>
<circle cx="449.7" cy="417.7" r="1.35" fill="#ea2418"/>
<circle cx="447.67" cy="418.63" r="1.35" fill="#e73b26"/>
<circle cx="447.62" cy="420.12" r="1.35" fill="#e73b27"/>
<circle cx="447.41" cy="418.98" r="1.35" fill="#e7412a"/>
<circle cx="448.52" cy="418.67" r="1.35" fill="#ea2418"/>
<circle cx="447.56" cy="418.09" r="1.35" fill="#e64b31"/>
<circle cx="446.82" cy="418.6" r="1.35" fill="#e9301f"/>
<circle cx="448.51" cy="419.58" r="1.35" fill="#e92a1c"/>
<circle cx="445.9" cy="420.14" r="1.35" fill="#e45337"/>
<circle cx="447.72" cy="418.84" r="1.35" fill="#e92e1e"/>
<circle cx="448.9" cy="420.23" r="1.35" fill="#ea2418"/>
<circle cx="447.51" cy="418.73" r="1.35" fill="#e92e1e"/>
<circle cx="448.24" cy="417.22" r="1.35" fill="#e6452d"/>
<circle cx="448.2" cy="415.03" r="1.35" fill="#e6442c"/>
<circle cx="449.66" cy="414.2" r="1.35" fill="#e83825"/>
<circle cx="451.67" cy="412.38" r="1.35" fill="#e92e1f"/>
<circle cx="454.3" cy="408.43" r="1.35" fill="#e83322"/>
<circle cx="458.04" cy="404.55" r="1.35" fill="#e55135"/>
<circle cx="461.3" cy="401.08" r="1.35" fill="#e7402a"/>
<circle cx="471.42" cy="398.36" r="1.35" fill="#e54d32"/>
<circle cx="480.77" cy="404.13" r="1.35" fill="#e73d28"/>
<circle cx="491.1" cy="412.22" r="1.35" fill="#e25f45"/>
<circle cx="495.47" cy="411.51" r="1.35" fill="#de6d56"/>
<circle cx="494.58" cy="410.75" r="1.35" fill="#e25e44"/>
<circle cx="496.39" cy="410.49" r="1.35" fill="#e54f33"/>
<circle cx="494.91" cy="409.87" r="1.35" fill="#e54e33"/>
<circle cx="494.79" cy="409.67" r="1.35" fill="#e16047"/>
<circle cx="494.41" cy="411.21" r="1.35" fill="#e92e1e"/>
<circle cx="495.25" cy="410.7" r="1.35" fill="#e45337"/>
<circle cx="493.71" cy="411.37" r="1.35" fill="#e64930"/>
<circle cx="494.46" cy="411.25" r="1.35" fill="#dd735d"/>
<circle cx="495.33" cy="410.85" r="1.35" fill="#dd755f"/>
<circle cx="494.63" cy="410.82" r="1.35" fill="#e0644b"/>
<circle cx="495.11" cy="410.33" r="1.35" fill="#e0644b"/>
<circle cx="494.54" cy="411.05" r="1.35" fill="#e0654d"/>
<circle cx="493.99" cy="409.84" r="1.35" fill="#df6a52"/>
<circle cx="495.75" cy="411.02" r="1.35" fill="#e6462e"/>
<circle cx="496.2" cy="410.74" r="1.35" fill="#e7422b"/>
<circle cx="494.36" cy="412.51" r="1.35" fill="#e54e33"/>
<circle cx="495.72" cy="410.78" r="1.35" fill="#e83926"/>
<line x1="443.5" y1="368.1" x2="443.5" y2="424.9" stroke="#111" stroke-width="1"/>
<line x1="443" y1="424.4" x2="499.5" y2="424.4" stroke="#111" stroke-width="1"/>
<line x1="441.7" y1="371.3" x2="443.5" y2="371.3" stroke="#111" stroke-width="0.6"/>
<text x="440.55" y="373.42" font-size="5.9" text-anchor="end" fill="#222">4</text>
<line x1="441.7" y1="387.8" x2="443.5" y2="387.8" stroke="#111" stroke-width="0.6"/>
<text x="440.55" y="389.92" font-size="5.9" text-anchor="end" fill="#222">2</text>
<line x1="441.7" y1="404.3" x2="443.5" y2="404.3" stroke="#111" stroke-width="0.6"/>
<text x="440.55" y="406.42" font-size="5.9" text-anchor="end" fill="#222">0</text>
<line x1="441.7" y1="420.8" x2="443.5" y2="420.8" stroke="#111" stroke-width="0.6"/>
<text x="440.55" y="422.92" font-size="5.9" text-anchor="end" fill="#222">−2</text>
<line x1="454.44" y1="424.4" x2="454.44" y2="426.2" stroke="#111" stroke-width="0.6"/>
<text x="452.67" y="432.2" font-size="5.9" text-anchor="middle" fill="#222">−2</text>
<line x1="468.3" y1="424.4" x2="468.3" y2="426.2" stroke="#111" stroke-width="0.6"/>
<text x="468.3" y="432.2" font-size="5.9" text-anchor="middle" fill="#222">0</text>
<line x1="482.16" y1="424.4" x2="482.16" y2="426.2" stroke="#111" stroke-width="0.6"/>
<text x="482.16" y="432.2" font-size="5.9" text-anchor="middle" fill="#222">2</text>
<line x1="496.02" y1="424.4" x2="496.02" y2="426.2" stroke="#111" stroke-width="0.6"/>
<text x="496.02" y="432.2" font-size="5.9" text-anchor="middle" fill="#222">4</text>
<text x="383.8" y="401.2" font-size="8.2" font-style="italic" fill="#222">S100A4</text>
<text x="473.4" y="437" font-size="5.8" text-anchor="middle" fill="#222">tSNE1</text>
<text x="435" y="394.4" font-size="5.8" text-anchor="middle" fill="#222" transform="rotate(-90 435 394.4)">tSNE2</text>
<circle cx="463.5" cy="446.18" r="1.35" fill="#c4c4c4"/>
<circle cx="463.07" cy="447.88" r="1.35" fill="#c4c4c4"/>
<circle cx="463.63" cy="446.41" r="1.35" fill="#c4c4c4"/>
<circle cx="464.62" cy="446.89" r="1.35" fill="#c4c4c4"/>
<circle cx="462.82" cy="444.03" r="1.35" fill="#c4c4c4"/>
<circle cx="463.94" cy="443.99" r="1.35" fill="#c4c4c4"/>
<circle cx="461.04" cy="447.12" r="1.35" fill="#c4c4c4"/>
<circle cx="465.88" cy="448.05" r="1.35" fill="#c4c4c4"/>
<circle cx="463.8" cy="446.98" r="1.35" fill="#c4c4c4"/>
<circle cx="461.96" cy="444.56" r="1.35" fill="#c4c4c4"/>
<circle cx="461.35" cy="446.5" r="1.35" fill="#c4c4c4"/>
<circle cx="462.52" cy="444.79" r="1.35" fill="#c4c4c4"/>
<circle cx="463.2" cy="443.24" r="1.35" fill="#c4c4c4"/>
<circle cx="464.63" cy="446.13" r="1.35" fill="#c4c4c4"/>
<circle cx="463.86" cy="446.46" r="1.35" fill="#c4c4c4"/>
<circle cx="463.94" cy="446.38" r="1.35" fill="#c4c4c4"/>
<circle cx="462.35" cy="446.2" r="1.35" fill="#c4c4c4"/>
<circle cx="466.07" cy="448.1" r="1.35" fill="#c4c4c4"/>
<circle cx="464.35" cy="447.61" r="1.35" fill="#c4c4c4"/>
<circle cx="462.31" cy="445.53" r="1.35" fill="#c4c4c4"/>
<circle cx="461.81" cy="445.39" r="1.35" fill="#c4c4c4"/>
<circle cx="462.75" cy="447.37" r="1.35" fill="#c4c4c4"/>
<circle cx="462.66" cy="447.63" r="1.35" fill="#c4c4c4"/>
<circle cx="465.19" cy="447.98" r="1.35" fill="#c4c4c4"/>
<circle cx="463.02" cy="442.36" r="1.35" fill="#c4c4c4"/>
<circle cx="463.09" cy="447.83" r="1.35" fill="#c4c4c4"/>
<circle cx="462.68" cy="448.05" r="1.35" fill="#c4c4c4"/>
<circle cx="463.52" cy="443.81" r="1.35" fill="#c4c4c4"/>
<circle cx="462.08" cy="447.41" r="1.35" fill="#c4c4c4"/>
<circle cx="460" cy="450.31" r="1.35" fill="#c4c4c4"/>
<circle cx="460.48" cy="453.82" r="1.35" fill="#c4c4c4"/>
<circle cx="461.87" cy="465.43" r="1.35" fill="#c4c4c4"/>
<circle cx="447.87" cy="493.7" r="1.35" fill="#c4c4c4"/>
<circle cx="452.17" cy="484.71" r="1.35" fill="#c4c4c4"/>
<circle cx="471.92" cy="470.82" r="1.35" fill="#c4c4c4"/>
<circle cx="475.52" cy="474.74" r="1.35" fill="#c4c4c4"/>
<circle cx="483.15" cy="478.01" r="1.35" fill="#c4c4c4"/>
<circle cx="489.17" cy="479.31" r="1.35" fill="#c4c4c4"/>
<circle cx="496.25" cy="483.35" r="1.35" fill="#c4c4c4"/>
<circle cx="496.7" cy="483.07" r="1.35" fill="#c4c4c4"/>
<circle cx="496.22" cy="483.11" r="1.35" fill="#c4c4c4"/>
<circle cx="463.29" cy="444.75" r="1.35" fill="#e3593f"/>
<circle cx="460.35" cy="452.6" r="1.35" fill="#ea2418"/>
<circle cx="460.9" cy="461.01" r="1.35" fill="#ea2418"/>
<circle cx="461.52" cy="460.2" r="1.35" fill="#e92b1c"/>
<circle cx="461.94" cy="462.81" r="1.35" fill="#e92b1c"/>
<circle cx="464.23" cy="466.57" r="1.35" fill="#e73e28"/>
<circle cx="448.7" cy="491.15" r="1.35" fill="#e55034"/>
<circle cx="449.49" cy="491.91" r="1.35" fill="#ea2418"/>
<circle cx="448.51" cy="491.11" r="1.35" fill="#e93120"/>
<circle cx="448.26" cy="491.38" r="1.35" fill="#e73b26"/>
<circle cx="448.17" cy="492.11" r="1.35" fill="#ea2418"/>
<circle cx="447.1" cy="491.93" r="1.35" fill="#e55136"/>
<circle cx="448.54" cy="490.21" r="1.35" fill="#e4563b"/>
<circle cx="448.89" cy="490.62" r="1.35" fill="#e92a1c"/>
<circle cx="448.71" cy="490.94" r="1.35" fill="#e93120"/>
<circle cx="448.18" cy="490.88" r="1.35" fill="#e83322"/>
<circle cx="449.61" cy="491.86" r="1.35" fill="#e54e33"/>
<circle cx="447.38" cy="489.81" r="1.35" fill="#e73c27"/>
<circle cx="448.23" cy="490.7" r="1.35" fill="#e7422b"/>
<circle cx="448.8" cy="492.59" r="1.35" fill="#de6d56"/>
<circle cx="450.2" cy="489.97" r="1.35" fill="#e73e29"/>
<circle cx="448.17" cy="490.89" r="1.35" fill="#e54f33"/>
<circle cx="448.12" cy="492.36" r="1.35" fill="#e4563c"/>
<circle cx="447.91" cy="491.23" r="1.35" fill="#ea2418"/>
<circle cx="449.02" cy="490.93" r="1.35" fill="#e73a26"/>
<circle cx="448.06" cy="490.35" r="1.35" fill="#e73c27"/>
<circle cx="447.32" cy="490.86" r="1.35" fill="#e7412a"/>
<circle cx="449.01" cy="491.83" r="1.35" fill="#e73f29"/>
<circle cx="446.4" cy="492.38" r="1.35" fill="#e6482f"/>
<circle cx="448.22" cy="491.1" r="1.35" fill="#ea261a"/>
<circle cx="449.4" cy="492.47" r="1.35" fill="#e7422b"/>
<circle cx="448.01" cy="490.99" r="1.35" fill="#e92c1d"/>
<circle cx="448.74" cy="489.49" r="1.35" fill="#e6432c"/>
<circle cx="448.7" cy="487.32" r="1.35" fill="#e4563b"/>
<circle cx="450.16" cy="486.5" r="1.35" fill="#e92d1e"/>
<circle cx="454.8" cy="480.78" r="1.35" fill="#ea2418"/>
<circle cx="458.54" cy="476.95" r="1.35" fill="#e73c27"/>
<circle cx="461.8" cy="473.51" r="1.35" fill="#ea281b"/>
<circle cx="468.66" cy="471.8" r="1.35" fill="#e7422b"/>
<circle cx="481.27" cy="476.54" r="1.35" fill="#e16047"/>
<circle cx="484.74" cy="478.5" r="1.35" fill="#e54c32"/>
<circle cx="486.33" cy="478.91" r="1.35" fill="#e6452d"/>
<circle cx="491.6" cy="484.54" r="1.35" fill="#e16148"/>
<circle cx="495.97" cy="483.84" r="1.35" fill="#e54e33"/>
<circle cx="495.08" cy="483.09" r="1.35" fill="#e16046"/>
<circle cx="496.89" cy="482.83" r="1.35" fill="#e64a30"/>
<circle cx="495.41" cy="482.22" r="1.35" fill="#d98370"/>
<circle cx="495.29" cy="482.02" r="1.35" fill="#e4563b"/>
<circle cx="494.91" cy="483.55" r="1.35" fill="#db7c67"/>
<circle cx="495.79" cy="482.31" r="1.35" fill="#e6452d"/>
<circle cx="495.75" cy="483.04" r="1.35" fill="#e45539"/>
<circle cx="494.21" cy="483.7" r="1.35" fill="#e4553a"/>
<circle cx="494.96" cy="483.58" r="1.35" fill="#e16249"/>
<circle cx="495.71" cy="483.46" r="1.35" fill="#e0654d"/>
<circle cx="495.83" cy="483.18" r="1.35" fill="#de6e57"/>
<circle cx="495.13" cy="483.16" r="1.35" fill="#de6e56"/>
<circle cx="495.61" cy="482.68" r="1.35" fill="#e0654d"/>
<circle cx="495.04" cy="483.39" r="1.35" fill="#e45338"/>
<circle cx="494.49" cy="482.19" r="1.35" fill="#e16249"/>
<circle cx="495.04" cy="484.04" r="1.35" fill="#d9836f"/>
<circle cx="495.45" cy="483.1" r="1.35" fill="#de6d56"/>
<circle cx="494.86" cy="484.83" r="1.35" fill="#e6492f"/>
<line x1="443.6" y1="440.7" x2="443.6" y2="496.4" stroke="#111" stroke-width="1"/>
<line x1="443.1" y1="495.9" x2="499.5" y2="495.9" stroke="#111" stroke-width="1"/>
<line x1="441.8" y1="444.02" x2="443.6" y2="444.02" stroke="#111" stroke-width="0.6"/>
<text x="440.65" y="446.14" font-size="5.9" text-anchor="end" fill="#222">4</text>
<line x1="441.8" y1="460.36" x2="443.6" y2="460.36" stroke="#111" stroke-width="0.6"/>
<text x="440.65" y="462.48" font-size="5.9" text-anchor="end" fill="#222">2</text>
<line x1="441.8" y1="476.7" x2="443.6" y2="476.7" stroke="#111" stroke-width="0.6"/>
<text x="440.65" y="478.82" font-size="5.9" text-anchor="end" fill="#222">0</text>
<line x1="441.8" y1="493.04" x2="443.6" y2="493.04" stroke="#111" stroke-width="0.6"/>
<text x="440.65" y="495.16" font-size="5.9" text-anchor="end" fill="#222">−2</text>
<line x1="454.94" y1="495.9" x2="454.94" y2="497.7" stroke="#111" stroke-width="0.6"/>
<text x="453.17" y="503.7" font-size="5.9" text-anchor="middle" fill="#222">−2</text>
<line x1="468.8" y1="495.9" x2="468.8" y2="497.7" stroke="#111" stroke-width="0.6"/>
<text x="468.8" y="503.7" font-size="5.9" text-anchor="middle" fill="#222">0</text>
<line x1="482.66" y1="495.9" x2="482.66" y2="497.7" stroke="#111" stroke-width="0.6"/>
<text x="482.66" y="503.7" font-size="5.9" text-anchor="middle" fill="#222">2</text>
<line x1="496.52" y1="495.9" x2="496.52" y2="497.7" stroke="#111" stroke-width="0.6"/>
<text x="496.52" y="503.7" font-size="5.9" text-anchor="middle" fill="#222">4</text>
<text x="383.8" y="473" font-size="8.2" font-style="italic" fill="#222">VIM</text>
<text x="473.4" y="509" font-size="5.8" text-anchor="middle" fill="#222">tSNE1</text>
<text x="435" y="466.9" font-size="5.8" text-anchor="middle" fill="#222" transform="rotate(-90 435 466.9)">tSNE2</text>
<circle cx="463.98" cy="516.89" r="1.35" fill="#c4c4c4"/>
<circle cx="463.55" cy="518.62" r="1.35" fill="#c4c4c4"/>
<circle cx="464.11" cy="517.13" r="1.35" fill="#c4c4c4"/>
<circle cx="463.77" cy="515.44" r="1.35" fill="#c4c4c4"/>
<circle cx="465.11" cy="517.62" r="1.35" fill="#c4c4c4"/>
<circle cx="463.3" cy="514.71" r="1.35" fill="#c4c4c4"/>
<circle cx="464.42" cy="514.67" r="1.35" fill="#c4c4c4"/>
<circle cx="461.51" cy="517.85" r="1.35" fill="#c4c4c4"/>
<circle cx="466.37" cy="518.8" r="1.35" fill="#c4c4c4"/>
<circle cx="464.29" cy="517.71" r="1.35" fill="#c4c4c4"/>
<circle cx="462.44" cy="515.25" r="1.35" fill="#c4c4c4"/>
<circle cx="461.83" cy="517.22" r="1.35" fill="#c4c4c4"/>
<circle cx="463" cy="515.48" r="1.35" fill="#c4c4c4"/>
<circle cx="463.68" cy="513.91" r="1.35" fill="#c4c4c4"/>
<circle cx="465.12" cy="516.84" r="1.35" fill="#c4c4c4"/>
<circle cx="464.34" cy="517.18" r="1.35" fill="#c4c4c4"/>
<circle cx="464.43" cy="517.1" r="1.35" fill="#c4c4c4"/>
<circle cx="462.84" cy="516.92" r="1.35" fill="#c4c4c4"/>
<circle cx="466.56" cy="518.84" r="1.35" fill="#c4c4c4"/>
<circle cx="464.84" cy="518.35" r="1.35" fill="#c4c4c4"/>
<circle cx="462.79" cy="516.23" r="1.35" fill="#c4c4c4"/>
<circle cx="462.29" cy="516.09" r="1.35" fill="#c4c4c4"/>
<circle cx="463.23" cy="518.11" r="1.35" fill="#c4c4c4"/>
<circle cx="463.14" cy="518.37" r="1.35" fill="#c4c4c4"/>
<circle cx="465.68" cy="518.72" r="1.35" fill="#c4c4c4"/>
<circle cx="463.5" cy="513.01" r="1.35" fill="#c4c4c4"/>
<circle cx="463.58" cy="518.58" r="1.35" fill="#c4c4c4"/>
<circle cx="463.16" cy="518.79" r="1.35" fill="#c4c4c4"/>
<circle cx="464.01" cy="514.49" r="1.35" fill="#c4c4c4"/>
<circle cx="462.56" cy="518.15" r="1.35" fill="#c4c4c4"/>
<circle cx="460.82" cy="523.41" r="1.35" fill="#c4c4c4"/>
<circle cx="460.96" cy="524.66" r="1.35" fill="#c4c4c4"/>
<circle cx="461.38" cy="531.96" r="1.35" fill="#c4c4c4"/>
<circle cx="462" cy="531.13" r="1.35" fill="#c4c4c4"/>
<circle cx="462.42" cy="533.79" r="1.35" fill="#c4c4c4"/>
<circle cx="462.35" cy="536.45" r="1.35" fill="#c4c4c4"/>
<circle cx="464.71" cy="537.61" r="1.35" fill="#c4c4c4"/>
<circle cx="448.95" cy="562.54" r="1.35" fill="#c4c4c4"/>
<circle cx="447.53" cy="563.37" r="1.35" fill="#c4c4c4"/>
<circle cx="447.82" cy="561.22" r="1.35" fill="#c4c4c4"/>
<circle cx="449.14" cy="558.69" r="1.35" fill="#c4c4c4"/>
<circle cx="450.6" cy="557.86" r="1.35" fill="#c4c4c4"/>
<circle cx="452.62" cy="556.03" r="1.35" fill="#c4c4c4"/>
<circle cx="455.26" cy="552.05" r="1.35" fill="#c4c4c4"/>
<circle cx="459.01" cy="548.15" r="1.35" fill="#c4c4c4"/>
<circle cx="469.16" cy="542.92" r="1.35" fill="#c4c4c4"/>
<circle cx="472.43" cy="541.92" r="1.35" fill="#c4c4c4"/>
<circle cx="476.04" cy="545.91" r="1.35" fill="#c4c4c4"/>
<circle cx="483.69" cy="549.23" r="1.35" fill="#c4c4c4"/>
<circle cx="486.88" cy="550.14" r="1.35" fill="#c4c4c4"/>
<circle cx="494.78" cy="555.01" r="1.35" fill="#c4c4c4"/>
<circle cx="496.41" cy="554.49" r="1.35" fill="#c4c4c4"/>
<circle cx="460.47" cy="521.09" r="1.35" fill="#e92d1e"/>
<circle cx="449.14" cy="562.58" r="1.35" fill="#e92e1e"/>
<circle cx="449.93" cy="563.35" r="1.35" fill="#e7412b"/>
<circle cx="448.71" cy="562.82" r="1.35" fill="#e83221"/>
<circle cx="448.61" cy="563.55" r="1.35" fill="#ea2418"/>
<circle cx="448.98" cy="561.63" r="1.35" fill="#ea271a"/>
<circle cx="449.33" cy="562.04" r="1.35" fill="#e6432c"/>
<circle cx="449.15" cy="562.37" r="1.35" fill="#e6482f"/>
<circle cx="448.62" cy="562.3" r="1.35" fill="#e6432c"/>
<circle cx="450.05" cy="563.31" r="1.35" fill="#e64b31"/>
<circle cx="448.67" cy="562.12" r="1.35" fill="#e9291b"/>
<circle cx="449.24" cy="564.04" r="1.35" fill="#e73f29"/>
<circle cx="450.65" cy="561.38" r="1.35" fill="#e6442c"/>
<circle cx="448.61" cy="562.32" r="1.35" fill="#e54e33"/>
<circle cx="448.56" cy="563.81" r="1.35" fill="#e73f29"/>
<circle cx="448.35" cy="562.66" r="1.35" fill="#e73b26"/>
<circle cx="449.46" cy="562.36" r="1.35" fill="#ea2418"/>
<circle cx="448.5" cy="561.77" r="1.35" fill="#e92a1c"/>
<circle cx="447.76" cy="562.28" r="1.35" fill="#e6452d"/>
<circle cx="449.45" cy="563.27" r="1.35" fill="#e83121"/>
<circle cx="446.83" cy="563.83" r="1.35" fill="#e73d28"/>
<circle cx="448.66" cy="562.52" r="1.35" fill="#e83322"/>
<circle cx="449.85" cy="563.92" r="1.35" fill="#ea2418"/>
<circle cx="448.45" cy="562.41" r="1.35" fill="#e9301f"/>
<circle cx="448.31" cy="565.17" r="1.35" fill="#e83926"/>
<circle cx="449.18" cy="560.89" r="1.35" fill="#e92e1e"/>
<circle cx="462.28" cy="544.66" r="1.35" fill="#e54f33"/>
<circle cx="481.81" cy="547.73" r="1.35" fill="#ea271a"/>
<circle cx="485.29" cy="549.73" r="1.35" fill="#e0654d"/>
<circle cx="489.73" cy="550.56" r="1.35" fill="#e73c27"/>
<circle cx="492.17" cy="555.87" r="1.35" fill="#e83724"/>
<circle cx="496.55" cy="555.15" r="1.35" fill="#db7d68"/>
<circle cx="495.66" cy="554.39" r="1.35" fill="#e15f46"/>
<circle cx="497.48" cy="554.13" r="1.35" fill="#e4563b"/>
<circle cx="495.99" cy="553.51" r="1.35" fill="#de6e57"/>
<circle cx="495.87" cy="553.3" r="1.35" fill="#e4563b"/>
<circle cx="495.49" cy="554.86" r="1.35" fill="#e25d43"/>
<circle cx="496.37" cy="553.59" r="1.35" fill="#de705a"/>
<circle cx="496.33" cy="554.34" r="1.35" fill="#e7402a"/>
<circle cx="495.54" cy="554.89" r="1.35" fill="#e16249"/>
<circle cx="496.29" cy="554.76" r="1.35" fill="#e16249"/>
<circle cx="495.71" cy="554.46" r="1.35" fill="#e54d32"/>
<circle cx="496.19" cy="553.97" r="1.35" fill="#e4563c"/>
<circle cx="495.62" cy="554.69" r="1.35" fill="#dc7762"/>
<circle cx="495.07" cy="553.48" r="1.35" fill="#e54f33"/>
<circle cx="496.83" cy="554.66" r="1.35" fill="#e1644b"/>
<circle cx="495.62" cy="555.36" r="1.35" fill="#e16047"/>
<circle cx="496.02" cy="554.4" r="1.35" fill="#e73b26"/>
<circle cx="497.28" cy="554.38" r="1.35" fill="#e0674f"/>
<circle cx="495.43" cy="556.16" r="1.35" fill="#de7059"/>
<circle cx="496.8" cy="554.41" r="1.35" fill="#e6452d"/>
<line x1="444.7" y1="511.4" x2="444.7" y2="568.2" stroke="#111" stroke-width="1"/>
<line x1="444.2" y1="567.7" x2="500.5" y2="567.7" stroke="#111" stroke-width="1"/>
<line x1="442.9" y1="514.7" x2="444.7" y2="514.7" stroke="#111" stroke-width="0.6"/>
<text x="441.75" y="516.82" font-size="5.9" text-anchor="end" fill="#222">4</text>
<line x1="442.9" y1="531.3" x2="444.7" y2="531.3" stroke="#111" stroke-width="0.6"/>
<text x="441.75" y="533.42" font-size="5.9" text-anchor="end" fill="#222">2</text>
<line x1="442.9" y1="547.9" x2="444.7" y2="547.9" stroke="#111" stroke-width="0.6"/>
<text x="441.75" y="550.02" font-size="5.9" text-anchor="end" fill="#222">0</text>
<line x1="442.9" y1="564.5" x2="444.7" y2="564.5" stroke="#111" stroke-width="0.6"/>
<text x="441.75" y="566.62" font-size="5.9" text-anchor="end" fill="#222">−2</text>
<line x1="455.4" y1="567.7" x2="455.4" y2="569.5" stroke="#111" stroke-width="0.6"/>
<text x="453.63" y="575.51" font-size="5.9" text-anchor="middle" fill="#222">−2</text>
<line x1="469.3" y1="567.7" x2="469.3" y2="569.5" stroke="#111" stroke-width="0.6"/>
<text x="469.3" y="575.51" font-size="5.9" text-anchor="middle" fill="#222">0</text>
<line x1="483.2" y1="567.7" x2="483.2" y2="569.5" stroke="#111" stroke-width="0.6"/>
<text x="483.2" y="575.51" font-size="5.9" text-anchor="middle" fill="#222">2</text>
<line x1="497.1" y1="567.7" x2="497.1" y2="569.5" stroke="#111" stroke-width="0.6"/>
<text x="497.1" y="575.51" font-size="5.9" text-anchor="middle" fill="#222">4</text>
<text x="383.8" y="544.2" font-size="8.2" font-style="italic" fill="#222">SMAD3</text>
<text x="473.4" y="579.6" font-size="5.8" text-anchor="middle" fill="#222">tSNE1</text>
<text x="435" y="537.94" font-size="5.8" text-anchor="middle" fill="#222" transform="rotate(-90 435 537.94)">tSNE2</text>
<circle cx="463.98" cy="589.07" r="1.35" fill="#c4c4c4"/>
<circle cx="463.55" cy="590.77" r="1.35" fill="#c4c4c4"/>
<circle cx="464.11" cy="589.3" r="1.35" fill="#c4c4c4"/>
<circle cx="463.77" cy="587.63" r="1.35" fill="#c4c4c4"/>
<circle cx="465.11" cy="589.78" r="1.35" fill="#c4c4c4"/>
<circle cx="463.3" cy="586.91" r="1.35" fill="#c4c4c4"/>
<circle cx="464.42" cy="586.87" r="1.35" fill="#c4c4c4"/>
<circle cx="461.51" cy="590.01" r="1.35" fill="#c4c4c4"/>
<circle cx="466.37" cy="590.95" r="1.35" fill="#c4c4c4"/>
<circle cx="464.29" cy="589.87" r="1.35" fill="#c4c4c4"/>
<circle cx="462.44" cy="587.44" r="1.35" fill="#c4c4c4"/>
<circle cx="461.83" cy="589.39" r="1.35" fill="#c4c4c4"/>
<circle cx="463" cy="587.67" r="1.35" fill="#c4c4c4"/>
<circle cx="463.68" cy="586.12" r="1.35" fill="#c4c4c4"/>
<circle cx="465.12" cy="589.01" r="1.35" fill="#c4c4c4"/>
<circle cx="464.34" cy="589.35" r="1.35" fill="#c4c4c4"/>
<circle cx="464.43" cy="589.27" r="1.35" fill="#c4c4c4"/>
<circle cx="462.84" cy="589.09" r="1.35" fill="#c4c4c4"/>
<circle cx="466.56" cy="590.99" r="1.35" fill="#c4c4c4"/>
<circle cx="464.84" cy="590.51" r="1.35" fill="#c4c4c4"/>
<circle cx="462.79" cy="588.41" r="1.35" fill="#c4c4c4"/>
<circle cx="462.29" cy="588.27" r="1.35" fill="#c4c4c4"/>
<circle cx="463.23" cy="590.26" r="1.35" fill="#c4c4c4"/>
<circle cx="463.14" cy="590.53" r="1.35" fill="#c4c4c4"/>
<circle cx="465.68" cy="590.87" r="1.35" fill="#c4c4c4"/>
<circle cx="463.5" cy="585.23" r="1.35" fill="#c4c4c4"/>
<circle cx="463.58" cy="590.73" r="1.35" fill="#c4c4c4"/>
<circle cx="463.16" cy="590.94" r="1.35" fill="#c4c4c4"/>
<circle cx="464.01" cy="586.69" r="1.35" fill="#c4c4c4"/>
<circle cx="462.56" cy="590.31" r="1.35" fill="#c4c4c4"/>
<circle cx="460.47" cy="593.21" r="1.35" fill="#c4c4c4"/>
<circle cx="460.96" cy="596.74" r="1.35" fill="#c4c4c4"/>
<circle cx="461.38" cy="603.96" r="1.35" fill="#c4c4c4"/>
<circle cx="462.35" cy="608.38" r="1.35" fill="#c4c4c4"/>
<circle cx="464.71" cy="609.53" r="1.35" fill="#c4c4c4"/>
<circle cx="448.67" cy="633.75" r="1.35" fill="#c4c4c4"/>
<circle cx="448.35" cy="634.29" r="1.35" fill="#c4c4c4"/>
<circle cx="447.76" cy="633.91" r="1.35" fill="#c4c4c4"/>
<circle cx="449.18" cy="632.54" r="1.35" fill="#c4c4c4"/>
<circle cx="449.14" cy="630.36" r="1.35" fill="#c4c4c4"/>
<circle cx="452.62" cy="627.74" r="1.35" fill="#c4c4c4"/>
<circle cx="455.26" cy="623.8" r="1.35" fill="#c4c4c4"/>
<circle cx="469.16" cy="614.78" r="1.35" fill="#c4c4c4"/>
<circle cx="476.04" cy="617.73" r="1.35" fill="#c4c4c4"/>
<circle cx="481.81" cy="619.54" r="1.35" fill="#c4c4c4"/>
<circle cx="483.69" cy="621.01" r="1.35" fill="#c4c4c4"/>
<circle cx="485.29" cy="621.5" r="1.35" fill="#c4c4c4"/>
<circle cx="489.73" cy="622.32" r="1.35" fill="#c4c4c4"/>
<circle cx="492.17" cy="627.57" r="1.35" fill="#c4c4c4"/>
<circle cx="496.41" cy="626.21" r="1.35" fill="#c4c4c4"/>
<circle cx="496.19" cy="625.7" r="1.35" fill="#c4c4c4"/>
<circle cx="495.62" cy="626.41" r="1.35" fill="#c4c4c4"/>
<circle cx="460.82" cy="595.51" r="1.35" fill="#e73e29"/>
<circle cx="462" cy="603.14" r="1.35" fill="#e83623"/>
<circle cx="462.42" cy="605.76" r="1.35" fill="#e83523"/>
<circle cx="449.14" cy="634.2" r="1.35" fill="#ea2418"/>
<circle cx="449.93" cy="634.96" r="1.35" fill="#ea2418"/>
<circle cx="448.95" cy="634.17" r="1.35" fill="#e6432c"/>
<circle cx="448.71" cy="634.44" r="1.35" fill="#ea271a"/>
<circle cx="448.61" cy="635.16" r="1.35" fill="#e6482f"/>
<circle cx="447.53" cy="634.98" r="1.35" fill="#e54e33"/>
<circle cx="448.98" cy="633.26" r="1.35" fill="#e6452d"/>
<circle cx="449.33" cy="633.67" r="1.35" fill="#e73f29"/>
<circle cx="449.15" cy="633.99" r="1.35" fill="#e92d1d"/>
<circle cx="448.62" cy="633.93" r="1.35" fill="#e73e28"/>
<circle cx="450.05" cy="634.92" r="1.35" fill="#e83624"/>
<circle cx="447.82" cy="632.86" r="1.35" fill="#e92e1e"/>
<circle cx="449.24" cy="635.65" r="1.35" fill="#e92b1c"/>
<circle cx="450.65" cy="633.02" r="1.35" fill="#ea2418"/>
<circle cx="448.61" cy="633.95" r="1.35" fill="#e9291b"/>
<circle cx="448.56" cy="635.42" r="1.35" fill="#e73e29"/>
<circle cx="449.46" cy="633.98" r="1.35" fill="#e73c28"/>
<circle cx="448.5" cy="633.4" r="1.35" fill="#e92f1f"/>
<circle cx="449.45" cy="634.89" r="1.35" fill="#e83624"/>
<circle cx="446.83" cy="635.44" r="1.35" fill="#e83221"/>
<circle cx="448.66" cy="634.15" r="1.35" fill="#ea2418"/>
<circle cx="449.85" cy="635.53" r="1.35" fill="#e73c28"/>
<circle cx="448.45" cy="634.04" r="1.35" fill="#e83221"/>
<circle cx="448.31" cy="636.76" r="1.35" fill="#e73d28"/>
<circle cx="450.6" cy="629.54" r="1.35" fill="#e1634a"/>
<circle cx="459.01" cy="619.95" r="1.35" fill="#e54d32"/>
<circle cx="462.28" cy="616.5" r="1.35" fill="#ea271a"/>
<circle cx="472.43" cy="613.8" r="1.35" fill="#e6462e"/>
<circle cx="486.88" cy="621.91" r="1.35" fill="#e6472e"/>
<circle cx="496.55" cy="626.86" r="1.35" fill="#e55135"/>
<circle cx="495.66" cy="626.11" r="1.35" fill="#e9301f"/>
<circle cx="497.48" cy="625.85" r="1.35" fill="#e45438"/>
<circle cx="495.99" cy="625.24" r="1.35" fill="#e4563c"/>
<circle cx="495.87" cy="625.04" r="1.35" fill="#e73e29"/>
<circle cx="495.49" cy="626.57" r="1.35" fill="#e73a26"/>
<circle cx="496.37" cy="625.33" r="1.35" fill="#e35a40"/>
<circle cx="496.33" cy="626.06" r="1.35" fill="#e54e33"/>
<circle cx="494.78" cy="626.73" r="1.35" fill="#e83926"/>
<circle cx="495.54" cy="626.61" r="1.35" fill="#e64b31"/>
<circle cx="496.29" cy="626.48" r="1.35" fill="#e25c41"/>
<circle cx="495.71" cy="626.18" r="1.35" fill="#e0664d"/>
<circle cx="495.07" cy="625.21" r="1.35" fill="#e54c31"/>
<circle cx="496.83" cy="626.38" r="1.35" fill="#d88673"/>
<circle cx="495.62" cy="627.07" r="1.35" fill="#da7f6b"/>
<circle cx="496.02" cy="626.12" r="1.35" fill="#e7422b"/>
<circle cx="497.28" cy="626.1" r="1.35" fill="#e6462d"/>
<circle cx="495.43" cy="627.86" r="1.35" fill="#e25e45"/>
<circle cx="496.8" cy="626.14" r="1.35" fill="#e7412a"/>
<line x1="444.9" y1="584" x2="444.9" y2="640.1" stroke="#111" stroke-width="1"/>
<line x1="444.4" y1="639.6" x2="500.5" y2="639.6" stroke="#111" stroke-width="1"/>
<line x1="443.1" y1="586.9" x2="444.9" y2="586.9" stroke="#111" stroke-width="0.6"/>
<text x="441.95" y="589.02" font-size="5.9" text-anchor="end" fill="#222">4</text>
<line x1="443.1" y1="603.3" x2="444.9" y2="603.3" stroke="#111" stroke-width="0.6"/>
<text x="441.95" y="605.42" font-size="5.9" text-anchor="end" fill="#222">2</text>
<line x1="443.1" y1="619.7" x2="444.9" y2="619.7" stroke="#111" stroke-width="0.6"/>
<text x="441.95" y="621.82" font-size="5.9" text-anchor="end" fill="#222">0</text>
<line x1="443.1" y1="636.1" x2="444.9" y2="636.1" stroke="#111" stroke-width="0.6"/>
<text x="441.95" y="638.22" font-size="5.9" text-anchor="end" fill="#222">−2</text>
<line x1="455.4" y1="639.6" x2="455.4" y2="641.4" stroke="#111" stroke-width="0.6"/>
<text x="453.63" y="647.41" font-size="5.9" text-anchor="middle" fill="#222">−2</text>
<line x1="469.3" y1="639.6" x2="469.3" y2="641.4" stroke="#111" stroke-width="0.6"/>
<text x="469.3" y="647.41" font-size="5.9" text-anchor="middle" fill="#222">0</text>
<line x1="483.2" y1="639.6" x2="483.2" y2="641.4" stroke="#111" stroke-width="0.6"/>
<text x="483.2" y="647.41" font-size="5.9" text-anchor="middle" fill="#222">2</text>
<line x1="497.1" y1="639.6" x2="497.1" y2="641.4" stroke="#111" stroke-width="0.6"/>
<text x="497.1" y="647.41" font-size="5.9" text-anchor="middle" fill="#222">4</text>
<text x="383.8" y="613.6" font-size="8.2" font-style="italic" fill="#222">SMAD4</text>
<text x="473.4" y="651.9" font-size="5.8" text-anchor="middle" fill="#222">tSNE1</text>
<text x="435" y="609.86" font-size="5.8" text-anchor="middle" fill="#222" transform="rotate(-90 435 609.86)">tSNE2</text>
<text x="426.5" y="500.3" font-size="7.4" text-anchor="middle" fill="#222" transform="rotate(-90 426.5 500.3)">Component 2</text>
<text x="475.1" y="660.8" font-size="7.8" text-anchor="middle" fill="#222">Component 1</text>
<defs><linearGradient id="rg2" x1="0" y1="1" x2="0" y2="0"><stop offset="0" stop-color="#c4c4c4"/><stop offset="1" stop-color="#e8271d"/></linearGradient></defs>
<rect x="517.2" y="586.2" width="10.7" height="48.3" fill="url(#rg2)"/>
<line x1="524.5" y1="591.1" x2="527.9" y2="591.1" stroke="#fff" stroke-width="0.9"/>
<text x="531.1" y="593.4" font-size="6.4" fill="#222">5</text>
<line x1="524.5" y1="599.3" x2="527.9" y2="599.3" stroke="#fff" stroke-width="0.9"/>
<text x="531.1" y="601.6" font-size="6.4" fill="#222">4</text>
<line x1="524.5" y1="607.7" x2="527.9" y2="607.7" stroke="#fff" stroke-width="0.9"/>
<text x="531.1" y="610" font-size="6.4" fill="#222">3</text>
<line x1="524.5" y1="616.1" x2="527.9" y2="616.1" stroke="#fff" stroke-width="0.9"/>
<text x="531.1" y="618.4" font-size="6.4" fill="#222">2</text>
<line x1="524.5" y1="624.7" x2="527.9" y2="624.7" stroke="#fff" stroke-width="0.9"/>
<text x="531.1" y="627" font-size="6.4" fill="#222">1</text>
<line x1="524.5" y1="632.9" x2="527.9" y2="632.9" stroke="#fff" stroke-width="0.9"/>
<text x="531.1" y="635.2" font-size="6.4" fill="#222">0</text>
<text x="512.6" y="605.6" font-size="6.8" text-anchor="middle" fill="#222" transform="rotate(-90 512.6 605.6)">Relative expression level</text>
<text x="548.3" y="501.8" font-size="7.5" text-anchor="middle" fill="#222" transform="rotate(-90 548.3 501.8)">Relative expression level</text>
<text x="620.7" y="659.8" font-size="7.3" text-anchor="middle" fill="#222">Pseudo-time</text>
<line x1="570.3" y1="385" x2="570.3" y2="429.6" stroke="#555" stroke-width="1.3"/>
<line x1="567.3" y1="396.4" x2="570.3" y2="396.4" stroke="#555" stroke-width="0.9"/>
<text x="565.3" y="398.4" font-size="5.6" text-anchor="end" fill="#222">10</text>
<line x1="567.3" y1="412.2" x2="570.3" y2="412.2" stroke="#555" stroke-width="0.9"/>
<text x="565.3" y="414.2" font-size="5.6" text-anchor="end" fill="#222">1</text>
<line x1="567.3" y1="427.6" x2="570.3" y2="427.6" stroke="#555" stroke-width="0.9"/>
<text x="565.3" y="429.6" font-size="5.6" text-anchor="end" fill="#222">0.1</text>
<circle cx="574.4" cy="427.4" r="2.2" fill="#5a7fbd"/>
<circle cx="576.8" cy="427.4" r="2.2" fill="#5a7fbd"/>
<circle cx="579.2" cy="427.4" r="2.2" fill="#5a7fbd"/>
<circle cx="581.6" cy="427.4" r="2.2" fill="#5a7fbd"/>
<circle cx="584" cy="427.4" r="2.2" fill="#5a7fbd"/>
<circle cx="588" cy="427.4" r="2.2" fill="#5a7fbd"/>
<circle cx="591.75" cy="427.4" r="2.2" fill="#5a7fbd"/>
<circle cx="595.5" cy="427.4" r="2.2" fill="#5a7fbd"/>
<circle cx="601.2" cy="427.4" r="2.2" fill="#5a7fbd"/>
<circle cx="605.2" cy="427.4" r="2.2" fill="#5a7fbd"/>
<circle cx="609.4" cy="427.4" r="2.2" fill="#5a7fbd"/>
<circle cx="627.5" cy="427.4" r="2.2" fill="#3a9c3a"/>
<circle cx="639.4" cy="427.4" r="2.2" fill="#e8484f"/>
<circle cx="649.2" cy="427.4" r="2.2" fill="#e8484f"/>
<circle cx="651.5" cy="427.4" r="2.2" fill="#e8484f"/>
<circle cx="653.8" cy="427.4" r="2.2" fill="#e8484f"/>
<circle cx="656.1" cy="427.4" r="2.2" fill="#e8484f"/>
<circle cx="658.4" cy="427.4" r="2.2" fill="#e8484f"/>
<circle cx="660.7" cy="427.4" r="2.2" fill="#e8484f"/>
<circle cx="663" cy="427.4" r="2.2" fill="#e8484f"/>
<circle cx="662.8" cy="427.4" r="2.2" fill="#3a9c3a"/>
<circle cx="668.5" cy="427.4" r="2.2" fill="#3a9c3a"/>
<circle cx="670.5" cy="427.4" r="2.2" fill="#3a9c3a"/>
<circle cx="672.5" cy="427.4" r="2.2" fill="#3a9c3a"/>
<circle cx="674.5" cy="427.4" r="2.2" fill="#3a9c3a"/>
<circle cx="676.5" cy="427.4" r="2.2" fill="#3a9c3a"/>
<circle cx="580.6" cy="407.5" r="2.2" fill="#5a7fbd"/>
<circle cx="602.6" cy="403" r="2.2" fill="#5a7fbd"/>
<circle cx="602.6" cy="412.2" r="2.2" fill="#5a7fbd"/>
<circle cx="609" cy="395.5" r="2.2" fill="#5a7fbd"/>
<circle cx="609" cy="405" r="2.2" fill="#5a7fbd"/>
<circle cx="611.7" cy="402.7" r="2.2" fill="#5a7fbd"/>
<circle cx="630.7" cy="389.2" r="2.2" fill="#e8484f"/>
<circle cx="623.3" cy="403" r="2.2" fill="#e8484f"/>
<circle cx="623.3" cy="412.2" r="2.2" fill="#3a9c3a"/>
<circle cx="635.5" cy="404.8" r="2.2" fill="#3a9c3a"/>
<circle cx="640.5" cy="407.3" r="2.2" fill="#e8484f"/>
<circle cx="645.3" cy="404.6" r="2.2" fill="#e8484f"/>
<circle cx="646.2" cy="411.8" r="2.2" fill="#3a9c3a"/>
<circle cx="651.5" cy="411.8" r="2.2" fill="#3a9c3a"/>
<circle cx="651" cy="395.2" r="2.2" fill="#e8484f"/>
<circle cx="651.9" cy="401.6" r="2.2" fill="#e8484f"/>
<circle cx="652.6" cy="407.3" r="2.2" fill="#e8484f"/>
<circle cx="656.5" cy="407" r="2.2" fill="#e8484f"/>
<circle cx="658" cy="407.5" r="2.2" fill="#e8484f"/>
<circle cx="660" cy="407.5" r="2.2" fill="#e8484f"/>
<circle cx="662" cy="407" r="2.2" fill="#e8484f"/>
<circle cx="661.7" cy="387.3" r="2.2" fill="#e8484f"/>
<circle cx="661" cy="390.5" r="2.2" fill="#e8484f"/>
<circle cx="660" cy="394.5" r="2.2" fill="#e8484f"/>
<circle cx="659" cy="398" r="2.2" fill="#e8484f"/>
<circle cx="661" cy="401" r="2.2" fill="#e8484f"/>
<circle cx="663" cy="402.5" r="2.2" fill="#e8484f"/>
<circle cx="660.5" cy="404.5" r="2.2" fill="#e8484f"/>
<circle cx="660" cy="411.8" r="2.2" fill="#e8484f"/>
<circle cx="668.5" cy="411.8" r="2.2" fill="#3a9c3a"/>
<circle cx="670" cy="404" r="2.2" fill="#3a9c3a"/>
<circle cx="671" cy="407" r="2.2" fill="#3a9c3a"/>
<circle cx="672" cy="399.5" r="2.2" fill="#3a9c3a"/>
<circle cx="673" cy="410" r="2.2" fill="#3a9c3a"/>
<circle cx="674.5" cy="406" r="2.2" fill="#3a9c3a"/>
<circle cx="675.5" cy="412" r="2.2" fill="#3a9c3a"/>
<circle cx="676.5" cy="408" r="2.2" fill="#3a9c3a"/>
<circle cx="672.5" cy="413" r="2.2" fill="#3a9c3a"/>
<circle cx="675" cy="402" r="2.2" fill="#3a9c3a"/>
<circle cx="677" cy="410.5" r="2.2" fill="#3a9c3a"/>
<path d="M574.9 425 C588 416 600 408 615 403 C630 398.5 645 398 655 401 C665 404 671 408 675.3 413.7" fill="none" stroke="#000" stroke-width="1.3"/>
<line x1="569.7" y1="452.9" x2="569.7" y2="497.1" stroke="#555" stroke-width="1.3"/>
<line x1="566.7" y1="453.8" x2="569.7" y2="453.8" stroke="#555" stroke-width="0.9"/>
<text x="564.7" y="455.8" font-size="5.6" text-anchor="end" fill="#222">100</text>
<line x1="566.7" y1="467.7" x2="569.7" y2="467.7" stroke="#555" stroke-width="0.9"/>
<text x="564.7" y="469.7" font-size="5.6" text-anchor="end" fill="#222">10</text>
<line x1="566.7" y1="481.5" x2="569.7" y2="481.5" stroke="#555" stroke-width="0.9"/>
<text x="564.7" y="483.5" font-size="5.6" text-anchor="end" fill="#222">1</text>
<line x1="566.7" y1="495.6" x2="569.7" y2="495.6" stroke="#555" stroke-width="0.9"/>
<text x="564.7" y="497.6" font-size="5.6" text-anchor="end" fill="#222">0.1</text>
<circle cx="574.6" cy="495.6" r="2.2" fill="#5a7fbd"/>
<circle cx="577.05" cy="495.6" r="2.2" fill="#5a7fbd"/>
<circle cx="579.5" cy="495.6" r="2.2" fill="#5a7fbd"/>
<circle cx="581.95" cy="495.6" r="2.2" fill="#5a7fbd"/>
<circle cx="584.4" cy="495.6" r="2.2" fill="#5a7fbd"/>
<circle cx="591.2" cy="495.6" r="2.2" fill="#5a7fbd"/>
<circle cx="594.6" cy="495.6" r="2.2" fill="#5a7fbd"/>
<circle cx="602.6" cy="495.6" r="2.2" fill="#5a7fbd"/>
<circle cx="605.15" cy="495.6" r="2.2" fill="#5a7fbd"/>
<circle cx="607.7" cy="495.6" r="2.2" fill="#5a7fbd"/>
<circle cx="610.25" cy="495.6" r="2.2" fill="#5a7fbd"/>
<circle cx="612.8" cy="495.6" r="2.2" fill="#5a7fbd"/>
<circle cx="623" cy="495.6" r="2.2" fill="#e8484f"/>
<circle cx="631" cy="495.6" r="2.2" fill="#e8484f"/>
<circle cx="640" cy="495.6" r="2.2" fill="#e8484f"/>
<circle cx="627.1" cy="495.6" r="2.2" fill="#3a9c3a"/>
<circle cx="636.2" cy="495.6" r="2.2" fill="#3a9c3a"/>
<circle cx="648" cy="495.6" r="2.2" fill="#e8484f"/>
<circle cx="650.1" cy="495.6" r="2.2" fill="#e8484f"/>
<circle cx="652.2" cy="495.6" r="2.2" fill="#e8484f"/>
<circle cx="654.3" cy="495.6" r="2.2" fill="#e8484f"/>
<circle cx="656.4" cy="495.6" r="2.2" fill="#e8484f"/>
<circle cx="658.5" cy="495.6" r="2.2" fill="#e8484f"/>
<circle cx="660.6" cy="495.6" r="2.2" fill="#e8484f"/>
<circle cx="662.8" cy="495.6" r="2.2" fill="#3a9c3a"/>
<circle cx="668.5" cy="495.6" r="2.2" fill="#3a9c3a"/>
<circle cx="670.77" cy="495.6" r="2.2" fill="#3a9c3a"/>
<circle cx="673.05" cy="495.6" r="2.2" fill="#3a9c3a"/>
<circle cx="675.33" cy="495.6" r="2.2" fill="#3a9c3a"/>
<circle cx="677.6" cy="495.6" r="2.2" fill="#3a9c3a"/>
<circle cx="582.1" cy="481.6" r="2.2" fill="#5a7fbd"/>
<circle cx="592.3" cy="470.3" r="2.2" fill="#5a7fbd"/>
<circle cx="592.8" cy="471.5" r="2.2" fill="#5a7fbd"/>
<circle cx="601.4" cy="470.3" r="2.2" fill="#5a7fbd"/>
<circle cx="602.6" cy="460" r="2.2" fill="#5a7fbd"/>
<circle cx="639.6" cy="457.7" r="2.2" fill="#e8484f"/>
<circle cx="645.3" cy="455.5" r="2.2" fill="#e8484f"/>
<circle cx="646.9" cy="477.1" r="2.2" fill="#3a9c3a"/>
<circle cx="646.9" cy="481.6" r="2.2" fill="#3a9c3a"/>
<circle cx="651.5" cy="477.1" r="2.2" fill="#e8484f"/>
<circle cx="651.9" cy="469.6" r="2.2" fill="#e8484f"/>
<circle cx="657" cy="470" r="2.2" fill="#e8484f"/>
<circle cx="658" cy="474" r="2.2" fill="#e8484f"/>
<circle cx="659" cy="476" r="2.2" fill="#e8484f"/>
<circle cx="660" cy="472" r="2.2" fill="#e8484f"/>
<circle cx="661" cy="460.5" r="2.2" fill="#e8484f"/>
<circle cx="661" cy="466" r="2.2" fill="#e8484f"/>
<circle cx="662" cy="469" r="2.2" fill="#e8484f"/>
<circle cx="663.5" cy="472" r="2.2" fill="#e8484f"/>
<circle cx="660" cy="478.7" r="2.2" fill="#e8484f"/>
<circle cx="658.5" cy="465" r="2.2" fill="#e8484f"/>
<circle cx="662.5" cy="475.5" r="2.2" fill="#e8484f"/>
<circle cx="672" cy="473" r="2.2" fill="#3a9c3a"/>
<circle cx="673.5" cy="476" r="2.2" fill="#3a9c3a"/>
<circle cx="674" cy="480" r="2.2" fill="#3a9c3a"/>
<circle cx="675.5" cy="474.5" r="2.2" fill="#3a9c3a"/>
<circle cx="676.5" cy="478.5" r="2.2" fill="#3a9c3a"/>
<circle cx="672.5" cy="482" r="2.2" fill="#3a9c3a"/>
<circle cx="675" cy="482" r="2.2" fill="#3a9c3a"/>
<path d="M575.3 495.3 C590 484 605 472 618 466 C627 462.5 633 462.5 640 465 C655 471 667 481 675.8 487.8" fill="none" stroke="#000" stroke-width="1.3"/>
<line x1="569.2" y1="524.1" x2="569.2" y2="568.5" stroke="#555" stroke-width="1.3"/>
<line x1="566.2" y1="537.3" x2="569.2" y2="537.3" stroke="#555" stroke-width="0.9"/>
<text x="564.2" y="539.3" font-size="5.6" text-anchor="end" fill="#222">10</text>
<line x1="566.2" y1="551.4" x2="569.2" y2="551.4" stroke="#555" stroke-width="0.9"/>
<text x="564.2" y="553.4" font-size="5.6" text-anchor="end" fill="#222">1</text>
<line x1="566.2" y1="565.5" x2="569.2" y2="565.5" stroke="#555" stroke-width="0.9"/>
<text x="564.2" y="567.5" font-size="5.6" text-anchor="end" fill="#222">0.1</text>
<circle cx="575.3" cy="567.3" r="2.2" fill="#5a7fbd"/>
<circle cx="578.12" cy="567.3" r="2.2" fill="#5a7fbd"/>
<circle cx="580.95" cy="567.3" r="2.2" fill="#5a7fbd"/>
<circle cx="583.77" cy="567.3" r="2.2" fill="#5a7fbd"/>
<circle cx="586.6" cy="567.3" r="2.2" fill="#5a7fbd"/>
<circle cx="590.5" cy="567.3" r="2.2" fill="#5a7fbd"/>
<circle cx="593.7" cy="567.3" r="2.2" fill="#5a7fbd"/>
<circle cx="596.9" cy="567.3" r="2.2" fill="#5a7fbd"/>
<circle cx="602.6" cy="567.3" r="2.2" fill="#5a7fbd"/>
<circle cx="606" cy="567.3" r="2.2" fill="#5a7fbd"/>
<circle cx="610.5" cy="567.3" r="2.2" fill="#5a7fbd"/>
<circle cx="614" cy="567.3" r="2.2" fill="#5a7fbd"/>
<circle cx="625.3" cy="567.3" r="2.2" fill="#e8484f"/>
<circle cx="632.8" cy="567.3" r="2.2" fill="#e8484f"/>
<circle cx="642.4" cy="567.3" r="2.2" fill="#e8484f"/>
<circle cx="629.4" cy="567.3" r="2.2" fill="#3a9c3a"/>
<circle cx="637.8" cy="567.3" r="2.2" fill="#3a9c3a"/>
<circle cx="648.7" cy="567.3" r="2.2" fill="#3a9c3a"/>
<circle cx="652.6" cy="567.3" r="2.2" fill="#e8484f"/>
<circle cx="654.5" cy="567.3" r="2.2" fill="#e8484f"/>
<circle cx="656.4" cy="567.3" r="2.2" fill="#e8484f"/>
<circle cx="658.3" cy="567.3" r="2.2" fill="#e8484f"/>
<circle cx="660.2" cy="567.3" r="2.2" fill="#e8484f"/>
<circle cx="662.1" cy="567.3" r="2.2" fill="#e8484f"/>
<circle cx="664" cy="567.3" r="2.2" fill="#e8484f"/>
<circle cx="664.7" cy="567.3" r="2.2" fill="#3a9c3a"/>
<circle cx="670.8" cy="567.3" r="2.2" fill="#3a9c3a"/>
<circle cx="672.8" cy="567.3" r="2.2" fill="#3a9c3a"/>
<circle cx="674.8" cy="567.3" r="2.2" fill="#3a9c3a"/>
<circle cx="676.8" cy="567.3" r="2.2" fill="#3a9c3a"/>
<circle cx="678.8" cy="567.3" r="2.2" fill="#3a9c3a"/>
<circle cx="604.1" cy="539.6" r="2.2" fill="#5a7fbd"/>
<circle cx="622.3" cy="536.6" r="2.2" fill="#3a9c3a"/>
<circle cx="644.2" cy="544.6" r="2.2" fill="#e8484f"/>
<circle cx="650.3" cy="551.4" r="2.2" fill="#3a9c3a"/>
<circle cx="659.4" cy="525.9" r="2.2" fill="#e8484f"/>
<circle cx="659.4" cy="532.1" r="2.2" fill="#e8484f"/>
<circle cx="657" cy="541" r="2.2" fill="#e8484f"/>
<circle cx="658.5" cy="543.5" r="2.2" fill="#e8484f"/>
<circle cx="660" cy="546" r="2.2" fill="#e8484f"/>
<circle cx="661.5" cy="542" r="2.2" fill="#e8484f"/>
<circle cx="663" cy="544.5" r="2.2" fill="#e8484f"/>
<circle cx="659" cy="548" r="2.2" fill="#e8484f"/>
<circle cx="670.8" cy="539" r="2.2" fill="#3a9c3a"/>
<circle cx="672" cy="542" r="2.2" fill="#3a9c3a"/>
<circle cx="673.5" cy="545" r="2.2" fill="#3a9c3a"/>
<circle cx="675" cy="541.5" r="2.2" fill="#3a9c3a"/>
<circle cx="671.5" cy="548" r="2.2" fill="#3a9c3a"/>
<circle cx="674" cy="551" r="2.2" fill="#3a9c3a"/>
<circle cx="672.5" cy="552.5" r="2.2" fill="#3a9c3a"/>
<circle cx="675.4" cy="547" r="2.2" fill="#3a9c3a"/>
<circle cx="668.5" cy="552" r="2.2" fill="#3a9c3a"/>
<path d="M574.1 566.2 L587.8 566.2 C600 558 615 550 628 546.5 C636 544.5 642 544 648 545 C660 547.5 668 551 674.2 554.1" fill="none" stroke="#000" stroke-width="1.3"/>
<line x1="569.8" y1="592.3" x2="569.8" y2="636.2" stroke="#555" stroke-width="1.3"/>
<line x1="566.8" y1="599.1" x2="569.8" y2="599.1" stroke="#555" stroke-width="0.9"/>
<text x="564.8" y="601.1" font-size="5.6" text-anchor="end" fill="#222">10</text>
<line x1="566.8" y1="616.8" x2="569.8" y2="616.8" stroke="#555" stroke-width="0.9"/>
<text x="564.8" y="618.8" font-size="5.6" text-anchor="end" fill="#222">1</text>
<line x1="566.8" y1="633.9" x2="569.8" y2="633.9" stroke="#555" stroke-width="0.9"/>
<text x="564.8" y="635.9" font-size="5.6" text-anchor="end" fill="#222">0.1</text>
<circle cx="574.1" cy="633.9" r="2.2" fill="#5a7fbd"/>
<circle cx="576.38" cy="633.9" r="2.2" fill="#5a7fbd"/>
<circle cx="578.65" cy="633.9" r="2.2" fill="#5a7fbd"/>
<circle cx="580.93" cy="633.9" r="2.2" fill="#5a7fbd"/>
<circle cx="583.2" cy="633.9" r="2.2" fill="#5a7fbd"/>
<circle cx="591.2" cy="633.9" r="2.2" fill="#5a7fbd"/>
<circle cx="593.5" cy="633.9" r="2.2" fill="#5a7fbd"/>
<circle cx="600.3" cy="633.9" r="2.2" fill="#5a7fbd"/>
<circle cx="601.9" cy="633.9" r="2.2" fill="#5a7fbd"/>
<circle cx="607.8" cy="633.9" r="2.2" fill="#5a7fbd"/>
<circle cx="611" cy="633.9" r="2.2" fill="#5a7fbd"/>
<circle cx="621.9" cy="633.9" r="2.2" fill="#3a9c3a"/>
<circle cx="626.4" cy="633.9" r="2.2" fill="#3a9c3a"/>
<circle cx="634.4" cy="633.9" r="2.2" fill="#3a9c3a"/>
<circle cx="630.3" cy="633.9" r="2.2" fill="#e8484f"/>
<circle cx="639" cy="633.9" r="2.2" fill="#e8484f"/>
<circle cx="644.6" cy="633.9" r="2.2" fill="#e8484f"/>
<circle cx="649.2" cy="633.9" r="2.2" fill="#e8484f"/>
<circle cx="651.28" cy="633.9" r="2.2" fill="#e8484f"/>
<circle cx="653.37" cy="633.9" r="2.2" fill="#e8484f"/>
<circle cx="655.45" cy="633.9" r="2.2" fill="#e8484f"/>
<circle cx="657.53" cy="633.9" r="2.2" fill="#e8484f"/>
<circle cx="659.62" cy="633.9" r="2.2" fill="#e8484f"/>
<circle cx="661.7" cy="633.9" r="2.2" fill="#e8484f"/>
<circle cx="662.8" cy="633.9" r="2.2" fill="#3a9c3a"/>
<circle cx="668.5" cy="633.9" r="2.2" fill="#3a9c3a"/>
<circle cx="670.5" cy="633.9" r="2.2" fill="#3a9c3a"/>
<circle cx="672.5" cy="633.9" r="2.2" fill="#3a9c3a"/>
<circle cx="674.5" cy="633.9" r="2.2" fill="#3a9c3a"/>
<circle cx="676.5" cy="633.9" r="2.2" fill="#3a9c3a"/>
<circle cx="604.4" cy="594.1" r="2.2" fill="#5a7fbd"/>
<circle cx="588.9" cy="606.2" r="2.2" fill="#5a7fbd"/>
<circle cx="608.2" cy="608.4" r="2.2" fill="#5a7fbd"/>
<circle cx="601.4" cy="616.8" r="2.2" fill="#5a7fbd"/>
<circle cx="622.3" cy="606.2" r="2.2" fill="#e8484f"/>
<circle cx="648.7" cy="600.5" r="2.2" fill="#e8484f"/>
<circle cx="651.9" cy="611.6" r="2.2" fill="#e8484f"/>
<circle cx="659.4" cy="596.8" r="2.2" fill="#e8484f"/>
<circle cx="659.4" cy="600.5" r="2.2" fill="#e8484f"/>
<circle cx="660.6" cy="608.4" r="2.2" fill="#e8484f"/>
<circle cx="658.3" cy="611.6" r="2.2" fill="#e8484f"/>
<circle cx="645.8" cy="616.8" r="2.2" fill="#3a9c3a"/>
<circle cx="650.3" cy="616.8" r="2.2" fill="#3a9c3a"/>
<circle cx="670.8" cy="598.6" r="2.2" fill="#3a9c3a"/>
<circle cx="672" cy="604" r="2.2" fill="#3a9c3a"/>
<circle cx="673.5" cy="607" r="2.2" fill="#3a9c3a"/>
<circle cx="675" cy="610" r="2.2" fill="#3a9c3a"/>
<circle cx="672.5" cy="613" r="2.2" fill="#3a9c3a"/>
<circle cx="674.5" cy="616.8" r="2.2" fill="#3a9c3a"/>
<circle cx="668.5" cy="616.8" r="2.2" fill="#3a9c3a"/>
<circle cx="675.4" cy="604.5" r="2.2" fill="#3a9c3a"/>
<path d="M575.3 633.9 C583 633 588 626 597 617 C606 609.5 615 607 627.6 607.1 C642 607.5 650 620.7 660.6 620.7 C667 620.7 671 616 674.2 613.4" fill="none" stroke="#000" stroke-width="1.3"/>
</svg>
</body></html>
